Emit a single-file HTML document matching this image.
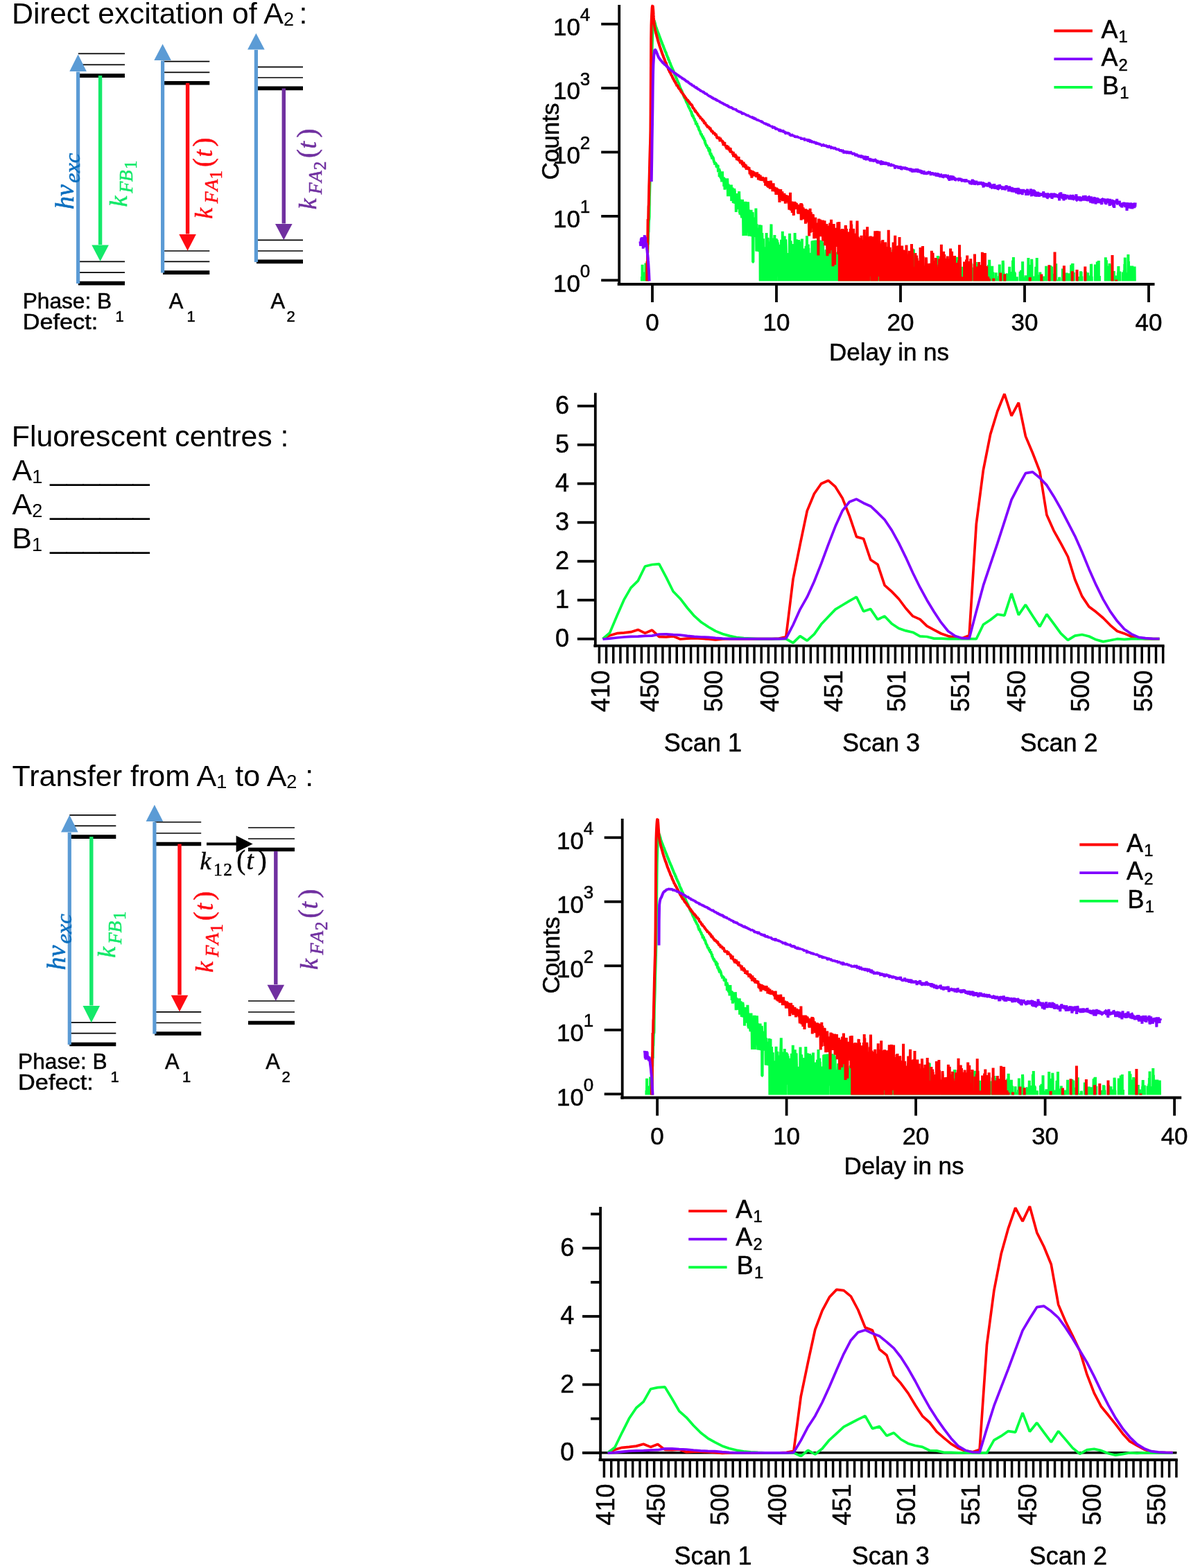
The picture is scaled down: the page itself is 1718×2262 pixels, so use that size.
<!DOCTYPE html>
<html lang="en"><head><meta charset="utf-8"><title>Fluorescence decay and spectra</title>
<style>
html,body{margin:0;padding:0;background:#fff;}
svg{display:block;}
text{white-space:pre;}
</style></head>
<body>
<svg width="1718" height="2262" viewBox="0 0 1718 2262">
<rect width="1718" height="2262" fill="#fff"/>
<text x="17" y="34.3" font-family='"Liberation Sans", sans-serif' font-size="43" fill="#000" xml:space="preserve"><tspan>Direct excitation of A</tspan><tspan font-size="27.09" dy="3">2 </tspan><tspan dy="-3" font-size="43">&#8203;</tspan><tspan>:</tspan></text>
<line x1="112.9" y1="77.4" x2="180" y2="77.4" stroke="#000" stroke-width="1.7"/><line x1="112.9" y1="93.4" x2="180" y2="93.4" stroke="#000" stroke-width="1.7"/><line x1="112.9" y1="109.1" x2="180" y2="109.1" stroke="#000" stroke-width="5.6"/>
<line x1="112.9" y1="377.4" x2="180" y2="377.4" stroke="#000" stroke-width="1.7"/><line x1="112.9" y1="393.1" x2="180" y2="393.1" stroke="#000" stroke-width="1.7"/><line x1="112.9" y1="408.6" x2="180" y2="408.6" stroke="#000" stroke-width="5.6"/>
<line x1="235" y1="88.6" x2="302.3" y2="88.6" stroke="#000" stroke-width="1.7"/><line x1="235" y1="104.3" x2="302.3" y2="104.3" stroke="#000" stroke-width="1.7"/><line x1="235" y1="119.7" x2="302.3" y2="119.7" stroke="#000" stroke-width="5.6"/>
<line x1="235" y1="362" x2="302.3" y2="362" stroke="#000" stroke-width="1.7"/><line x1="235" y1="377.4" x2="302.3" y2="377.4" stroke="#000" stroke-width="1.7"/><line x1="235" y1="393.1" x2="302.3" y2="393.1" stroke="#000" stroke-width="5.6"/>
<line x1="370" y1="96.6" x2="437" y2="96.6" stroke="#000" stroke-width="1.7"/><line x1="370" y1="112" x2="437" y2="112" stroke="#000" stroke-width="1.7"/><line x1="370" y1="127.4" x2="437" y2="127.4" stroke="#000" stroke-width="5.6"/>
<line x1="370" y1="346.3" x2="437" y2="346.3" stroke="#000" stroke-width="1.7"/><line x1="370" y1="362" x2="437" y2="362" stroke="#000" stroke-width="1.7"/><line x1="370" y1="377.4" x2="437" y2="377.4" stroke="#000" stroke-width="5.6"/>
<line x1="112.6" y1="409.1" x2="112.6" y2="103.4" stroke="#5b9bd5" stroke-width="5.2"/><polygon points="100.3,102.9 124.9,102.9 112.6,78.6" fill="#5b9bd5"/>
<line x1="144.6" y1="109.1" x2="144.6" y2="352.9" stroke="#14e969" stroke-width="5.4"/><polygon points="132.3,353.4 156.9,353.4 144.6,377.1" fill="#14e969"/>
<line x1="234.6" y1="393.6" x2="234.6" y2="87.6" stroke="#5b9bd5" stroke-width="5.2"/><polygon points="222.3,87.1 246.9,87.1 234.6,63.4" fill="#5b9bd5"/>
<line x1="270.6" y1="119.7" x2="270.6" y2="337.5" stroke="#ff0a12" stroke-width="5.4"/><polygon points="258.3,338 282.9,338 270.6,361.7" fill="#ff0a12"/>
<line x1="369.4" y1="377.9" x2="369.4" y2="71.9" stroke="#5b9bd5" stroke-width="5.2"/><polygon points="357.1,71.4 381.7,71.4 369.4,48" fill="#5b9bd5"/>
<line x1="409.3" y1="127.4" x2="409.3" y2="322.4" stroke="#7030a0" stroke-width="5.4"/><polygon points="397,322.9 421.6,322.9 409.3,346.3" fill="#7030a0"/>
<text transform="translate(105.8 302) rotate(-90)" font-family='"Liberation Serif", serif' font-size="38" fill="#0b6fbf" font-style="italic" stroke="#0b6fbf" stroke-width="0.55">h&#957;</text>
<text transform="translate(114.8 264) rotate(-90)" font-family='"Liberation Serif", serif' font-size="32.5" fill="#0b6fbf" font-style="italic" stroke="#0b6fbf" stroke-width="0.55">exc</text>
<text transform="translate(182.6 298.4) rotate(-90)" font-family='"Liberation Serif", serif' font-size="36" fill="#14e969" font-style="italic" stroke="#14e969" stroke-width="0.55">k</text><text transform="translate(191.2 278.6) rotate(-90)" font-family='"Liberation Serif", serif' font-size="27.5" fill="#14e969" font-style="italic" stroke="#14e969" stroke-width="0.55">F</text><text transform="translate(191.2 262.2) rotate(-90)" font-family='"Liberation Serif", serif' font-size="27.5" fill="#14e969" font-style="italic" stroke="#14e969" stroke-width="0.55">B</text><text transform="translate(196.9 243.9) rotate(-90)" font-family='"Liberation Serif", serif' font-size="25" fill="#14e969" font-style="normal" stroke="#14e969" stroke-width="0.55">1</text>
<text transform="translate(305.7 315.8) rotate(-90)" font-family='"Liberation Serif", serif' font-size="36" fill="#ff0a12" font-style="italic" stroke="#ff0a12" stroke-width="0.55">k</text><text transform="translate(314.3 293.3) rotate(-90)" font-family='"Liberation Serif", serif' font-size="27.5" fill="#ff0a12" font-style="italic" stroke="#ff0a12" stroke-width="0.55">F</text><text transform="translate(314.3 275.6) rotate(-90)" font-family='"Liberation Serif", serif' font-size="27.5" fill="#ff0a12" font-style="italic" stroke="#ff0a12" stroke-width="0.55">A</text><text transform="translate(320 258.4) rotate(-90)" font-family='"Liberation Serif", serif' font-size="25" fill="#ff0a12" font-style="normal" stroke="#ff0a12" stroke-width="0.55">1</text><text transform="translate(305.7 241.1) rotate(-90)" font-family='"Liberation Serif", serif' font-size="39" fill="#ff0a12" font-style="normal" stroke="#ff0a12" stroke-width="0.55">(</text><text transform="translate(305.7 226.5) rotate(-90)" font-family='"Liberation Serif", serif' font-size="37" fill="#ff0a12" font-style="italic" stroke="#ff0a12" stroke-width="0.55">t</text><text transform="translate(305.7 211.6) rotate(-90)" font-family='"Liberation Serif", serif' font-size="39" fill="#ff0a12" font-style="normal" stroke="#ff0a12" stroke-width="0.55">)</text>
<text transform="translate(455.7 302.2) rotate(-90)" font-family='"Liberation Serif", serif' font-size="36" fill="#7030a0" font-style="italic" stroke="#7030a0" stroke-width="0.55">k</text><text transform="translate(464.3 280.3) rotate(-90)" font-family='"Liberation Serif", serif' font-size="27.5" fill="#7030a0" font-style="italic" stroke="#7030a0" stroke-width="0.55">F</text><text transform="translate(464.3 262.9) rotate(-90)" font-family='"Liberation Serif", serif' font-size="27.5" fill="#7030a0" font-style="italic" stroke="#7030a0" stroke-width="0.55">A</text><text transform="translate(470 245.2) rotate(-90)" font-family='"Liberation Serif", serif' font-size="25" fill="#7030a0" font-style="normal" stroke="#7030a0" stroke-width="0.55">2</text><text transform="translate(455.7 227.9) rotate(-90)" font-family='"Liberation Serif", serif' font-size="39" fill="#7030a0" font-style="normal" stroke="#7030a0" stroke-width="0.55">(</text><text transform="translate(455.7 214.4) rotate(-90)" font-family='"Liberation Serif", serif' font-size="37" fill="#7030a0" font-style="italic" stroke="#7030a0" stroke-width="0.55">t</text><text transform="translate(455.7 198.6) rotate(-90)" font-family='"Liberation Serif", serif' font-size="39" fill="#7030a0" font-style="normal" stroke="#7030a0" stroke-width="0.55">)</text>
<text x="32.7" y="444.9" font-family='"Liberation Sans", sans-serif' font-size="32" fill="#000" text-anchor="start" textLength="128.5" lengthAdjust="spacingAndGlyphs" stroke="#000" stroke-width="0.5">Phase: B</text>
<text x="32.7" y="475.2" font-family='"Liberation Sans", sans-serif' font-size="32" fill="#000" text-anchor="start" textLength="108.6" lengthAdjust="spacingAndGlyphs" stroke="#000" stroke-width="0.5">Defect:</text>
<text x="166.5" y="463.7" font-family='"Liberation Sans", sans-serif' font-size="22" fill="#000" text-anchor="start" stroke="#000" stroke-width="0.5">1</text>
<text x="243.7" y="444.9" font-family='"Liberation Sans", sans-serif' font-size="32" fill="#000" text-anchor="start" textLength="20.6" lengthAdjust="spacingAndGlyphs" stroke="#000" stroke-width="0.5">A</text>
<text x="269.5" y="463.7" font-family='"Liberation Sans", sans-serif' font-size="22" fill="#000" text-anchor="start" stroke="#000" stroke-width="0.5">1</text>
<text x="390.6" y="444.9" font-family='"Liberation Sans", sans-serif' font-size="32" fill="#000" text-anchor="start" textLength="20.6" lengthAdjust="spacingAndGlyphs" stroke="#000" stroke-width="0.5">A</text>
<text x="413.5" y="463.7" font-family='"Liberation Sans", sans-serif' font-size="22" fill="#000" text-anchor="start" stroke="#000" stroke-width="0.5">2</text>
<text x="16.8" y="643.7" font-family='"Liberation Sans", sans-serif' font-size="42.8" fill="#000" xml:space="preserve"><tspan>Fluorescent centres :</tspan></text>
<text x="17.5" y="692.9" font-family='"Liberation Sans", sans-serif' font-size="43" fill="#000" xml:space="preserve"><tspan>A</tspan><tspan font-size="27.09" dy="4.2">1</tspan><tspan dy="-4.2" font-size="43">&#8203;</tspan></text>
<text x="72.3" y="692.9" font-family='"Liberation Sans", sans-serif' font-size="43" fill="#000" text-anchor="start" textLength="143.4" lengthAdjust="spacingAndGlyphs">______</text>
<text x="17.5" y="741.9" font-family='"Liberation Sans", sans-serif' font-size="43" fill="#000" xml:space="preserve"><tspan>A</tspan><tspan font-size="27.09" dy="4.2">2</tspan><tspan dy="-4.2" font-size="43">&#8203;</tspan></text>
<text x="72.3" y="741.9" font-family='"Liberation Sans", sans-serif' font-size="43" fill="#000" text-anchor="start" textLength="143.4" lengthAdjust="spacingAndGlyphs">______</text>
<text x="17.2" y="790.9" font-family='"Liberation Sans", sans-serif' font-size="43" fill="#000" xml:space="preserve"><tspan>B</tspan><tspan font-size="27.09" dy="4.2">1</tspan><tspan dy="-4.2" font-size="43">&#8203;</tspan></text>
<text x="72.3" y="790.9" font-family='"Liberation Sans", sans-serif' font-size="43" fill="#000" text-anchor="start" textLength="143.4" lengthAdjust="spacingAndGlyphs">______</text>
<text x="17.5" y="1134.2" font-family='"Liberation Sans", sans-serif' font-size="43" fill="#000" xml:space="preserve"><tspan>Transfer from A</tspan><tspan font-size="27.09" dy="3">1</tspan><tspan dy="-3" font-size="43">&#8203;</tspan><tspan> to A</tspan><tspan font-size="27.09" dy="3">2</tspan><tspan dy="-3" font-size="43">&#8203;</tspan><tspan> :</tspan></text>
<line x1="100.3" y1="1175.8" x2="167.3" y2="1175.8" stroke="#000" stroke-width="1.7"/><line x1="100.3" y1="1191.3" x2="167.3" y2="1191.3" stroke="#000" stroke-width="1.7"/><line x1="100.3" y1="1207.1" x2="167.3" y2="1207.1" stroke="#000" stroke-width="5.6"/>
<line x1="100.3" y1="1475.2" x2="167.3" y2="1475.2" stroke="#000" stroke-width="1.7"/><line x1="100.3" y1="1490.7" x2="167.3" y2="1490.7" stroke="#000" stroke-width="1.7"/><line x1="100.3" y1="1506.5" x2="167.3" y2="1506.5" stroke="#000" stroke-width="5.6"/>
<line x1="223.2" y1="1186" x2="290.2" y2="1186" stroke="#000" stroke-width="1.7"/><line x1="223.2" y1="1202" x2="290.2" y2="1202" stroke="#000" stroke-width="1.7"/><line x1="223.2" y1="1217.5" x2="290.2" y2="1217.5" stroke="#000" stroke-width="5.6"/>
<line x1="223.2" y1="1459.8" x2="290.2" y2="1459.8" stroke="#000" stroke-width="1.7"/><line x1="223.2" y1="1475.5" x2="290.2" y2="1475.5" stroke="#000" stroke-width="1.7"/><line x1="223.2" y1="1491" x2="290.2" y2="1491" stroke="#000" stroke-width="5.6"/>
<line x1="358" y1="1194" x2="425" y2="1194" stroke="#000" stroke-width="1.7"/><line x1="358" y1="1210" x2="425" y2="1210" stroke="#000" stroke-width="1.7"/><line x1="358" y1="1225.5" x2="425" y2="1225.5" stroke="#000" stroke-width="5.6"/>
<line x1="358" y1="1444" x2="425" y2="1444" stroke="#000" stroke-width="1.7"/><line x1="358" y1="1460" x2="425" y2="1460" stroke="#000" stroke-width="1.7"/><line x1="358" y1="1475.5" x2="425" y2="1475.5" stroke="#000" stroke-width="5.6"/>
<line x1="100.3" y1="1507" x2="100.3" y2="1201" stroke="#5b9bd5" stroke-width="5.2"/><polygon points="88,1200.5 112.6,1200.5 100.3,1175.8" fill="#5b9bd5"/>
<line x1="131.8" y1="1207.1" x2="131.8" y2="1450.6" stroke="#14e969" stroke-width="5.4"/><polygon points="119.5,1451.1 144.1,1451.1 131.8,1475.2" fill="#14e969"/>
<line x1="222.9" y1="1491.5" x2="222.9" y2="1185.5" stroke="#5b9bd5" stroke-width="5.2"/><polygon points="210.6,1185 235.2,1185 222.9,1161" fill="#5b9bd5"/>
<line x1="259" y1="1217.5" x2="259" y2="1435.2" stroke="#ff0a12" stroke-width="5.4"/><polygon points="246.7,1435.7 271.3,1435.7 259,1459.5" fill="#ff0a12"/>
<line x1="397.8" y1="1228.1" x2="397.8" y2="1420.3" stroke="#7030a0" stroke-width="5.4"/><polygon points="385.5,1420.8 410.1,1420.8 397.8,1444" fill="#7030a0"/>
<line x1="298" y1="1217.5" x2="342" y2="1217.5" stroke="#000" stroke-width="3.8"/>
<polygon points="340.6,1205.4 340.6,1229.4 364.6,1217.5" fill="#000"/>
<text transform="translate(93.6 1399.6) rotate(-90)" font-family='"Liberation Serif", serif' font-size="38" fill="#0b6fbf" font-style="italic" stroke="#0b6fbf" stroke-width="0.55">h&#957;</text>
<text transform="translate(102.6 1361.6) rotate(-90)" font-family='"Liberation Serif", serif' font-size="32.5" fill="#0b6fbf" font-style="italic" stroke="#0b6fbf" stroke-width="0.55">exc</text>
<text transform="translate(166.4 1381.8) rotate(-90)" font-family='"Liberation Serif", serif' font-size="36" fill="#14e969" font-style="italic" stroke="#14e969" stroke-width="0.55">k</text><text transform="translate(175 1362) rotate(-90)" font-family='"Liberation Serif", serif' font-size="27.5" fill="#14e969" font-style="italic" stroke="#14e969" stroke-width="0.55">F</text><text transform="translate(175 1345.6) rotate(-90)" font-family='"Liberation Serif", serif' font-size="27.5" fill="#14e969" font-style="italic" stroke="#14e969" stroke-width="0.55">B</text><text transform="translate(180.7 1327.3) rotate(-90)" font-family='"Liberation Serif", serif' font-size="25" fill="#14e969" font-style="normal" stroke="#14e969" stroke-width="0.55">1</text>
<text transform="translate(306.6 1402.9) rotate(-90)" font-family='"Liberation Serif", serif' font-size="36" fill="#ff0a12" font-style="italic" stroke="#ff0a12" stroke-width="0.55">k</text><text transform="translate(315.2 1380.4) rotate(-90)" font-family='"Liberation Serif", serif' font-size="27.5" fill="#ff0a12" font-style="italic" stroke="#ff0a12" stroke-width="0.55">F</text><text transform="translate(315.2 1362.7) rotate(-90)" font-family='"Liberation Serif", serif' font-size="27.5" fill="#ff0a12" font-style="italic" stroke="#ff0a12" stroke-width="0.55">A</text><text transform="translate(320.9 1345.5) rotate(-90)" font-family='"Liberation Serif", serif' font-size="25" fill="#ff0a12" font-style="normal" stroke="#ff0a12" stroke-width="0.55">1</text><text transform="translate(306.6 1328.2) rotate(-90)" font-family='"Liberation Serif", serif' font-size="39" fill="#ff0a12" font-style="normal" stroke="#ff0a12" stroke-width="0.55">(</text><text transform="translate(306.6 1313.6) rotate(-90)" font-family='"Liberation Serif", serif' font-size="37" fill="#ff0a12" font-style="italic" stroke="#ff0a12" stroke-width="0.55">t</text><text transform="translate(306.6 1298.7) rotate(-90)" font-family='"Liberation Serif", serif' font-size="39" fill="#ff0a12" font-style="normal" stroke="#ff0a12" stroke-width="0.55">)</text>
<text transform="translate(457.5 1399.1) rotate(-90)" font-family='"Liberation Serif", serif' font-size="36" fill="#7030a0" font-style="italic" stroke="#7030a0" stroke-width="0.55">k</text><text transform="translate(466.1 1377.2) rotate(-90)" font-family='"Liberation Serif", serif' font-size="27.5" fill="#7030a0" font-style="italic" stroke="#7030a0" stroke-width="0.55">F</text><text transform="translate(466.1 1359.8) rotate(-90)" font-family='"Liberation Serif", serif' font-size="27.5" fill="#7030a0" font-style="italic" stroke="#7030a0" stroke-width="0.55">A</text><text transform="translate(471.8 1342.1) rotate(-90)" font-family='"Liberation Serif", serif' font-size="25" fill="#7030a0" font-style="normal" stroke="#7030a0" stroke-width="0.55">2</text><text transform="translate(457.5 1324.8) rotate(-90)" font-family='"Liberation Serif", serif' font-size="39" fill="#7030a0" font-style="normal" stroke="#7030a0" stroke-width="0.55">(</text><text transform="translate(457.5 1311.3) rotate(-90)" font-family='"Liberation Serif", serif' font-size="37" fill="#7030a0" font-style="italic" stroke="#7030a0" stroke-width="0.55">t</text><text transform="translate(457.5 1295.5) rotate(-90)" font-family='"Liberation Serif", serif' font-size="39" fill="#7030a0" font-style="normal" stroke="#7030a0" stroke-width="0.55">)</text>
<text x="288.5" y="1254.2" font-family='"Liberation Serif", serif' font-size="36" fill="#000" text-anchor="start" stroke="#000" stroke-width="0.5" font-style="italic">k</text>
<text x="308" y="1262.7" font-family='"Liberation Serif", serif' font-size="25.5" fill="#000" text-anchor="start" letter-spacing="1.6" stroke="#000" stroke-width="0.5">12</text>
<text x="341.3" y="1254.2" font-family='"Liberation Serif", serif' font-size="39" fill="#000" text-anchor="start" stroke="#000" stroke-width="0.5">(</text>
<text x="355.5" y="1254.2" font-family='"Liberation Serif", serif' font-size="37" fill="#000" text-anchor="start" stroke="#000" stroke-width="0.5" font-style="italic">t</text>
<text x="371.8" y="1254.2" font-family='"Liberation Serif", serif' font-size="39" fill="#000" text-anchor="start" stroke="#000" stroke-width="0.5">)</text>
<text x="26.1" y="1541.9" font-family='"Liberation Sans", sans-serif' font-size="32" fill="#000" text-anchor="start" textLength="128.5" lengthAdjust="spacingAndGlyphs" stroke="#000" stroke-width="0.5">Phase: B</text>
<text x="26.1" y="1572.2" font-family='"Liberation Sans", sans-serif' font-size="32" fill="#000" text-anchor="start" textLength="108.6" lengthAdjust="spacingAndGlyphs" stroke="#000" stroke-width="0.5">Defect:</text>
<text x="159.5" y="1560.7" font-family='"Liberation Sans", sans-serif' font-size="22" fill="#000" text-anchor="start" stroke="#000" stroke-width="0.5">1</text>
<text x="238" y="1541.9" font-family='"Liberation Sans", sans-serif' font-size="32" fill="#000" text-anchor="start" textLength="20.6" lengthAdjust="spacingAndGlyphs" stroke="#000" stroke-width="0.5">A</text>
<text x="263" y="1560.7" font-family='"Liberation Sans", sans-serif' font-size="22" fill="#000" text-anchor="start" stroke="#000" stroke-width="0.5">1</text>
<text x="383.3" y="1541.9" font-family='"Liberation Sans", sans-serif' font-size="32" fill="#000" text-anchor="start" textLength="20.6" lengthAdjust="spacingAndGlyphs" stroke="#000" stroke-width="0.5">A</text>
<text x="406.5" y="1560.7" font-family='"Liberation Sans", sans-serif' font-size="22" fill="#000" text-anchor="start" stroke="#000" stroke-width="0.5">2</text>
<clipPath id="c1"><rect x="894.7" y="0" width="900" height="405.5"/></clipPath>
<g clip-path="url(#c1)">
<polyline fill="none" stroke="#00ff40" stroke-width="4" stroke-linejoin="bevel" points="923.5,446.9 925.7,443.8 926,398.9 926.3,439.9 926.6,381.7 926.9,436.8 929.2,413.3 929.5,392.5 929.8,414.5 931.2,444.3 931.5,379.4 931.8,401.1 932,444.8 932.3,409.4 932.6,445.9 932.9,408.9 933.2,446.6 933.8,439.5 934.1,358.6 934.3,364.5 934.6,344.1 934.9,352.7 935.2,335.3 935.5,334.5 935.8,322.3 936.1,317 936.3,316.3 936.6,312.3 936.9,284.4 937.2,274.1 937.5,264.4 937.8,255.2 938.1,237.4 938.4,229.7 938.6,219.6 938.9,207.8 939.2,196.3 939.5,184.5 939.8,161.4 940.1,127.7 940.4,93.6 940.6,71.5 940.9,60.8 941.2,51.3 941.5,44.2 941.8,38.3 942.1,34.8 942.4,32 942.6,30.2 942.9,29.3 943.2,29.3 943.5,29.8 943.8,30.4 944.1,30.9 944.4,32 944.7,33 944.9,33.9 945.2,35.3 945.5,36.3 945.8,37.5 946.1,38.8 946.4,39.3 946.7,40 946.9,40.9 947.2,41.7 947.5,42.3 947.8,43.3 948.1,43.8 948.4,44.9 948.7,45.8 948.9,46.3 949.2,46.9 949.5,47.8 949.8,48.6 950.1,49.1 950.4,49.7 950.7,50.7 951,51.7 951.2,52.4 951.5,53 951.8,53.9 952.1,54.6 952.4,55.5 952.7,55.8 953,57.1 953.2,57.5 953.5,58.3 953.8,58.6 954.1,60 954.4,60.8 954.7,61.1 955,61.8 955.2,62.9 955.5,63.2 955.8,64.4 956.1,64.7 956.4,65.5 956.7,65.9 957,67.2 957.3,67.9 957.5,68.4 957.8,69.5 958.1,70 958.4,70.8 958.7,71.5 959,71.8 959.3,73.3 959.5,73.5 959.8,74.5 960.1,74.9 960.4,75.2 960.7,76.2 961,76.9 961.3,77.9 961.5,78.3 961.8,79.7 962.1,79.9 962.4,80.7 962.7,81.8 963,82.1 963.3,83.3 963.6,82.9 963.8,84.2 964.1,85.4 964.4,85.9 964.7,86.6 965,87 965.3,87.4 965.6,88.6 965.8,88.8 966.1,90.7 966.4,90.6 966.7,90.9 967,91.8 967.3,93 967.6,93.6 967.8,94.5 968.1,94.6 968.4,95.5 968.7,96.5 969,96.5 969.3,97.7 969.6,98.6 969.9,98.4 970.1,99.1 970.4,99.9 970.7,100.7 971,101.6 971.3,101.8 971.6,103 971.9,103.9 972.1,104.8 972.4,105.5 972.7,105.8 973,106.9 973.3,107.5 973.6,107.7 973.9,108 974.2,109.4 974.4,109.2 974.7,110.9 975,111.3 975.3,112.1 975.6,112.9 975.9,113.1 976.2,113.7 976.4,114.3 976.7,115.9 977,116 977.3,117.2 977.6,116.6 977.9,118.6 978.2,119 978.4,120 978.7,119.1 979,120.6 979.3,120.9 979.6,121.8 979.9,123 980.2,124 980.5,124.4 980.7,125.3 981,126.1 981.3,127 981.6,126.9 981.9,128.2 982.2,128.7 982.5,130.7 982.7,129.5 983,131 983.3,130.3 983.6,131.7 983.9,132.4 984.2,133.4 984.5,134.7 984.7,134.3 985,134.9 985.3,135.8 985.6,136.5 985.9,137 986.2,138.3 986.5,139.3 986.8,139.8 987,139.1 987.3,140.8 987.6,141.9 987.9,141.5 988.2,143 988.5,142.3 988.8,143.4 989,144.1 989.3,144.2 989.6,145.9 989.9,146.5 990.2,147.1 990.5,147.6 990.8,148.8 991,148.6 991.3,149.4 991.6,149.1 991.9,151.2 992.2,151.2 992.5,151.2 992.8,153.3 993.1,153.7 993.3,153.5 993.6,154.2 993.9,155.3 994.2,155.8 994.5,156.1 994.8,156.9 995.1,157.7 995.3,157.4 995.6,158.8 995.9,159.2 996.2,158.9 996.5,161.3 996.8,160.7 997.1,160.8 997.3,161.5 997.6,164.6 997.9,162.8 998.2,166.2 998.5,165.7 998.8,167.4 999.1,167.8 999.4,166.4 999.6,166.5 999.9,168.4 1000.2,168.9 1000.5,169.5 1000.8,170.7 1001.1,170.8 1001.4,172.2 1001.6,171.5 1001.9,172 1002.2,173.9 1002.5,174.2 1002.8,175.2 1003.1,174.6 1003.4,176.8 1003.6,174.3 1003.9,179.9 1004.2,178.8 1004.5,177.3 1004.8,178.8 1005.1,177.4 1005.4,179.1 1005.7,180.9 1005.9,181.6 1006.2,180.7 1006.5,182.7 1006.8,183.8 1007.1,182.2 1007.4,183.8 1007.7,183.7 1007.9,186.5 1008.2,186.3 1008.5,187.5 1008.8,188 1009.1,188.4 1009.4,188.4 1009.7,190.3 1010,189.3 1010.2,191.3 1010.5,192 1010.8,192.9 1011.1,193.2 1011.4,194.8 1011.7,193.3 1012,192.6 1012.2,195.2 1012.5,195.7 1012.8,196.5 1013.1,197.1 1013.4,197.5 1013.7,195.6 1014,198.4 1014.2,199.3 1014.5,199.8 1014.8,200.6 1015.1,198.4 1015.4,200.9 1015.7,201 1016,202.5 1016.3,202.2 1016.5,204 1016.8,202.4 1017.1,207.2 1017.4,205.6 1017.7,207 1018,208.3 1018.3,208.6 1018.5,208.7 1018.8,209.2 1019.1,211.6 1019.4,209.8 1019.7,209.9 1020,211.4 1020.3,211.2 1020.5,214 1020.8,213.6 1021.1,213.5 1021.4,213.4 1021.7,212.2 1022,215.5 1022.3,216.3 1022.6,218.6 1022.8,213.5 1023.1,217.3 1023.4,217.5 1023.7,219.9 1024,215.4 1024.3,222.9 1024.6,220.7 1024.8,223 1025.1,223.9 1025.4,220.8 1025.7,222.1 1026,225.9 1026.3,225 1026.6,227.3 1026.8,223.3 1027.1,228.4 1027.4,228.9 1027.7,225.5 1028,226.5 1028.3,228.3 1028.6,226.6 1028.9,229 1029.1,228.6 1029.4,231.2 1029.7,231.9 1030,232.8 1030.3,234.8 1030.6,233.9 1030.9,233.3 1031.1,237.7 1031.4,233.8 1031.7,237.7 1032,234.2 1032.3,237.8 1032.6,235.6 1032.9,237.3 1033.1,235.6 1033.4,239.9 1033.7,241.2 1034,240.6 1034.3,237.5 1034.6,242.4 1034.9,239.8 1035.2,240.9 1035.4,238.2 1035.7,239.9 1036,248.3 1036.3,247.4 1036.6,244.2 1036.9,244.8 1037.2,247.6 1037.4,243.1 1037.7,255.2 1038,245.4 1038.3,247.3 1038.6,250.5 1038.9,248.1 1039.2,255.2 1039.4,256.3 1039.7,249.8 1040,252.1 1040.3,258.3 1040.6,252.8 1040.9,254.6 1041.2,262.5 1041.5,252.2 1041.7,251.2 1042,247.3 1042.3,257.8 1042.6,256.3 1042.9,256.2 1043.2,257 1043.5,259.1 1043.7,258.6 1044,255.6 1044.3,269 1044.6,257.3 1044.9,256.9 1045.2,263.3 1045.5,273.7 1045.8,262.5 1046,258.1 1046.3,259.2 1046.6,266.4 1046.9,267.9 1047.2,267 1047.5,266.6 1047.8,261.6 1048,261.8 1048.3,272.3 1048.6,257.5 1048.9,267.5 1049.2,257.4 1049.5,264.4 1049.8,271.5 1050,283.3 1050.3,269.5 1050.6,266.4 1050.9,266.8 1051.2,283.1 1051.5,270.6 1051.8,267.4 1052.1,267.1 1052.3,279.1 1052.6,277.9 1052.9,268.4 1053.2,268.9 1053.5,277.1 1053.8,270.7 1054.1,273 1054.3,278.2 1054.6,276 1054.9,266.6 1055.2,289.9 1055.5,274.3 1055.8,278.9 1056.1,282.9 1056.3,278.3 1056.6,270.6 1056.9,285.7 1057.2,281.7 1057.5,286.1 1057.8,292.7 1058.1,292.3 1058.4,290.3 1058.6,272.1 1058.9,282.5 1059.2,272.1 1059.5,274.7 1059.8,275.4 1060.1,287.5 1060.4,290.2 1060.6,279.8 1060.9,282 1061.2,280.2 1061.5,283.9 1061.8,305.9 1062.1,296.5 1062.4,288.8 1062.6,291.8 1062.9,286.3 1063.2,292.9 1063.5,300.9 1063.8,279.1 1064.1,284.7 1064.4,295.3 1064.7,301.8 1064.9,294.5 1065.2,301 1065.5,293.7 1065.8,285.7 1066.1,276 1066.4,285 1066.7,299.2 1066.9,307.2 1067.2,287.6 1067.5,309.7 1067.8,297.8 1068.1,302.9 1068.4,302.6 1068.7,302.3 1068.9,296.6 1069.2,307.8 1069.5,311 1069.8,310.8 1070.1,314.3 1070.4,310.2 1070.7,306.5 1071,287.8 1071.2,302.7 1071.5,305.7 1071.8,302.2 1072.1,316.7 1072.4,340.1 1072.7,312 1073,311.9 1073.2,308.1 1073.5,301.5 1073.8,321 1074.1,308.2 1074.4,312.1 1074.7,312.1 1075,290.9 1075.2,301.7 1075.5,316.4 1075.8,291 1076.1,340.1 1076.4,308.5 1076.7,321.3 1077,293.5 1077.3,308.6 1077.5,332.9 1077.8,326.8 1078.1,312.5 1078.4,326.9 1078.7,312.6 1079,291.3 1079.3,302.1 1079.5,327 1079.8,302.2 1080.1,333.3 1080.4,340.6 1080.7,321.8 1081,317.1 1081.3,312.9 1081.6,309.1 1081.8,340.8 1082.1,327.3 1082.4,327.4 1082.7,333.6 1083,322.1 1083.3,327.5 1083.6,302.7 1083.8,333.7 1084.1,333.8 1084.4,341.1 1084.7,317.6 1085,333.9 1085.3,341.2 1085.6,306.1 1085.8,309.7 1086.1,378.1 1086.4,378.1 1086.7,327.9 1087,313.6 1087.3,328 1087.6,317.9 1087.9,318 1088.1,313.8 1088.4,341.6 1088.7,322.8 1089,313.9 1089.3,322.9 1089.6,322.9 1089.9,328.3 1090.1,341.9 1090.4,300.6 1090.7,334.7 1091,328.5 1091.3,362.6 1091.6,323.3 1091.9,342.2 1092.1,342.2 1092.4,362.8 1092.7,328.8 1093,335.1 1093.3,328.9 1093.6,335.2 1093.9,351.5 1094.2,335.3 1094.4,351.6 1094.7,335.4 1095,363.3 1095.3,335.5 1095.6,351.9 1095.9,324.2 1096.2,352.1 1096.4,329.8 1096.7,408.1 1097,352.7 1097.3,328.8 1097.6,347.1 1097.9,324.8 1098.2,381.3 1098.4,382.3 1098.7,469.5 1099,411.5 1099.3,336.1 1099.6,346.4 1099.9,353 1100.2,469.5 1100.5,372 1100.7,411.5 1101,344.2 1101.3,407.3 1101.6,367.1 1101.9,387.5 1102.2,412.3 1102.5,412.9 1102.7,386.7 1103,418.6 1103.3,412.6 1103.6,360.9 1103.9,409.4 1104.2,387.2 1104.5,366.3 1104.7,356.3 1105,389 1105.3,371 1105.6,335.9 1105.9,407.7 1106.2,355.9 1106.5,379.9 1106.8,343.8 1107,415.8 1107.3,342.7 1107.6,370.8 1107.9,411.5 1108.2,359.7 1108.5,383.9 1108.8,388.5 1109,418.5 1109.3,348.5 1109.6,411.5 1109.9,469.5 1110.2,386.8 1110.5,373.1 1110.8,418.7 1111.1,361.2 1111.3,367.9 1111.6,345 1111.9,342.4 1112.2,336.2 1112.5,323.4 1112.8,364.4 1113.1,349.1 1113.3,343.5 1113.6,414.4 1113.9,372.8 1114.2,367.9 1114.5,387 1114.8,356.3 1115.1,412.3 1115.3,363.4 1115.6,351.8 1115.9,353.3 1116.2,350.3 1116.5,407.2 1116.8,355.7 1117.1,355.5 1117.4,339.1 1117.6,364.6 1117.9,408.1 1118.2,387.7 1118.5,368.9 1118.8,381.7 1119.1,409.4 1119.4,356.9 1119.6,344.1 1119.9,390.7 1120.2,345.3 1120.5,368.1 1120.8,390.8 1121.1,346.3 1121.4,356.9 1121.6,356.1 1121.9,349.5 1122.2,372 1122.5,359.1 1122.8,365.8 1123.1,370.7 1123.4,469.5 1123.7,371.8 1123.9,356.4 1124.2,373.8 1124.5,353.9 1124.8,353.2 1125.1,362.3 1125.4,370.4 1125.7,359.8 1125.9,416.5 1126.2,370.7 1126.5,365.1 1126.8,355 1127.1,345.8 1127.4,389.8 1127.7,389.1 1127.9,409.1 1128.2,357.7 1128.5,370.9 1128.8,333.8 1129.1,384.1 1129.4,389.8 1129.7,365.3 1130,352.5 1130.2,417.9 1130.5,389.9 1130.8,408.6 1131.1,357.7 1131.4,385.1 1131.7,340.4 1132,382.5 1132.2,374.8 1132.5,356 1132.8,364 1133.1,370.6 1133.4,345.4 1133.7,354 1134,366.5 1134.2,388.9 1134.5,367.8 1134.8,411.6 1135.1,386.2 1135.4,382.6 1135.7,383.4 1136,367.4 1136.3,469.5 1136.5,411.5 1136.8,364.9 1137.1,412.1 1137.7,411.5 1138,381 1138.3,469.5 1138.5,408.9 1138.8,372.3 1139.1,336.7 1139.4,364.8 1139.7,388.9 1140,385 1140.3,365.6 1140.5,347.6 1140.8,350.2 1141.1,390.6 1141.4,469.5 1141.7,390.6 1142,388 1142.3,391.6 1142.6,383.1 1142.8,354.4 1143.1,370 1143.4,369.4 1143.7,352.1 1144,356.4 1144.3,383.3 1144.6,408.7 1144.8,411.5 1145.1,414.9 1145.4,354.9 1145.7,419.4 1146,373.2 1146.3,384.1 1146.6,336.1 1146.9,351.7 1147.1,372.1 1147.4,358 1147.7,362.7 1148,358.7 1148.3,368.5 1148.6,412.1 1148.9,345.3 1149.1,359 1149.4,368.3 1149.7,414.5 1150,368 1150.3,418.6 1150.6,347.7 1150.9,469.5 1151.1,350.5 1151.4,353.6 1151.7,382.5 1152,469.5 1152.3,346.1 1152.6,389.7 1152.9,370 1153.2,356.6 1153.4,352.2 1153.7,351 1154,348.4 1154.3,370.3 1154.6,372.4 1154.9,374 1155.2,365.1 1155.4,412 1155.7,411.5 1156,361.1 1156.3,384 1156.6,384.2 1156.9,344.5 1157.2,411.5 1157.4,386.4 1157.7,376 1158,361.7 1158.3,385.4 1158.6,365.3 1158.9,415.7 1159.2,367.5 1159.5,358.6 1159.7,469.5 1160,360.5 1160.3,418 1160.6,370.3 1160.9,391.6 1161.2,370.6 1161.5,361.4 1161.7,362.6 1162,372 1162.3,365.9 1162.6,354.8 1162.9,415.8 1163.2,364.7 1163.5,421.3 1163.7,391.8 1164,340.2 1164.3,414.6 1164.6,373.8 1164.9,377.1 1165.2,384 1165.5,384 1165.8,352.6 1166,385.4 1166.3,357.8 1166.6,386.2 1166.9,373 1167.2,385.5 1167.5,371 1167.8,413 1168,386.7 1168.3,388.7 1168.6,375.3 1168.9,414.1 1169.2,364.7 1169.5,383.9 1169.8,416.8 1170,393.8 1170.3,413.9 1170.6,390.6 1170.9,382.9 1171.2,382.2 1171.5,347.7 1171.8,388.2 1172.1,373.7 1172.3,413.7 1172.6,347 1172.9,377.7 1173.2,411.5 1173.8,469.5 1174.1,391.1 1174.3,418.7 1174.6,415.9 1174.9,346.7 1175.2,420.1 1175.5,354.6 1175.8,366.5 1176.1,389 1176.3,419.6 1176.6,346.6 1176.9,469.5 1177.2,373.2 1177.5,366.2 1177.8,387.6 1178.1,368.9 1178.4,385.8 1178.6,391.9 1178.9,389.8 1179.2,350.2 1179.5,387.1 1179.8,364 1180.1,339.9 1180.4,371.3 1180.6,392.2 1180.9,367.5 1181.2,416.6 1181.5,386 1181.8,356.1 1182.1,469.5 1182.4,365.2 1182.6,417.8 1182.9,469.5 1183.2,346.4 1183.5,378.3 1183.8,420.9 1184.1,365.6 1184.4,362.4 1184.7,358.2 1184.9,387.1 1185.2,366.1 1185.5,347.6 1185.8,369.1 1186.1,362.6 1186.4,349.8 1186.7,370.2 1186.9,394.8 1187.2,353.6 1187.5,469.5 1187.8,416 1188.1,376.4 1188.4,370.5 1188.7,370.7 1189,412.7 1189.2,469.5 1189.5,391.3 1189.8,469.5 1190.1,384.4 1190.4,413 1190.7,469.5 1191,374.2 1191.2,370.1 1191.5,361.2 1191.8,360.7 1192.1,469.5 1192.4,417.8 1192.7,390.4 1193,469.5 1193.2,414.6 1193.5,375 1193.8,421.5 1194.1,363.5 1194.4,469.5 1194.7,392.1 1195,420.7 1195.8,417.7 1196.1,361.7 1196.4,422.6 1196.7,356.9 1197,417.1 1197.3,358.9 1197.5,358.1 1197.8,421.3 1198.1,469.5 1198.4,377.2 1198.7,390.3 1199,395.4 1199.3,393.5 1199.5,394.4 1199.8,393.5 1200.1,379.8 1200.4,362 1200.7,338.8 1201,415 1201.3,412.6 1201.6,396.5 1201.8,341.4 1202.1,379.3 1202.4,390.3 1202.7,373.9 1203,358.1 1203.3,469.5 1203.6,391.9 1203.8,414.4 1204.1,393.9 1204.4,469.5 1204.7,417.3 1205,387.4 1205.3,389 1205.6,366.7 1205.8,421.6 1206.1,396.2 1206.4,393.4 1206.7,387.4 1207,388.5 1207.3,393.3 1207.6,374.1 1207.9,380 1208.1,363.7 1208.4,366.8 1208.7,415.4 1209,362.7 1209.3,393 1209.6,390.8 1209.9,469.5 1210.7,421.4 1211,360.5 1211.3,414.3 1211.6,370.7 1211.9,395 1212.1,424.2 1212.4,379.4 1212.7,469.5 1213,369.2 1213.3,417.7 1213.6,372.1 1213.9,372.4 1214.2,469.5 1214.4,344.2 1214.7,370 1215,375.9 1215.3,390.2 1215.6,364.4 1215.9,389.6 1216.2,375.9 1216.4,372.9 1216.7,372.2 1217,419.8 1217.3,469.5 1217.6,342.8 1217.9,421.1 1218.2,395.1 1218.5,376.4 1218.7,382.1 1219,376.4 1219.3,424.8 1219.6,376 1219.9,395.4 1220.2,421.3 1220.5,417.9 1220.7,387.9 1221,387.4 1221.3,380.9 1221.6,380.6 1221.9,425.8 1222.2,379.3 1222.5,415.3 1222.7,419.8 1223,398.9 1223.3,469.5 1223.6,360.2 1223.9,423.7 1224.2,375 1224.5,362.4 1224.8,362.1 1225,367.3 1225.3,396.6 1225.6,394 1225.9,368.1 1226.2,415.3 1226.5,426.6 1226.8,383.1 1227,422.3 1227.3,363.9 1227.6,420.7 1228.2,421.9 1228.5,373.1 1228.8,367.7 1229,469.5 1229.3,366.2 1229.6,362.9 1229.9,354.9 1230.2,398.5 1230.5,417.6 1230.8,388.2 1231.1,359.5 1231.3,469.5 1231.6,379.6 1231.9,392.9 1232.2,363.3 1232.5,415.9 1232.8,370 1233.1,343.7 1233.3,382.4 1233.6,419 1234.2,469.5 1234.5,378 1234.8,423 1235.1,392.1 1235.3,364.2 1235.6,361.8 1235.9,381.7 1236.2,418.3 1236.5,378 1236.8,424.1 1237.1,363.1 1237.4,380.8 1237.6,393.3 1237.9,420.2 1238.5,420.6 1238.8,396.9 1239.1,369.1 1239.4,469.5 1239.6,423.3 1239.9,377.3 1240.2,383.5 1240.5,394.3 1240.8,382.4 1241.1,425.2 1241.4,397.4 1241.6,418 1241.9,362.4 1242.2,359.4 1242.5,371.6 1242.8,377.1 1243.1,426.6 1244.2,421.5 1244.5,364.4 1244.8,382.8 1245.1,426.7 1245.4,358.6 1245.7,377.1 1245.9,375.1 1246.2,390.4 1246.5,426.6 1246.8,393.3 1247.1,469.5 1247.7,469.5 1247.9,379.7 1248.2,469.5 1248.5,374.1 1248.8,421.9 1249.1,353.2 1249.4,391.5 1249.7,383.9 1250,366.2 1250.2,360 1250.5,364.2 1250.8,420.7 1251.1,392.1 1251.4,379.4 1251.7,398.9 1252,429.4 1252.5,469.5 1252.8,396.8 1253.1,370.2 1253.4,429.4 1253.7,395.7 1254,425.3 1254.3,382.1 1254.5,421.8 1254.8,392.1 1255.1,393.3 1255.4,427.5 1255.7,364.8 1256,399.9 1256.3,469.5 1256.5,399.1 1256.8,395.4 1257.1,378 1257.4,402.6 1257.7,399.6 1258,423 1258.3,419.7 1258.5,379.9 1258.8,399 1259.1,364.9 1259.4,427.4 1259.7,380.5 1260,371 1260.3,372.5 1260.6,426.5 1260.8,469.5 1261.1,357 1261.4,356 1261.7,392.7 1262,469.5 1262.3,426.8 1262.6,394.1 1262.8,430.2 1263.1,375.6 1263.4,382.5 1263.7,380.9 1264,426.8 1264.3,395.2 1264.6,426.4 1265.1,428.3 1265.4,381.8 1265.7,426.8 1266,401.8 1266.3,469.5 1266.6,424.5 1266.9,394.3 1267.1,469.5 1267.4,380.9 1267.7,383.1 1268,424.3 1268.3,399.5 1268.6,376.4 1268.9,422.4 1269.1,395.3 1269.4,399.9 1269.7,469.5 1270,429.7 1270.3,376.8 1270.6,469.5 1270.9,359.8 1271.1,363.8 1271.4,469.5 1271.7,423.8 1272,402.5 1272.3,428.5 1272.6,385.6 1272.9,469.5 1273.2,381.3 1273.4,388.9 1273.7,394.3 1274,397.1 1274.3,430.3 1274.6,426.8 1274.9,400.6 1275.2,360.4 1275.4,469.5 1275.7,426.7 1276,405.6 1276.3,393.8 1276.6,401.4 1276.9,400.9 1277.2,379.9 1277.4,404.5 1277.7,469.5 1278,394.4 1278.3,433 1278.6,402.9 1278.9,469.5 1279.2,370.8 1279.5,423.9 1279.7,367.7 1280,368.9 1280.3,394.5 1280.6,389.3 1280.9,432 1281.2,425.8 1281.5,380.5 1281.7,397.7 1282,426.5 1282.3,423.2 1282.6,406.1 1282.9,429.8 1283.2,401.7 1283.5,379.9 1283.7,428.1 1284.3,424.9 1284.6,395.5 1284.9,399.9 1285.2,426.3 1285.5,424.2 1285.8,396.2 1286,380.8 1286.3,389 1286.6,396.2 1286.9,400.5 1287.2,388.7 1287.5,406.8 1287.8,364.1 1288,469.5 1288.3,360.1 1288.6,391.4 1288.9,469.5 1289.2,400.5 1289.5,429.7 1289.8,407.8 1290.1,426.5 1290.3,402.6 1290.6,390.8 1290.9,469.5 1291.2,469.5 1291.5,406.1 1291.8,429 1292.1,400.5 1292.3,372.5 1292.6,408.2 1292.9,389.8 1293.2,433.4 1293.5,358.6 1293.8,432.2 1294.1,385 1294.3,433.8 1294.6,397.3 1294.9,469.5 1295.2,392 1295.5,469.5 1295.8,431.9 1296.1,402.8 1296.4,397.8 1296.6,469.5 1296.9,469.5 1297.2,384.7 1297.5,427.1 1298.1,435.4 1298.4,381.1 1298.6,469.5 1298.9,469.5 1299.2,387.1 1299.5,426.3 1299.8,399.7 1300.1,378.4 1300.4,469.5 1302.1,433.2 1302.4,399 1302.7,374.9 1302.9,400.6 1303.2,436.9 1303.5,436.7 1303.8,406.9 1304.1,469.5 1305.5,429.3 1305.8,382.4 1306.1,401.4 1306.4,469.5 1307.2,469.5 1307.5,403.5 1307.8,469.5 1308.1,400.7 1308.4,390.9 1308.7,432.7 1309.5,437.2 1309.8,403.6 1310.1,430 1311,469.5 1311.2,408.7 1311.5,430.1 1311.8,469.5 1312.1,399.9 1312.4,402 1312.7,469.5 1313.2,436.4 1313.5,365.4 1313.8,469.5 1314.1,469.5 1314.4,389.7 1314.7,430.7 1315,469.5 1315.3,382.8 1315.5,429.1 1316.1,431.5 1316.4,401 1316.7,375 1317,381.7 1317.3,403.6 1317.5,469.5 1317.8,359.5 1318.1,393.3 1318.4,436.6 1318.7,401.5 1319,430.8 1319.3,408.8 1319.5,404.6 1319.8,400.3 1320.1,436.5 1320.4,408 1320.7,400.5 1321,388.1 1321.3,469.5 1321.8,432.8 1322.1,373.5 1322.4,469.5 1322.7,469.5 1323,401.9 1323.3,377.3 1323.6,389.5 1323.8,469.5 1324.4,469.5 1324.7,389.7 1325,428.9 1326.1,469.5 1326.4,396.3 1326.7,403.2 1327,411.5 1327.3,406 1327.6,404.8 1327.9,396.7 1328.1,429.1 1328.4,407.9 1328.7,403.7 1329,405.7 1329.3,402.9 1329.6,438.4 1329.9,369.4 1330.1,431.2 1331,411.5 1331.3,404.6 1331.6,441 1332.2,469.5 1332.4,406.5 1332.7,411.5 1333.6,429.7 1333.9,408.8 1334.2,469.5 1335.3,432.7 1335.6,388.8 1335.9,407.9 1336.2,412.6 1336.4,390.2 1336.7,441.7 1337.9,441.6 1338.2,404.9 1338.5,438.7 1339.3,469.5 1339.6,386.2 1339.9,469.5 1340.7,411.7 1341,384.6 1341.3,404.4 1341.6,469.5 1341.9,393.1 1342.2,388.6 1342.5,394.9 1342.7,391.1 1343,469.5 1343.3,469.5 1343.6,404.3 1343.9,412.2 1344.2,411.5 1344.5,384.5 1344.8,380.6 1345,378.9 1345.3,433.5 1346.2,440.3 1346.5,393.3 1346.8,469.5 1347,469.5 1347.3,379 1347.6,396.2 1347.9,469.5 1351.3,469.5 1351.6,391.5 1351.9,469.5 1352.5,436.1 1352.8,369 1353.1,437.1 1353.3,433.8 1353.6,389.8 1353.9,441.2 1354.2,407.3 1354.5,394.2 1354.8,436 1357.1,435.2 1357.4,375.4 1357.6,469.5 1359.4,437.5 1359.6,387.2 1359.9,415.7 1360.2,411.9 1360.5,399.4 1360.8,438.9 1361.1,413.2 1361.4,393.5 1361.7,411.5 1361.9,406.7 1362.2,436 1363.4,440.1 1363.7,405.8 1363.9,445.5 1364.2,394.1 1364.5,390 1364.8,435.2 1365.7,435.1 1365.9,409.4 1366.2,415 1367.1,414.5 1367.4,381.4 1367.7,436.6 1368,391.5 1368.2,385.8 1368.5,443.4 1370,437.2 1370.2,399.8 1370.5,437.5 1371.1,469.5 1371.4,396.9 1371.7,408.7 1372,469.5 1372.5,436.2 1372.8,382.5 1373.1,399.8 1373.4,411.5 1373.7,437.7 1374,390.1 1374.3,372.9 1374.5,380 1374.8,469.5 1376.8,412 1377.1,400.7 1377.4,441.2 1377.7,411.5 1378,381.8 1378.3,411.5 1378.5,381.3 1378.8,411.5 1379.1,397.1 1379.4,469.5 1379.7,398.2 1380,384 1380.3,445 1380.6,370.7 1380.8,469.5 1381.1,401.7 1381.4,393.3 1381.7,441.8 1382,395 1382.3,469.5 1382.6,403 1382.8,440.4 1384.8,440.6 1385.1,393.5 1385.4,440 1386,411.5 1386.3,387.1 1386.6,447.2 1386.9,411.8 1387.1,408.4 1387.4,469.5 1387.7,411.5 1388,384.7 1388.3,396.8 1388.6,440 1389.7,444.7 1390,392 1390.3,411.5 1392.9,411.5 1393.2,380.9 1393.4,412 1393.7,401.6 1394,399.7 1394.3,399.9 1394.6,411.6 1395.2,417.2 1395.4,395.2 1395.7,445.7 1396.9,469.5 1397.2,401.1 1397.5,412.5 1398.6,445 1398.9,408.2 1399.2,385.9 1399.5,416.8 1400.3,418.5 1400.6,379.2 1400.9,411.8 1401.2,393.8 1401.5,418.7 1401.7,392.5 1402,439 1402.3,393 1402.6,469.5 1403.2,469.5 1403.5,403.4 1403.8,443.9 1404,440.7 1404.3,408.1 1404.6,385.7 1404.9,393.1 1405.2,469.5 1405.5,416.4 1405.8,390.8 1406,469.5 1406.3,411.5 1406.6,402.5 1406.9,436.9 1407.2,391.8 1407.5,438.4 1407.8,378.1 1408,418.3 1408.3,415.6 1408.6,380.9 1408.9,444.7 1411.8,442.4 1412.1,399.2 1412.3,445.8 1414.3,469.5 1414.6,385.9 1414.9,441 1415.2,469.5 1415.5,402.7 1415.8,396.6 1416.1,415.3 1417.2,417.1 1417.5,395.1 1417.8,469.5 1418.1,400.8 1418.4,414.6 1419.8,412.2 1420.1,380.3 1420.4,469.5 1420.6,400.8 1420.9,392.1 1421.2,412.1 1422.1,416.1 1422.4,409.3 1422.7,469.5 1424.9,469.5 1425.2,385.1 1425.5,436.1 1425.8,417.9 1426.1,381.9 1426.4,397.5 1426.7,469.5 1426.9,393.8 1427.2,374.8 1427.5,392.7 1427.8,398 1428.1,396.1 1428.4,469.5 1431,469.5 1431.2,383.7 1431.5,437.8 1431.8,447.3 1432.1,395.2 1432.4,392.5 1432.7,469.5 1434.1,417.7 1434.4,403.3 1434.7,442 1436.1,444.9 1436.4,408.8 1436.7,393.3 1437,417.1 1438.7,440.4 1439,401.4 1439.3,469.5 1440.7,439.3 1441,398.2 1441.3,408 1441.6,411.7 1441.8,381.4 1442.1,469.5 1445,416.5 1445.3,399.9 1445.6,412.8 1445.9,395.6 1446.1,419.1 1446.4,397.7 1446.7,376 1447,380.4 1447.3,438.7 1447.6,393.6 1447.9,442.8 1449,411.5 1449.3,401.5 1449.6,469.5 1452.4,441.9 1452.7,395.6 1453,394.8 1453.3,469.5 1455.6,436.6 1455.9,398 1456.2,384.7 1456.4,438.8 1459,411.5 1459.3,392.1 1459.6,469.5 1459.9,394.6 1460.2,469.5 1460.7,469.5 1461,375.7 1461.3,445.7 1461.6,408.9 1461.9,371 1462.2,395.2 1462.5,415.2 1462.7,391.8 1463,437.5 1463.3,392.6 1463.6,413.3 1463.9,393.5 1464.2,446.5 1465,469.5 1465.3,401.9 1465.6,469.5 1466.5,446.6 1466.8,399.2 1467,413.2 1468.2,469.5 1468.5,407.7 1468.8,417.3 1469.6,436.6 1469.9,409.1 1470.2,440.5 1471.3,437.7 1471.6,391.8 1471.9,411.5 1472.8,436.8 1473.1,389.8 1473.3,436.8 1474.2,438.9 1474.5,393.6 1474.8,469.5 1475.1,377.2 1475.4,412.4 1475.6,469.5 1475.9,400 1476.2,401.2 1476.5,411.5 1476.8,469.5 1477.1,408.1 1477.4,416.7 1479.4,469.5 1479.6,397.3 1479.9,439.5 1482.8,413.4 1483.1,408.8 1483.4,372.1 1483.7,409.5 1483.9,440.2 1484.8,469.5 1485.1,399.9 1485.4,382 1485.7,418.9 1485.9,399.7 1486.2,416.3 1488,441.6 1488.2,373.7 1488.5,382.9 1488.8,436.2 1489.1,436.1 1489.4,398.7 1489.7,439.6 1490,469.5 1490.2,402.8 1490.5,441.9 1492,435.7 1492.2,398.5 1492.5,418.5 1493.7,440 1494,399.6 1494.3,384.8 1494.5,418.1 1494.8,409.3 1495.1,436.8 1495.4,469.5 1495.7,372 1496,469.5 1496.3,396.9 1496.5,411.5 1497.1,441.8 1497.4,409.1 1497.7,469.5 1498,412.3 1498.3,396.5 1498.5,418.7 1500,411.5 1500.3,392.6 1500.6,411.5 1504.6,437.3 1504.9,399.1 1505.1,442 1505.4,402.7 1505.7,445.7 1506,398.6 1506.3,469.5 1508.9,417.3 1509.1,383.8 1509.4,413.8 1509.7,408 1510,442.5 1513.4,469.5 1513.7,407.9 1514,469.5 1514.9,441 1515.2,383 1515.4,408.9 1515.7,437.5 1516.3,446 1516.6,395.3 1516.9,438 1517.2,384.6 1517.5,441.8 1518.3,435.7 1518.6,408.3 1518.9,438.5 1520.3,439.7 1520.6,394.7 1520.9,469.5 1522.9,411.5 1523.2,380.3 1523.5,435.6 1524,443.1 1524.3,403.5 1524.6,443.9 1527.8,436.9 1528,399.7 1528.3,401.8 1528.6,437.7 1532.6,437.7 1532.9,387.6 1533.2,396.7 1533.5,441 1533.8,401.3 1534.1,440.5 1536.9,469.5 1537.2,402.4 1537.5,417.2 1538.4,442.1 1538.6,393.6 1538.9,397.4 1539.2,397.4 1539.5,437.9 1539.8,443.4 1540.1,401.5 1540.4,411.8 1540.7,395.2 1540.9,446.8 1541.2,394.3 1541.5,411.5 1541.8,469.5 1542.1,407.8 1542.4,413.8 1544.9,411.5 1545.2,382.2 1545.5,438.4 1546.1,411.5 1546.4,392.1 1546.7,381.7 1547,380.9 1547.2,411.5 1547.5,379.9 1547.8,469.5 1548.4,442.4 1548.7,392.9 1549,442.1 1552.7,442.4 1553,408.5 1553.3,408.6 1553.5,469.5 1555,419.3 1555.3,399 1555.5,401.8 1555.8,469.5 1557.3,469.5 1557.5,409.3 1557.8,411.5 1558.1,409.1 1558.4,469.5 1558.7,414.5 1559,391.2 1559.3,440.8 1559.6,392.2 1559.8,469.5 1560.1,436.4 1560.4,398.4 1560.7,436.1 1565.6,469.5 1565.9,391.5 1566.1,411.5 1567,414.7 1567.3,397.1 1567.6,445.4 1568.7,419.7 1569,393.3 1569.3,415.8 1571,440 1571.3,397.6 1571.6,415.3 1573.6,469.5 1573.9,380.9 1574.2,382.9 1574.4,411.5 1574.7,398.9 1575,411.5 1576.2,469.5 1576.5,407.7 1576.7,414.2 1579.6,469.5 1579.9,381.5 1580.2,438.1 1580.5,390.5 1580.7,469.5 1581.3,469.5 1581.6,389.4 1581.9,441.3 1582.2,469.5 1582.5,395 1582.8,377.6 1583,412.2 1583.3,398.3 1583.6,440.7 1584.5,436.7 1584.8,375.9 1585,446.1 1585.3,398 1585.6,469.5 1585.9,397.9 1586.2,445.3 1588.5,436.5 1588.8,408.5 1589.1,444.6 1589.9,443 1590.2,408.1 1590.5,469.5 1591.3,447.2 1591.6,409.4 1591.9,418.5 1594.5,469.5 1594.8,371.3 1595.1,469.5 1595.4,397.3 1595.6,399.9 1595.9,375.3 1596.2,437.5 1597.6,411.5 1597.9,383.6 1598.2,439.7 1599.4,442.7 1599.6,392.9 1599.9,469.5 1600.2,417 1600.5,380 1600.8,444.1 1601.1,389.5 1601.4,409.3 1601.7,418.5 1601.9,469.5 1602.2,407.7 1602.5,408.2 1602.8,442.2 1603.1,414.4 1603.4,381.9 1603.7,442.3 1603.9,395.3 1604.2,391.8 1604.5,469.5 1605.7,469.5 1605.9,395.6 1606.2,435.6 1606.5,469.5 1606.8,391.1 1607.1,437.5 1608.5,469.5 1608.8,397.5 1609.1,413.1 1612.5,436.5 1612.8,393.2 1613.1,396.1 1613.4,384.1 1613.7,408.7 1614,438.5 1615.1,438.5 1615.4,391.5 1615.7,419.6 1616.5,469.5 1616.8,407.9 1617.1,469.5 1619.7,444.8 1620,392.5 1620.3,469.5 1621.4,469.5 1621.7,389.7 1622,443.9 1622.3,381 1622.6,469.5 1622.8,371.4 1623.1,412 1626,416.9 1626.3,393.3 1626.6,469.5 1626.9,412.3 1627.1,408.7 1627.4,366.9 1627.7,436 1628,376.9 1628.3,437.3 1628.9,469.5 1629.1,409.1 1629.4,411.6 1629.7,413.9 1630,409.4 1630.3,436.2 1630.6,383.5 1630.9,438.7 1631.4,469.5 1631.7,388.4 1632,444.9 1632.9,444.9 1633.2,383.5 1633.4,412 1634.6,441.8 1634.9,394.1 1635.2,469.5 1636.3,413.9 1636.6,384.4 1636.9,413.9 1637.7,411.5"/>
<polyline fill="none" stroke="#ff0000" stroke-width="4" stroke-linejoin="bevel" points="923.5,469.5 932.9,469.5 933.2,398.9 933.5,377.1 933.8,417.3 934.1,356.1 934.3,346 934.6,316.1 934.9,317.6 935.2,315.8 935.5,298.2 935.8,295.2 936.1,279.5 936.3,268.4 936.6,259.6 936.9,247.8 937.2,233.4 937.5,222.9 937.8,212.4 938.1,203.8 938.4,188.4 938.6,163.1 938.9,109.4 939.2,56.6 939.5,36.6 939.8,28.5 940.1,21.5 940.4,16.1 940.6,12 940.9,9.4 941.2,8.3 941.5,8.1 941.8,9.8 942.1,12.9 942.4,16.9 942.6,21.4 942.9,25.9 943.2,29.7 943.5,33.3 943.8,35.8 944.1,37.3 944.4,39.1 944.7,40.7 944.9,42 945.2,43.9 945.5,44.8 945.8,46.1 946.1,47.4 946.4,48.5 946.7,49.5 946.9,50.2 947.2,51.6 947.5,52.6 947.8,53.5 948.1,54.7 948.4,55.8 948.7,57.1 948.9,58.1 949.2,58.9 949.5,60 949.8,60.9 950.1,62.1 950.4,62.5 950.7,63.6 951,64.8 951.2,65.6 951.5,66.3 951.8,67.2 952.1,68.2 952.4,69.2 952.7,69.7 953,70.5 953.2,71.3 953.5,71.9 953.8,73.3 954.1,73.7 954.4,74.9 954.7,75.5 955,76.4 955.2,77.6 955.5,77.8 955.8,78.5 956.1,79.9 956.4,80.1 956.7,80.6 957,82.2 957.3,82.6 957.5,83.2 957.8,84 958.1,84.2 958.4,85.5 958.7,86.1 959,87.2 959.3,88.1 959.5,88.9 959.8,89.2 960.1,90 960.4,90.3 960.7,90.6 961,91.8 961.3,92.6 961.5,93.8 961.8,94.4 962.1,95 962.4,96 962.7,95.9 963,96.8 963.3,97.2 963.6,98.1 963.8,98.5 964.1,99.8 964.4,100.8 964.7,101 965,101.4 965.3,101.1 965.6,102.6 965.8,103.4 966.1,104.1 966.4,104.2 966.7,104.7 967,104.7 967.3,106 967.6,106.5 967.8,106.7 968.1,107.8 968.4,108.5 968.7,108.4 969,109.4 969.3,109.3 969.6,110.5 969.9,110.8 970.1,111.9 970.4,112.3 970.7,112.9 971,113.6 971.3,113.8 971.6,113.9 971.9,115.1 972.1,115.6 972.4,115.7 972.7,116.9 973,117.2 973.3,117.5 973.6,118.2 973.9,118.5 974.2,118.9 974.4,120 974.7,120 975,120.8 975.3,121.2 975.6,121 975.9,122.8 976.2,123.2 976.4,123.3 976.7,122.2 977,123.6 977.3,123.7 977.6,123.8 977.9,124.6 978.2,126 978.4,126.1 978.7,126.8 979,127 979.3,127.4 979.6,127.9 979.9,128.3 980.2,127.6 980.5,128.9 980.7,129.5 981,128.9 981.3,130.2 981.6,130.3 981.9,131.1 982.2,132.4 982.5,131.4 982.7,132.5 983,133 983.3,133.1 983.6,133.4 983.9,134.5 984.2,134.3 984.5,135 984.7,134.7 985,135.6 985.3,135.5 985.6,136.4 985.9,137.3 986.2,137.1 986.5,137.2 986.8,138.2 987,138.7 987.3,138.4 987.6,138.5 987.9,140 988.2,140.3 988.5,141 988.8,141.5 989,140.8 989.3,141.2 989.6,141.9 989.9,142 990.2,143.5 990.5,143 990.8,143.6 991,143 991.3,145.8 991.6,144.2 991.9,144.1 992.2,144.6 992.5,144.9 992.8,146.4 993.1,146.8 993.3,146.1 993.6,146.2 993.9,147.4 994.2,146.6 994.5,147.8 994.8,148.2 995.1,148.9 995.3,149.5 995.6,149.7 995.9,149.1 996.2,150.6 996.5,149.1 996.8,150.3 997.1,151.4 997.3,152 997.6,151.7 997.9,150.7 998.2,152.2 998.5,152.3 998.8,153.7 999.1,154.4 999.4,155.1 999.6,155.1 999.9,155.7 1000.2,157 1000.5,155.5 1000.8,156.5 1001.1,157 1001.4,157 1001.6,158.5 1001.9,158 1002.2,160 1002.5,160.1 1002.8,159.1 1003.1,158.8 1003.4,160.3 1003.6,161.2 1003.9,162.4 1004.2,161.9 1004.5,162.4 1004.8,162.1 1005.1,161.7 1005.4,163 1005.7,163.3 1005.9,163.2 1006.2,165 1006.5,164.8 1006.8,164.4 1007.1,165.4 1007.4,167 1007.7,166.1 1007.9,166.7 1008.2,167.2 1008.5,167 1008.8,167.8 1009.1,168.6 1009.4,167.9 1009.7,168.8 1010,170 1010.2,168.4 1010.5,170 1010.8,171.9 1011.1,171 1011.4,171.9 1011.7,170.6 1012,171.3 1012.2,171.2 1012.5,170.7 1012.8,172.6 1013.1,173 1013.4,174.1 1013.7,173.5 1014,172.8 1014.2,173.5 1014.5,175.4 1014.8,173.4 1015.1,176.4 1015.4,174.5 1015.7,176.8 1016,177.6 1016.3,177.4 1016.5,179 1016.8,178.1 1017.1,176.2 1017.4,177.7 1017.7,178.8 1018,179.3 1018.3,179.9 1018.5,179.6 1018.8,179.4 1019.1,181.1 1019.4,181.7 1019.7,181.4 1020,180.6 1020.3,182 1020.5,182.8 1020.8,183.9 1021.1,183.7 1021.4,181.7 1021.7,183.3 1022,183.4 1022.3,183 1022.6,184 1022.8,185.1 1023.1,183.2 1023.4,184.6 1023.7,185.5 1024,186.4 1024.3,186.4 1024.6,184 1024.8,187 1025.1,186.2 1025.4,188.1 1025.7,187.6 1026,188.2 1026.3,189.8 1026.6,189.8 1026.8,187.9 1027.1,190.2 1027.4,189 1027.7,189.3 1028,188.7 1028.3,190.7 1028.6,190.3 1028.9,192.6 1029.1,193 1029.4,192.3 1029.7,191.7 1030,193.3 1030.3,191.6 1030.6,191.9 1030.9,192.9 1031.1,193.9 1031.4,192.3 1031.7,194.6 1032,195.4 1032.3,195 1032.6,193.5 1032.9,194 1033.1,194.8 1033.4,196.6 1033.7,195.8 1034,198.8 1034.3,198.8 1034.6,197 1034.9,198.5 1035.2,200.5 1035.4,199.2 1035.7,198.3 1036,199.3 1036.3,197.5 1036.6,198.4 1036.9,199.5 1037.2,197.2 1037.4,199.1 1037.7,201.5 1038,198.7 1038.3,201.1 1038.6,204.2 1038.9,200.2 1039.2,198.7 1039.4,200.7 1039.7,202.2 1040,203.8 1040.3,201.2 1040.6,203.2 1040.9,202.7 1041.2,202 1041.5,203.8 1041.7,202.3 1042,203.7 1042.3,204.5 1042.6,206.6 1042.9,204 1043.2,205.3 1043.5,210.1 1043.7,207.8 1044,205.1 1044.3,207.1 1044.6,209.1 1044.9,207.5 1045.2,205 1045.5,207.4 1045.8,209.6 1046,211.1 1046.3,209.3 1046.6,210.9 1046.9,209.5 1047.2,211.4 1047.5,213.4 1047.8,211.1 1048,209.2 1048.3,214.1 1048.6,215.4 1048.9,214.5 1049.2,211.5 1049.5,211.5 1049.8,213.7 1050,210.9 1050.3,211.6 1050.6,213.5 1050.9,214 1051.2,213.5 1051.5,217.1 1051.8,212.8 1052.1,215.7 1052.3,216.3 1052.6,214.3 1052.9,218.1 1053.2,218.4 1053.5,213.4 1053.8,215 1054.1,220.3 1054.3,218.9 1054.6,220.4 1054.9,218.7 1055.2,218.4 1055.5,217.8 1055.8,219.6 1056.1,219.4 1056.3,220.9 1056.6,219.9 1056.9,223.3 1057.2,221 1057.5,221.2 1057.8,218.9 1058.1,226.4 1058.4,224.6 1058.6,222.6 1058.9,224 1059.2,224.2 1059.5,224.7 1059.8,223 1060.1,225.4 1060.4,221.5 1060.6,226.3 1060.9,226.8 1061.2,224.1 1061.5,224.5 1061.8,224.8 1062.1,225.1 1062.4,228.3 1062.6,226.7 1062.9,231.1 1063.2,226.1 1063.5,228.8 1063.8,229.7 1064.1,226.8 1064.4,227.2 1064.7,231.5 1064.9,227.6 1065.2,228.6 1065.5,226 1065.8,232.1 1066.1,230.3 1066.4,233 1066.7,232.5 1066.9,230.7 1067.2,232 1067.5,232.2 1067.8,234.8 1068.1,235.3 1068.4,234.1 1068.7,231.2 1068.9,231.8 1069.2,233.5 1069.5,234.4 1069.8,235.8 1070.1,232.7 1070.4,232.9 1070.7,238.1 1071,236.2 1071.2,236.2 1071.5,238.7 1071.8,235.1 1072.1,236.5 1072.4,241.5 1072.7,233.6 1073,238.1 1073.2,238.2 1073.5,239.5 1073.8,238.6 1074.1,240.8 1074.4,236.3 1074.7,239 1075,239.4 1075.2,242.4 1075.5,241.8 1075.8,238.3 1076.1,237.7 1076.4,240.4 1076.7,244.8 1077,242.1 1077.3,243.8 1077.5,241.1 1077.8,241 1078.1,244.9 1078.4,243.9 1078.7,240.2 1079,243.8 1079.3,244.5 1079.5,241.2 1079.8,244.7 1080.1,243.5 1080.4,241.1 1080.7,244.3 1081,245.2 1081.3,245.8 1081.6,251.5 1081.8,245.4 1082.1,246.5 1082.4,247.3 1082.7,245.5 1083,248.4 1083.3,253.3 1083.6,247.1 1083.8,248.8 1084.1,246.1 1084.4,256.7 1084.7,250.1 1085,247.4 1085.3,247.1 1085.6,246.4 1085.8,253.5 1086.1,250.8 1086.4,250.3 1086.7,249.5 1087,254.1 1087.3,247.7 1087.6,248.9 1087.9,252.9 1088.1,250.7 1088.4,248.5 1088.7,254.5 1089,251.3 1089.3,248.8 1089.6,253.2 1089.9,250.6 1090.1,252.1 1090.4,250.1 1090.7,254.1 1091,254.5 1091.3,253.3 1091.6,255.8 1091.9,250.6 1092.1,248.3 1092.4,255.3 1092.7,251.7 1093,251.8 1093.3,254.9 1093.6,252.6 1093.9,259.5 1094.2,256.9 1094.4,250.9 1094.7,253.9 1095,253.6 1095.3,255.3 1095.6,254.5 1095.9,257.4 1096.2,256.8 1096.4,260.3 1096.7,252.6 1097,258.7 1097.3,260 1097.6,258.1 1097.9,257.1 1098.2,255.9 1098.4,261 1098.7,257.9 1099,261 1099.3,254.8 1099.6,259.1 1099.9,255.6 1100.2,256.4 1100.5,259.4 1100.7,260.3 1101,259.6 1101.3,260.9 1101.6,259.9 1101.9,256.3 1102.2,260.9 1102.5,259.9 1102.7,261.4 1103,263.2 1103.3,262.7 1103.6,260.1 1103.9,257.2 1104.2,268 1104.5,260.8 1104.7,255.6 1105,265 1105.3,263.3 1105.6,265.5 1105.9,265 1106.2,261.3 1106.5,264.4 1106.8,269.5 1107,263 1107.3,261.3 1107.6,263.2 1107.9,261.4 1108.2,267.2 1108.5,270.8 1108.8,264.4 1109,265.1 1109.3,263.7 1109.6,265.5 1109.9,268.8 1110.2,262.6 1110.5,269.7 1110.8,272.6 1111.1,267.8 1111.3,266.1 1111.6,268.6 1111.9,260.7 1112.2,265.5 1112.5,267.9 1112.8,266.8 1113.1,269.7 1113.3,264.5 1113.6,267.2 1113.9,271.9 1114.2,266.6 1114.5,276.3 1114.8,264.7 1115.1,272 1115.3,275.3 1115.6,264.4 1115.9,272.7 1116.2,270.3 1116.5,274.2 1116.8,270.4 1117.1,272.4 1117.4,273.7 1117.6,269.7 1117.9,276.4 1118.2,275.6 1118.5,272.6 1118.8,271.7 1119.1,275.5 1119.4,280.8 1119.6,275.3 1119.9,276.6 1120.2,270.7 1120.5,272.7 1120.8,273 1121.1,278.3 1121.4,272 1121.6,277.2 1121.9,273.5 1122.2,272.6 1122.5,278.5 1122.8,280.6 1123.1,273.6 1123.4,275.7 1123.7,278.3 1123.9,280.8 1124.2,284.5 1124.5,292 1124.8,274.2 1125.1,279.8 1125.4,282.2 1125.7,278.1 1125.9,275.7 1126.2,273.1 1126.5,282.3 1126.8,280.9 1127.1,278.6 1127.4,287.8 1127.7,287.5 1127.9,284.2 1128.2,276.5 1128.5,277.7 1128.8,287.5 1129.1,290.1 1129.4,279.7 1129.7,287.2 1130,281.6 1130.2,282 1130.5,287.5 1130.8,283.3 1131.1,281 1131.4,278.9 1131.7,282.8 1132,286.1 1132.2,281.2 1132.5,284.9 1132.8,293.6 1133.1,283.5 1133.4,287.8 1133.7,284.6 1134,281.1 1134.2,285.7 1134.5,282.2 1134.8,290.7 1135.1,287.8 1135.4,283.1 1135.7,283.5 1136,291.6 1136.3,289.7 1136.5,291.9 1136.8,284.7 1137.1,286 1137.4,293.6 1137.7,282.1 1138,289.4 1138.3,299.7 1138.5,302.5 1138.8,290.9 1139.1,289.8 1139.4,287.3 1139.7,291.3 1140,277.8 1140.3,300.8 1140.5,299.6 1140.8,300.3 1141.1,303.6 1141.4,291.7 1141.7,292.7 1142,290.8 1142.3,292.8 1142.6,301.3 1142.8,306.9 1143.1,302 1143.4,291 1143.7,301 1144,294.2 1144.3,294.5 1144.6,303.8 1144.8,310.9 1145.1,303.3 1145.4,301.5 1145.7,295.2 1146,290.8 1146.3,296.1 1146.6,296.4 1146.9,293.6 1147.1,291.7 1147.4,297.6 1147.7,297.5 1148,296.8 1148.3,295.2 1148.6,293.7 1148.9,292.7 1149.1,301.8 1149.4,297.5 1149.7,295.5 1150,295.1 1150.3,301.1 1150.6,300.5 1150.9,298.8 1151.1,307.6 1151.4,296.6 1151.7,308.8 1152,296.4 1152.3,300.3 1152.6,298.8 1152.9,302.1 1153.2,306.1 1153.4,303.8 1153.7,297.9 1154,300.8 1154.3,294.6 1154.6,305.4 1154.9,308 1155.2,303.2 1155.4,293 1155.7,317.6 1156,301.2 1156.3,294.4 1156.6,295.2 1156.9,295.3 1157.2,299.6 1157.4,300.7 1157.7,308.9 1158,306.5 1158.3,303.6 1158.6,299.4 1158.9,303.8 1159.2,301.6 1159.5,307.7 1159.7,316.4 1160,305.5 1160.3,309.3 1160.6,316.3 1160.9,312.3 1161.2,309.3 1161.5,306.3 1161.7,311.6 1162,322.8 1162.3,301.4 1162.6,321.7 1162.9,312.4 1163.2,318.4 1163.5,314.2 1163.7,320 1164,302.5 1164.3,310.7 1164.6,313.7 1164.9,318.3 1165.2,314 1165.5,313.5 1165.8,305.3 1166,313.4 1166.3,305.9 1166.6,304.9 1166.9,316 1167.2,340.6 1167.5,303 1167.8,313.1 1168,311.8 1168.3,330.8 1168.6,300.8 1168.9,335.7 1169.2,323.4 1169.5,323 1169.8,306 1170,319.2 1170.3,318.4 1170.6,329 1170.9,328 1171.2,311.4 1171.5,327.5 1171.8,312 1172.1,308.8 1172.3,325.3 1172.6,311.2 1172.9,309.3 1173.2,335.1 1173.5,319.6 1173.8,327.6 1174.1,329.2 1174.3,344.2 1174.6,330.1 1174.9,326.1 1175.2,319.5 1175.5,329.3 1175.8,319.5 1176.1,313.8 1176.3,314.8 1176.6,326.7 1176.9,325 1177.2,327.1 1177.5,323.1 1177.8,334.3 1178.1,329.9 1178.4,344 1178.6,331.1 1178.9,322.8 1179.2,321.7 1179.5,325.4 1179.8,325.9 1180.1,321.7 1180.4,368.6 1180.6,335.4 1180.9,328.3 1181.2,315.6 1181.5,330.1 1181.8,323.2 1182.1,322.2 1182.4,320.9 1182.6,332.5 1182.9,316.6 1183.2,328.8 1183.5,341.1 1183.8,330.2 1184.1,321.3 1184.4,328.5 1184.7,326.6 1184.9,321.8 1185.2,336 1185.5,339.5 1185.8,335.8 1186.1,333.1 1186.4,323.9 1186.7,317.6 1186.9,339.9 1187.2,347.6 1187.5,330.4 1187.8,343.6 1188.1,340.3 1188.4,342.6 1188.7,343.7 1189,322.3 1189.2,328.7 1189.5,318.2 1189.8,328.9 1190.1,354.3 1190.4,346.3 1190.7,336.1 1191,328.8 1191.2,327.5 1191.5,323.8 1191.8,349 1192.1,331.2 1192.4,323.1 1192.7,328.2 1193,340 1193.2,353.7 1193.5,369.3 1193.8,325.8 1194.1,343.6 1194.4,345.6 1194.7,333.9 1195,355.1 1195.3,350.7 1195.5,339 1195.8,329.6 1196.1,359.1 1196.4,365.5 1196.7,361.1 1197,333.9 1197.3,321.6 1197.5,340.2 1197.8,335.8 1198.1,325 1198.4,361.1 1198.7,334.8 1199,316.7 1199.3,329.8 1199.5,356 1199.8,337.2 1200.1,338.5 1200.4,326.8 1200.7,350.9 1201,339.1 1201.3,342.8 1201.6,384.2 1201.8,350 1202.1,339.5 1202.4,352.7 1202.7,323 1203,347.9 1203.3,377.2 1203.6,345 1203.8,346.3 1204.1,381.9 1204.4,358.5 1204.7,335.8 1205,347.9 1205.3,354.3 1205.6,336.8 1205.8,351.4 1206.1,328.7 1206.4,355.1 1206.7,351.2 1207,355.4 1207.3,355 1207.6,339.7 1207.9,339.7 1208.1,339.6 1208.4,320.6 1208.7,346.9 1209,339.5 1209.3,367 1209.6,336.2 1209.9,342.5 1210.1,334.7 1210.4,320.1 1210.7,348.9 1211,445.4 1211.3,335.9 1211.6,359.5 1211.9,340 1212.1,337.9 1212.4,377.5 1212.7,345.6 1213,346.3 1213.3,415.7 1213.6,354.8 1213.9,374.2 1214.2,331 1214.4,353.1 1214.7,469.5 1215,330.1 1215.3,377.2 1215.6,336.7 1215.9,469.5 1216.2,334.4 1216.4,469.5 1216.7,371.9 1217,354 1217.3,334 1217.6,330.9 1217.9,350.1 1218.2,469.5 1218.5,347.6 1218.7,407.9 1219,334 1219.3,469.5 1219.6,327 1219.9,325.1 1220.2,342.8 1220.5,407 1220.7,346.1 1221,330.1 1221.3,350.5 1221.6,369.1 1221.9,438 1222.2,361.5 1222.5,372.3 1222.7,351.7 1223,384.6 1223.3,392.3 1223.6,391.5 1223.9,367.6 1224.2,334.4 1224.5,469.5 1224.8,469.5 1225,344.3 1225.3,357.7 1225.6,370.4 1225.9,339.4 1226.2,469.5 1226.5,355 1226.8,330.1 1227,469.5 1227.3,420.7 1227.6,318.2 1227.9,406.1 1228.2,323.4 1228.5,363.1 1228.8,469.5 1229,408.5 1229.3,417.3 1229.6,360.5 1229.9,403.6 1230.2,377.3 1230.5,399.7 1230.8,355.8 1231.1,329.9 1231.3,335.7 1231.6,360.8 1231.9,363.1 1232.2,403.4 1232.5,381.5 1232.8,343.5 1233.1,469.5 1233.3,374.8 1233.6,361.5 1233.9,362.6 1234.2,351.2 1234.5,469.5 1234.8,344.4 1235.1,422.6 1235.3,336.7 1235.6,359.6 1235.9,339.8 1236.2,334.1 1236.5,318.6 1236.8,345.2 1237.1,469.5 1237.4,368.6 1237.6,351.3 1237.9,341.5 1238.2,394 1238.5,352.1 1238.8,469.5 1239.1,346.1 1239.4,411.5 1239.6,406.1 1239.9,359.4 1240.2,354.9 1240.5,343.3 1240.8,373.9 1241.1,388.3 1241.4,356.4 1241.6,366.1 1241.9,344.7 1242.2,369.5 1242.5,339.8 1242.8,374.9 1243.1,355.4 1243.4,361 1243.7,445.3 1243.9,373.9 1244.2,443.4 1244.5,397.9 1244.8,408.6 1245.1,469.5 1245.4,375.1 1245.7,360 1245.9,359.1 1246.2,346.2 1246.5,360.6 1246.8,331.3 1247.1,360.8 1247.4,469.5 1247.7,384.9 1247.9,355.1 1248.2,469.5 1248.5,399.6 1248.8,340 1249.1,360 1249.4,367 1249.7,355.5 1250,367.6 1250.2,360.9 1250.5,342.3 1250.8,361.6 1251.1,327.3 1251.4,403.9 1251.7,362.7 1252,469.5 1252.2,376.3 1252.5,380.1 1252.8,452.4 1253.1,356.7 1253.4,356.3 1253.7,383.1 1254,362.6 1254.3,362.8 1254.5,374.2 1254.8,341.4 1255.1,386.5 1255.4,354.1 1255.7,340.5 1256,363.3 1256.3,398.8 1256.5,352.9 1256.8,389.2 1257.1,362.9 1257.4,469.5 1258,440.2 1258.3,355.3 1258.5,356.6 1258.8,379.4 1259.1,364 1259.4,341.3 1259.7,351.6 1260,365 1260.3,347.4 1260.6,455.4 1260.8,443.4 1261.1,361.2 1261.4,469.5 1261.7,469.5 1262,349.3 1262.3,333.3 1262.6,385.7 1262.8,469.5 1263.1,360 1263.4,391.9 1263.7,336.5 1264,337.7 1264.3,379.3 1264.6,360 1264.8,417.1 1265.1,347.8 1265.4,333 1265.7,399 1266,382.8 1266.3,388 1266.6,364.9 1266.9,361.9 1267.1,363.6 1267.4,356.8 1267.7,356.8 1268,382.2 1268.3,333.6 1268.6,397.6 1268.9,355.9 1269.1,374.7 1269.4,356.3 1269.7,412.5 1270,387.5 1270.3,376.8 1270.6,402.4 1270.9,393.8 1271.1,415.8 1271.4,351.2 1271.7,469.5 1272,389 1272.3,364.7 1272.6,347.5 1272.9,408.2 1273.2,357.9 1273.4,346.1 1273.7,469.5 1274.3,469.5 1274.6,387.9 1274.9,379.8 1275.2,351 1275.4,382.2 1275.7,469.5 1276.6,469.5 1276.9,349.6 1277.2,350.9 1277.4,379.2 1277.7,361.8 1278,363.5 1278.3,364.5 1278.6,469.5 1278.9,397.5 1279.2,469.5 1279.5,432.5 1279.7,389.2 1280,469.5 1280.3,376.4 1280.6,469.5 1280.9,356.1 1281.2,429.8 1281.5,371 1281.7,331.7 1282,369.5 1282.3,373.3 1282.6,400.9 1282.9,469.5 1283.5,469.5 1283.7,356.9 1284,378.5 1284.3,422.6 1284.6,388.2 1284.9,469.5 1285.2,379.3 1285.5,412.5 1285.8,388.8 1286,469.5 1286.3,469.5 1286.6,363.6 1286.9,469.5 1287.2,392.3 1287.5,469.5 1288,469.5 1288.3,371 1288.6,349.6 1288.9,387.4 1289.2,376 1289.5,375.3 1289.8,469.5 1290.3,469.5 1290.6,396.3 1290.9,371.7 1291.2,339.7 1291.5,381.3 1291.8,469.5 1292.1,355.1 1292.3,388.4 1292.6,412.6 1293.2,411.5 1293.5,362.2 1293.8,469.5 1295.2,469.5 1295.5,372.1 1295.8,354.3 1296.1,469.5 1296.4,469.5 1296.6,402.4 1296.9,469.5 1297.2,399.5 1297.5,342.1 1297.8,469.5 1298.4,424.7 1298.6,395.2 1298.9,437.1 1299.2,366.9 1299.5,355 1299.8,373.4 1300.1,469.5 1300.6,435.1 1300.9,375.7 1301.2,354.6 1301.5,469.5 1301.8,360.9 1302.1,368 1302.4,365.6 1302.7,360.5 1302.9,400.9 1303.2,469.5 1303.5,360.7 1303.8,443.5 1304.4,411.5 1304.7,384.3 1304.9,408 1305.2,428.4 1305.5,469.5 1305.8,383.1 1306.1,469.5 1306.4,367.5 1306.7,411.5 1307.2,441.7 1307.5,353.4 1307.8,384.8 1308.1,375.9 1308.4,435.9 1308.7,387.8 1309,426.8 1309.2,469.5 1309.5,392.8 1309.8,469.5 1310.4,469.5 1310.7,366.8 1311,469.5 1311.2,417.5 1311.5,373.5 1311.8,361.9 1312.1,371.4 1312.4,464 1312.7,463.8 1313,367.4 1313.2,411.5 1314.1,418.8 1314.4,372.3 1314.7,393.1 1315,352.1 1315.3,469.5 1315.5,377.7 1315.8,358.5 1316.1,370.1 1316.4,469.5 1316.7,401.1 1317,469.5 1317.5,469.5 1317.8,384.8 1318.1,469.5 1318.4,399.9 1318.7,469.5 1320.1,469.5 1320.4,365.1 1320.7,469.5 1321,469.5 1321.3,371.2 1321.6,424.3 1321.8,386.6 1322.1,368.5 1322.4,402.5 1322.7,372.6 1323,385.9 1323.3,469.5 1323.6,469.5 1323.8,390.3 1324.1,469.5 1324.4,378 1324.7,469.5 1326.4,469.5 1326.7,376.1 1327,469.5 1327.3,469.5 1327.6,357 1327.9,414.1 1328.1,357.4 1328.4,405.6 1328.7,424.1 1329,384.2 1329.3,357.8 1329.6,371.7 1329.9,469.5 1330.1,431.3 1330.4,361.7 1330.7,431 1331,355.1 1331.3,469.5 1331.6,369.8 1331.9,469.5 1332.7,469.5 1333,383.5 1333.3,469.5 1333.9,424 1334.2,391 1334.4,469.5 1335.3,469.5 1335.6,390.4 1335.9,371.3 1336.2,377.4 1336.4,469.5 1337.3,469.5 1337.6,406 1337.9,394.8 1338.2,399.4 1338.5,420.9 1338.7,403.8 1339,469.5 1339.3,411.7 1339.6,382.1 1339.9,380.6 1340.2,381.3 1340.5,414.6 1340.7,387.8 1341,469.5 1341.9,455.2 1342.2,379.9 1342.5,464.1 1342.7,469.5 1343,398.3 1343.3,469.5 1343.6,440.1 1343.9,361.8 1344.2,376.6 1344.5,469.5 1345.3,411.5 1345.6,364.7 1345.9,389 1346.2,391.1 1346.5,397.4 1346.8,464.5 1347,379.8 1347.3,411.7 1347.6,469.5 1347.9,395.4 1348.2,469.5 1348.5,469.5 1348.8,376.2 1349,422.2 1349.3,392.4 1349.6,469.5 1349.9,371.9 1350.2,395.9 1350.5,381.9 1350.8,392.4 1351.1,469.5 1352.5,469.5 1352.8,409.2 1353.1,440.7 1353.3,385 1353.6,401.4 1353.9,469.5 1354.5,416.9 1354.8,373.2 1355.1,395.4 1355.3,469.5 1355.6,398.6 1355.9,469.5 1356.8,469.5 1357.1,369.7 1357.4,469.5 1357.6,449.6 1357.9,352.7 1358.2,469.5 1358.5,469.5 1358.8,382.4 1359.1,469.5 1359.6,469.5 1359.9,400.8 1360.2,469.5 1360.5,469.5 1360.8,378.9 1361.1,362.7 1361.4,469.5 1361.9,469.5 1362.2,366.9 1362.5,469.5 1363.1,469.5 1363.4,387.8 1363.7,372.8 1363.9,395.3 1364.2,451.2 1364.5,408.3 1364.8,469.5 1365.4,469.5 1365.7,408.2 1365.9,469.5 1366.2,469.5 1366.5,394.7 1366.8,369.6 1367.1,392.4 1367.4,414.7 1367.7,373.3 1368,400.3 1368.2,384.6 1368.5,469.5 1369.7,431.8 1370,382.6 1370.2,469.5 1370.8,469.5 1371.1,358.5 1371.4,378.5 1371.7,469.5 1372.8,418.3 1373.1,362.8 1373.4,469.5 1374,466.1 1374.3,387.9 1374.5,469.5 1376.8,469.5 1377.1,368.9 1377.4,469.5 1378,469.5 1378.3,402.8 1378.5,469.5 1378.8,400.4 1379.1,469.5 1380.8,469.5 1381.1,379.1 1381.4,469.5 1382.3,469.5 1382.6,401.3 1382.8,469.5 1383.1,375.5 1383.4,426.8 1383.7,469.5 1384,353.2 1384.3,419.3 1384.6,396.1 1384.8,370.7 1385.1,382.5 1385.4,432.3 1385.7,405.3 1386,400.3 1386.3,469.5 1388.6,447.7 1388.9,399.2 1389.1,469.5 1390.3,469.5 1390.6,405.4 1390.9,469.5 1391.1,377.4 1391.4,469.5 1391.7,469.5 1392,383.1 1392.3,464.6 1393.7,469.5 1394,374.4 1394.3,386.1 1394.6,384.1 1394.9,445.2 1395.2,368.6 1395.4,469.5 1396.9,469.5 1397.2,391.1 1397.5,422.5 1398,430.1 1398.3,376.9 1398.6,469.5 1399.5,469.5 1399.7,378.1 1400,391.5 1400.3,373.3 1400.6,391.8 1400.9,469.5 1405.2,453 1405.5,380.7 1405.8,469.5 1406,366.6 1406.3,452.7 1407.5,469.5 1407.8,404.3 1408,469.5 1409.5,469.5 1409.8,384.6 1410.1,469.5 1410.6,469.5 1410.9,390.6 1411.2,430.9 1411.8,469.5 1412.1,378 1412.3,469.5 1412.9,469.5 1413.2,382.3 1413.5,469.5 1414.1,469.5 1414.3,389.2 1414.6,429.6 1414.9,469.5 1415.2,400.7 1415.5,469.5 1416.6,469.5 1416.9,363.8 1417.2,469.5 1417.8,413.9 1418.1,408.8 1418.4,469.5 1418.9,469.5 1419.2,399.7 1419.5,469.5 1420.1,469.5 1420.4,390.7 1420.6,469.5 1420.9,365 1421.2,469.5 1421.8,469.5 1422.1,396 1422.4,469.5 1422.7,391.2 1422.9,469.5 1423.2,383.7 1423.5,469.5 1424.9,469.5 1425.2,399 1425.5,469.5 1426.7,469.5 1426.9,401.8 1427.2,469.5 1433,469.5 1433.3,401.6 1433.5,469.5 1443,469.5 1443.3,393.6 1443.6,469.5 1449,469.5 1449.3,395.2 1449.6,469.5 1485.4,466.2 1485.7,399.9 1485.9,469.5 1494.8,469.5 1495.1,407.9 1495.4,469.5 1500.8,469.5 1501.1,406.4 1501.4,469.5 1502,469.5 1502.3,395.5 1502.6,469.5 1503.7,469.5 1504,405.6 1504.3,469.5 1513.2,469.5 1513.4,382.2 1513.7,469.5 1521.2,469.5 1521.5,363.4 1521.7,469.5 1534.6,469.5 1534.9,383.2 1535.2,469.5 1543.8,469.5 1544.1,408.8 1544.4,469.5 1546.4,469.5 1546.7,391.3 1547,469.5 1553.3,469.5 1553.5,388.9 1553.8,469.5 1565,469.5 1565.3,384.5 1565.6,469.5 1593.6,469.5 1593.9,408.6 1594.2,469.5 1604.2,469.5 1604.5,368.1 1604.8,469.5 1610,469.5 1610.2,403.6 1610.5,469.5 1637.7,469.5"/>
<polyline fill="none" stroke="#8000ff" stroke-width="4" stroke-linejoin="bevel" points="923.5,348.4 923.8,351.4 924.2,354.7 924.5,351.6 924.9,344 925.2,346.6 925.6,342.8 926,343.4 926.3,346.8 926.7,353 927,350.3 927.4,349.3 927.8,358.7 928.1,348.3 928.5,355.3 928.8,350.4 929.2,352.7 929.5,347.4 929.9,339.2 930.3,356.6 930.6,350.5 931,341.7 931.3,355.3 931.7,351.8 932,350.7 932.4,353.1 932.8,355.7 933.1,358.4 933.5,361.4 933.8,364.5 934.2,368 934.6,371.8 934.9,375.9 935.3,380.6 935.6,385.8 936,391.8 936.3,398.9 936.7,407.6"/>
<polyline fill="none" stroke="#8000ff" stroke-width="4" stroke-linejoin="bevel" points="939.7,262 939.9,250 940.3,226.1 940.6,202.4 941,178.8 941.4,152.6 941.7,125.3 942.1,103.9 942.4,93.4 942.8,86.6 943.1,81.7 943.5,78.1 943.9,75.1 944.2,72.7 944.6,71.7 944.9,71.8 945.3,72 945.7,72.4 946,73 946.4,73.7 946.7,74.4 947.1,75.3 947.4,76.2 947.8,77.1 948.2,78.1 948.5,79 948.9,79.9 949.2,80.8 949.6,81.6 950,82.4 950.3,83.3 950.7,83.6 951,84.1 951.4,84.6 951.7,85.3 952.1,85.6 952.5,86.2 952.8,86.7 953.2,86.9 953.5,87.6 953.9,87.5 954.2,88 954.6,89 955,88.9 955.3,89.6 955.7,89.8 956,90.2 956.4,91 956.8,91 957.1,91.3 957.5,91.4 957.8,92.3 958.2,92.2 958.5,93 958.9,93.1 959.3,93.6 959.6,93.4 960,94 960.3,93.9 960.7,94.6 961,94.9 961.4,95.2 961.8,95.9 962.1,96.1 962.5,96.1 962.8,96.8 963.2,97 963.6,97.4 963.9,97.6 964.3,98.1 964.6,98.4 965,98.6 965.3,99 965.7,99.5 966.1,99.4 966.4,100.2 966.8,100.5 967.1,100.8 967.5,100.5 967.8,101.2 968.2,101.6 968.6,101.9 968.9,101.8 969.3,102.5 969.6,102.8 970,102.6 970.4,103.4 970.7,103.4 971.1,103.6 971.4,104 971.8,104.2 972.1,104.1 972.5,104.8 972.9,105.3 973.2,105.7 973.6,105.6 973.9,105.9 974.3,106 974.7,106.4 975,106.7 975.4,107 975.7,107.2 976.1,107.3 976.4,107.7 976.8,107.8 977.2,107.6 977.5,108.2 977.9,109 978.2,108.4 978.6,109 978.9,109.6 979.3,109.3 979.7,109.8 980,110.2 980.4,110.5 980.7,110.8 981.1,110.7 981.5,110.7 981.8,111.3 982.2,111.4 982.5,111.2 982.9,112.3 983.2,112.1 983.6,112.5 984,113 984.3,113.2 984.7,113.2 985,113.3 985.4,113.8 985.8,113.9 986.1,113.9 986.5,114.3 986.8,114.4 987.2,114.7 987.5,115 987.9,114.9 988.3,115.5 988.6,115.9 989,115.9 989.3,116.7 989.7,116.8 990,116.7 990.4,117 990.8,117 991.1,117.7 991.5,118.4 991.8,117.6 992.2,118.1 992.6,119 992.9,118.5 993.3,119.2 993.6,120 994,119.8 994.3,120.1 994.7,119.7 995.1,120.7 995.4,120.8 995.8,121.1 996.1,121.3 996.5,121.8 996.8,121.6 997.2,121.6 997.6,122 997.9,122.7 998.3,123.1 998.6,122.9 999,123.4 999.4,123.6 999.7,124.2 1000.1,123.3 1000.4,123.8 1000.8,124.7 1001.1,124.3 1001.5,124.4 1001.9,125.9 1002.2,125.5 1002.6,125.7 1002.9,125.6 1003.3,126 1003.6,126.3 1004,126.5 1004.4,126.1 1004.7,126.2 1005.1,127.3 1005.4,127.7 1005.8,126.7 1006.2,128.2 1006.5,128.3 1006.9,128.3 1007.2,128.4 1007.6,128.4 1007.9,128.9 1008.3,129.5 1008.7,129.3 1009,129.6 1009.4,129.3 1009.7,130.1 1010.1,130.8 1010.5,130.9 1010.8,130.3 1011.2,131.2 1011.5,132 1011.9,131.7 1012.2,131.7 1012.6,131.5 1013,132.5 1013.3,132.1 1013.7,132.3 1014,133.1 1014.4,133.1 1014.7,132.6 1015.1,132.9 1015.5,133.4 1015.8,133.8 1016.2,133.7 1016.5,134.4 1016.9,134.6 1017.3,135.1 1017.6,135 1018,135.3 1018.3,134.5 1018.7,135.8 1019,135.4 1019.4,135.6 1019.8,136.4 1020.1,136.1 1020.5,137.6 1020.8,137 1021.2,136.9 1021.6,138.3 1021.9,138.1 1022.3,137.4 1022.6,138.2 1023,138.7 1023.3,138.6 1023.7,138.9 1024.1,138.6 1024.4,138.9 1024.8,139.4 1025.1,139.8 1025.5,139.8 1025.8,139.5 1026.2,140 1026.6,140.1 1026.9,140.7 1027.3,141.3 1027.6,141.3 1028,141 1028.4,141.4 1028.7,142 1029.1,142.5 1029.4,142 1029.8,142.4 1030.1,142.6 1030.5,142.8 1030.9,142.8 1031.2,143 1031.6,142.9 1031.9,143.1 1032.3,143.1 1032.6,143.5 1033,144.2 1033.4,144.3 1033.7,144.3 1034.1,144.8 1034.4,144.6 1034.8,144.6 1035.2,145.6 1035.5,146.2 1035.9,145.1 1036.2,145.8 1036.6,145.7 1036.9,146.8 1037.3,145.6 1037.7,146.2 1038,146.8 1038.4,147.1 1038.7,147.1 1039.1,147.4 1039.4,147.6 1039.8,148.2 1040.2,147.3 1040.5,148 1040.9,148.2 1041.2,148.3 1041.6,149.6 1042,148.5 1042.3,149.1 1042.7,149.2 1043,149.3 1043.4,149.9 1043.7,149.3 1044.1,150.2 1044.5,150.4 1044.8,150.6 1045.2,150.3 1045.5,150.2 1045.9,151 1046.3,151.6 1046.6,150.6 1047,151.8 1047.3,150.9 1047.7,151.7 1048,152.2 1048.4,152.3 1048.8,152 1049.1,152 1049.5,152.7 1049.8,152.3 1050.2,152 1050.5,153.2 1050.9,153.9 1051.3,154 1051.6,154.3 1052,154.2 1052.3,154.4 1052.7,154.9 1053.1,154.2 1053.4,155.9 1053.8,155.4 1054.1,154 1054.5,154.7 1054.8,155.1 1055.2,155.3 1055.6,154.8 1055.9,155.6 1056.3,156 1056.6,156.8 1057,156.4 1057.4,156.9 1057.7,157.1 1058.1,157.3 1058.4,157.1 1058.8,157.4 1059.1,157 1059.5,158.3 1059.9,157.9 1060.2,157.1 1060.6,158.1 1060.9,157.7 1061.3,157.9 1061.6,158 1062,158.5 1062.4,159.7 1062.7,159.3 1063.1,159.5 1063.4,160.3 1063.8,159.9 1064.2,160.5 1064.5,160.9 1064.9,160.1 1065.2,160.4 1065.6,160.9 1065.9,161.2 1066.3,161.2 1066.7,161.3 1067,161.4 1067.4,161.4 1067.7,161.8 1068.1,161.5 1068.4,161.6 1068.8,161.9 1069.2,162.6 1069.5,162.7 1069.9,162.3 1070.2,162.8 1070.6,162.9 1071,164.4 1071.3,164.7 1071.7,163.2 1072,163.4 1072.4,163 1072.7,163.5 1073.1,164 1073.5,164.2 1073.8,165.2 1074.2,164.1 1074.5,165.1 1074.9,164.6 1075.2,165 1075.6,165.1 1076,164.9 1076.3,165.8 1076.7,165.9 1077,166.4 1077.4,166.3 1077.8,165.3 1078.1,166.6 1078.5,165.9 1078.8,166.3 1079.2,166.5 1079.5,166.6 1079.9,167.8 1080.3,167.2 1080.6,166.7 1081,168.1 1081.3,167.9 1081.7,168.4 1082.1,168 1082.4,169 1082.8,167.6 1083.1,168.9 1083.5,169.7 1083.8,168 1084.2,168.6 1084.6,169.1 1084.9,169.2 1085.3,169.9 1085.6,170 1086,169.6 1086.3,169.7 1086.7,169.8 1087.1,170.4 1087.4,170.9 1087.8,170.9 1088.1,170.4 1088.5,170.3 1088.9,171.5 1089.2,171.8 1089.6,170.9 1089.9,171.4 1090.3,171.6 1090.6,172.9 1091,172.5 1091.4,172.8 1091.7,172.5 1092.1,173.8 1092.4,172.2 1092.8,173 1093.2,173 1093.5,174.2 1093.9,173.6 1094.2,173 1094.6,174.9 1094.9,173.9 1095.3,173.9 1095.7,174.9 1096,174.1 1096.4,175 1096.7,174.2 1097.1,174.8 1097.4,175.2 1097.8,174.3 1098.2,175.1 1098.5,175 1098.9,176.7 1099.2,176.5 1099.6,175.8 1100,175.9 1100.3,176.7 1100.7,176.3 1101,177.7 1101.4,177 1101.7,178.1 1102.1,177.3 1102.5,178 1102.8,178.2 1103.2,178 1103.5,177 1103.9,179 1104.2,178.9 1104.6,178 1105,179.1 1105.3,177.9 1105.7,179 1106,179.3 1106.4,179.3 1106.8,178.6 1107.1,179.4 1107.5,179.7 1107.8,180 1108.2,181.4 1108.5,181.1 1108.9,179.7 1109.3,180.3 1109.6,180.7 1110,180.8 1110.3,181.7 1110.7,181.3 1111.1,182.3 1111.4,181.6 1111.8,182.5 1112.1,182.3 1112.5,182 1112.8,182.7 1113.2,182.2 1113.6,182.5 1113.9,182.7 1114.3,182.2 1114.6,184.3 1115,184.5 1115.3,183.2 1115.7,183.1 1116.1,182.6 1116.4,183.6 1116.8,183.7 1117.1,185 1117.5,184 1117.9,184.2 1118.2,185.6 1118.6,185.6 1118.9,185.2 1119.3,185.1 1119.6,187.6 1120,185.6 1120.4,185.6 1120.7,186 1121.1,185.9 1121.4,185.9 1121.8,187.1 1122.1,186.2 1122.5,186.9 1122.9,187.5 1123.2,186.8 1123.6,186.1 1123.9,188.3 1124.3,188.6 1124.7,188.8 1125,186.3 1125.4,188.1 1125.7,188.1 1126.1,188.7 1126.4,189 1126.8,190 1127.2,188.5 1127.5,188.6 1127.9,190.4 1128.2,189.8 1128.6,189.8 1129,189.4 1129.3,189.3 1129.7,188.8 1130,188.8 1130.4,189.2 1130.7,189.1 1131.1,191.1 1131.5,190.8 1131.8,189.7 1132.2,190.5 1132.5,190.8 1132.9,192.5 1133.2,192.5 1133.6,190.7 1134,191.2 1134.3,191.8 1134.7,192 1135,193.2 1135.4,191.7 1135.8,191.4 1136.1,191.1 1136.5,192.4 1136.8,192.7 1137.2,193.5 1137.5,191.9 1137.9,191.7 1138.3,193.6 1138.6,193 1139,193.3 1139.3,194 1139.7,195.7 1140,194.1 1140.4,193.5 1140.8,195.2 1141.1,194.9 1141.5,197 1141.8,193.5 1142.2,194.3 1142.6,194.8 1142.9,195.2 1143.3,195.6 1143.6,195.3 1144,195.6 1144.3,195.7 1144.7,195.6 1145.1,195.7 1145.4,194.7 1145.8,197.2 1146.1,196 1146.5,196.8 1146.9,197.3 1147.2,198.5 1147.6,196.2 1147.9,197.6 1148.3,197.6 1148.6,196.7 1149,198.1 1149.4,197.3 1149.7,197.5 1150.1,197 1150.4,196.9 1150.8,198.6 1151.1,197.3 1151.5,198.2 1151.9,198.2 1152.2,198.6 1152.6,197.9 1152.9,199.6 1153.3,198.6 1153.7,197.9 1154,199.3 1154.4,197.5 1154.7,199.9 1155.1,199.2 1155.4,199.9 1155.8,200.2 1156.2,200.7 1156.5,200.3 1156.9,200.1 1157.2,200.8 1157.6,199.5 1157.9,199.1 1158.3,201.8 1158.7,199.9 1159,200.6 1159.4,200.6 1159.7,198.9 1160.1,200.1 1160.5,200.9 1160.8,201.2 1161.2,203.3 1161.5,200.9 1161.9,202.3 1162.2,201.6 1162.6,201.8 1163,201.2 1163.3,200.4 1163.7,201.4 1164,201.3 1164.4,202.7 1164.8,202.2 1165.1,202 1165.5,204.1 1165.8,201.2 1166.2,203.6 1166.5,204.3 1166.9,201.8 1167.3,201.6 1167.6,204.1 1168,204.1 1168.3,201.1 1168.7,203.7 1169,205.7 1169.4,204.5 1169.8,202.4 1170.1,203.7 1170.5,203.7 1170.8,203.4 1171.2,204 1171.6,205 1171.9,206.2 1172.3,204.5 1172.6,206 1173,205.1 1173.3,203.7 1173.7,204.8 1174.1,205.4 1174.4,205.5 1174.8,205 1175.1,204.9 1175.5,207 1175.8,205.8 1176.2,204.5 1176.6,205.5 1176.9,206.9 1177.3,207 1177.6,208.4 1178,207.3 1178.4,205.2 1178.7,206.8 1179.1,207.7 1179.4,207.5 1179.8,207.2 1180.1,207.3 1180.5,207.6 1180.9,208.1 1181.2,206.9 1181.6,206.2 1181.9,208.2 1182.3,208.3 1182.6,206.9 1183,209.4 1183.4,208.7 1183.7,208.6 1184.1,208.2 1184.4,208.7 1184.8,209.4 1185.2,208.4 1185.5,209.9 1185.9,210.5 1186.2,210.9 1186.6,208.4 1186.9,210.8 1187.3,208.9 1187.7,208.8 1188,208.8 1188.4,209.8 1188.7,210.2 1189.1,209.7 1189.5,210.5 1189.8,211.3 1190.2,209 1190.5,211.1 1190.9,208.7 1191.2,210 1191.6,211 1192,210.3 1192.3,209.6 1192.7,212.2 1193,211.9 1193.4,212.1 1193.7,211 1194.1,210.9 1194.5,211.4 1194.8,212.2 1195.2,212.2 1195.5,210.6 1195.9,210.8 1196.3,211.8 1196.6,213.4 1197,211.6 1197.3,212 1197.7,212.2 1198,210.9 1198.4,211.8 1198.8,213.7 1199.1,213.8 1199.5,211.6 1199.8,212.8 1200.2,212.3 1200.6,213.4 1200.9,214.3 1201.3,213.2 1201.6,212 1202,213.3 1202.3,214.9 1202.7,214.1 1203.1,214.4 1203.4,213.9 1203.8,213.1 1204.1,212.3 1204.5,214.1 1204.8,214.9 1205.2,214.5 1205.6,214.7 1205.9,215.2 1206.3,214.9 1206.6,215 1207,216.3 1207.4,214.7 1207.7,215.7 1208.1,216.4 1208.4,215 1208.8,216.1 1209.1,214 1209.5,215.4 1209.9,215.9 1210.2,216.8 1210.6,216.6 1210.9,215.4 1211.3,217.1 1211.6,215.7 1212,218.8 1212.4,216.5 1212.7,216 1213.1,216.6 1213.4,217 1213.8,216.1 1214.2,218.2 1214.5,218.4 1214.9,217.4 1215.2,216.4 1215.6,217.2 1215.9,218 1216.3,217.6 1216.7,217.6 1217,219.4 1217.4,221.3 1217.7,219.4 1218.1,220 1218.5,219.2 1218.8,219.9 1219.2,219.7 1219.5,218.4 1219.9,218.9 1220.2,219.1 1220.6,217.5 1221,219.8 1221.3,219.8 1221.7,218.2 1222,220.8 1222.4,221.5 1222.7,218.4 1223.1,219.6 1223.5,219.4 1223.8,219.5 1224.2,219.3 1224.5,220.8 1224.9,220.5 1225.3,221.8 1225.6,220.5 1226,220.5 1226.3,221.4 1226.7,220.3 1227,218 1227.4,222.4 1227.8,220.4 1228.1,220.4 1228.5,220.4 1228.8,222.5 1229.2,220.4 1229.5,221.1 1229.9,222.1 1230.3,222.4 1230.6,221.9 1231,221.2 1231.3,221.4 1231.7,220 1232.1,222.9 1232.4,222 1232.8,223.2 1233.1,222 1233.5,222.8 1233.8,223.7 1234.2,224.7 1234.6,224.2 1234.9,223.1 1235.3,221.9 1235.6,222.8 1236,225.1 1236.4,224.4 1236.7,223.9 1237.1,224.2 1237.4,224.1 1237.8,223.5 1238.1,224.2 1238.5,225.4 1238.9,226.9 1239.2,225.2 1239.6,226.9 1239.9,225.2 1240.3,224.8 1240.6,226.8 1241,225.6 1241.4,225.9 1241.7,223.5 1242.1,225.3 1242.4,228.1 1242.8,225.5 1243.2,225.7 1243.5,226.5 1243.9,226.8 1244.2,225.8 1244.6,225.8 1244.9,226.2 1245.3,228 1245.7,227.3 1246,228.9 1246.4,229 1246.7,228 1247.1,228.7 1247.4,228 1247.8,224.8 1248.2,227.2 1248.5,228.9 1248.9,230.6 1249.2,229.1 1249.6,230 1250,231.1 1250.3,227.6 1250.7,229.2 1251,228.2 1251.4,225.3 1251.7,228.6 1252.1,228.9 1252.5,228.7 1252.8,229.6 1253.2,230.4 1253.5,229.7 1253.9,228.2 1254.3,230 1254.6,231.5 1255,231.5 1255.3,231.3 1255.7,230.1 1256,229.7 1256.4,229.8 1256.8,229 1257.1,230.8 1257.5,229.6 1257.8,230.4 1258.2,230 1258.5,233.3 1258.9,229.5 1259.3,233.1 1259.6,232.7 1260,230.4 1260.3,231.9 1260.7,229.4 1261.1,231.5 1261.4,233 1261.8,231.7 1262.1,232.5 1262.5,230.2 1262.8,230.2 1263.2,231.4 1263.6,232.9 1263.9,232.4 1264.3,231.3 1264.6,233.7 1265,233.8 1265.3,231.8 1265.7,232.1 1266.1,233.4 1266.4,233.5 1266.8,235.8 1267.1,231.9 1267.5,233.6 1267.9,235.4 1268.2,235.1 1268.6,234.9 1268.9,231.8 1269.3,233.1 1269.6,235.8 1270,231.9 1270.4,232.6 1270.7,235.8 1271.1,238 1271.4,233.4 1271.8,235.5 1272.2,235 1272.5,235.6 1272.9,233.4 1273.2,233.2 1273.6,234.1 1273.9,235.5 1274.3,235 1274.7,234.7 1275,237.7 1275.4,234.1 1275.7,236.2 1276.1,235.5 1276.4,235.8 1276.8,234.9 1277.2,234.8 1277.5,233.4 1277.9,236.8 1278.2,237.6 1278.6,236.3 1279,237.5 1279.3,235.6 1279.7,237.9 1280,236.7 1280.4,235.8 1280.7,235.8 1281.1,236.9 1281.5,235.4 1281.8,235.7 1282.2,239.8 1282.5,237.1 1282.9,237.4 1283.2,238.1 1283.6,238.7 1284,237.9 1284.3,237.5 1284.7,237.7 1285,236.4 1285.4,237 1285.8,239.2 1286.1,239.5 1286.5,237.4 1286.8,239.6 1287.2,238.5 1287.5,238.2 1287.9,237.6 1288.3,238.3 1288.6,237.2 1289,239.8 1289.3,238.4 1289.7,240.3 1290.1,239.2 1290.4,239.4 1290.8,241 1291.1,243.5 1291.5,238.6 1291.8,239.4 1292.2,239.8 1292.6,241.1 1292.9,240.7 1293.3,239.7 1293.6,240.4 1294,238.9 1294.3,240.4 1294.7,241.8 1295.1,239.9 1295.4,241.7 1295.8,240.6 1296.1,243.6 1296.5,241.6 1296.9,240.4 1297.2,242.2 1297.6,241.4 1297.9,240.6 1298.3,241.4 1298.6,239.2 1299,242.1 1299.4,242 1299.7,242.1 1300.1,244.8 1300.4,244.3 1300.8,241.4 1301.1,242.7 1301.5,240.4 1301.9,242.5 1302.2,242.7 1302.6,241.1 1302.9,242.2 1303.3,240.5 1303.7,244.3 1304,242.3 1304.4,242 1304.7,242.3 1305.1,241.5 1305.4,241.8 1305.8,243.2 1306.2,244.2 1306.5,242.1 1306.9,243.4 1307.2,242.2 1307.6,241.8 1308,243.4 1308.3,245.1 1308.7,244.2 1309,242.8 1309.4,244.3 1309.7,242.4 1310.1,244.1 1310.5,244 1310.8,245.2 1311.2,244.5 1311.5,242.9 1311.9,245 1312.2,245.1 1312.6,245.8 1313,243.6 1313.3,247.1 1313.7,245.9 1314,243.7 1314.4,243 1314.8,245.4 1315.1,243.8 1315.5,248.3 1315.8,244.3 1316.2,245 1316.5,247.3 1316.9,248.3 1317.3,246.4 1317.6,245.3 1318,245.2 1318.3,245.7 1318.7,244.8 1319,245 1319.4,248.2 1319.8,246.7 1320.1,247 1320.5,244.8 1320.8,247.1 1321.2,244.9 1321.6,246.3 1321.9,243.2 1322.3,246.7 1322.6,246.7 1323,246.9 1323.3,246.6 1323.7,243.4 1324.1,247.7 1324.4,248.3 1324.8,247.4 1325.1,246.2 1325.5,248.7 1325.9,246.1 1326.2,246.2 1326.6,247.7 1326.9,247.9 1327.3,248.8 1327.6,248 1328,248.9 1328.4,245.9 1328.7,245.4 1329.1,248.3 1329.4,248 1329.8,251 1330.1,248.9 1330.5,247.6 1330.9,247.8 1331.2,248.1 1331.6,247.1 1331.9,248.3 1332.3,249.1 1332.7,246.2 1333,251.7 1333.4,250.5 1333.7,249.9 1334.1,250 1334.4,250.1 1334.8,249.3 1335.2,250.1 1335.5,249.2 1335.9,248.3 1336.2,249.2 1336.6,249.1 1336.9,250.8 1337.3,251.2 1337.7,250 1338,248.2 1338.4,249.1 1338.7,248.1 1339.1,248.3 1339.5,248.2 1339.8,251.2 1340.2,248.1 1340.5,248.9 1340.9,247 1341.2,249.3 1341.6,249.8 1342,250.5 1342.3,250.1 1342.7,253.1 1343,250.9 1343.4,250.7 1343.8,249.1 1344.1,251.8 1344.5,250.6 1344.8,248.1 1345.2,251.8 1345.5,249.7 1345.9,251.9 1346.3,251.3 1346.6,250.5 1347,249.9 1347.3,252.1 1347.7,253.1 1348,249.2 1348.4,251.3 1348.8,250.4 1349.1,250.3 1349.5,250.6 1349.8,252.3 1350.2,252.1 1350.6,254.5 1350.9,251.8 1351.3,252.9 1351.6,252.3 1352,249.4 1352.3,251.3 1352.7,252.3 1353.1,254.7 1353.4,251.4 1353.8,250.3 1354.1,254 1354.5,252.1 1354.8,253.7 1355.2,253.2 1355.6,253.6 1355.9,255.7 1356.3,254 1356.6,255.9 1357,251.2 1357.4,251.7 1357.7,253.4 1358.1,253.1 1358.4,253.5 1358.8,253.4 1359.1,253.4 1359.5,254.2 1359.9,254.2 1360.2,256.2 1360.6,255.7 1360.9,255.1 1361.3,253.8 1361.7,254.9 1362,251.4 1362.4,254.7 1362.7,255.1 1363.1,253.9 1363.4,253 1363.8,251.8 1364.2,253.2 1364.5,255.8 1364.9,255.2 1365.2,253.3 1365.6,254.6 1365.9,253.9 1366.3,255.3 1366.7,252.8 1367,253.1 1367.4,253.6 1367.7,255.2 1368.1,258.3 1368.5,257.9 1368.8,255.2 1369.2,254.7 1369.5,260.9 1369.9,256.7 1370.2,254.2 1370.6,254.5 1371,257 1371.3,255.2 1371.7,256.2 1372,256.7 1372.4,254.6 1372.7,254.7 1373.1,257.5 1373.5,258.2 1373.8,258.9 1374.2,259.2 1374.5,254.7 1374.9,254 1375.3,256.7 1375.6,255.4 1376,258.3 1376.3,257.3 1376.7,255.8 1377,256.9 1377.4,257.5 1377.8,260.4 1378.1,260.1 1378.5,258.4 1378.8,258.7 1379.2,257.9 1379.6,259 1379.9,258.3 1380.3,257.9 1380.6,257.3 1381,258.1 1381.3,259.2 1381.7,258.8 1382.1,256.9 1382.4,258.8 1382.8,260.2 1383.1,260.4 1383.5,258.2 1383.8,257.8 1384.2,256.8 1384.6,259.5 1384.9,256.7 1385.3,259.7 1385.6,259.5 1386,260.2 1386.4,258.4 1386.7,257.6 1387.1,259.5 1387.4,260.4 1387.8,262.3 1388.1,259.4 1388.5,260.3 1388.9,260.1 1389.2,261 1389.6,261.5 1389.9,260.8 1390.3,259.3 1390.6,258.6 1391,260.3 1391.4,259.8 1391.7,260.7 1392.1,260.7 1392.4,263 1392.8,259.1 1393.2,259.7 1393.5,258.3 1393.9,261.9 1394.2,260.7 1394.6,262.6 1394.9,260.6 1395.3,261.3 1395.7,260.1 1396,261.5 1396.4,260.3 1396.7,262.3 1397.1,260.5 1397.5,262.1 1397.8,262.4 1398.2,261.6 1398.5,261.2 1398.9,264.4 1399.2,264.7 1399.6,261.7 1400,262.2 1400.3,265.9 1400.7,265.3 1401,263.7 1401.4,261.8 1401.7,262.1 1402.1,260.8 1402.5,260.6 1402.8,258.7 1403.2,265.4 1403.5,262.9 1403.9,261 1404.3,265.2 1404.6,265.6 1405,262.7 1405.3,261.3 1405.7,261.1 1406,266.6 1406.4,265.6 1406.8,263.6 1407.1,264.5 1407.5,263 1407.8,263.4 1408.2,260.7 1408.5,263.9 1408.9,263.6 1409.3,263.8 1409.6,262.1 1410,266.1 1410.3,263.5 1410.7,265.6 1411.1,266.9 1411.4,262.3 1411.8,263.5 1412.1,262.1 1412.5,264.1 1412.8,263.5 1413.2,264.5 1413.6,263.8 1413.9,265.6 1414.3,261.9 1414.6,266.6 1415,262 1415.4,265.5 1415.7,263.6 1416.1,265 1416.4,264.5 1416.8,262.7 1417.1,265.2 1417.5,267.3 1417.9,265.1 1418.2,264.5 1418.6,270.5 1418.9,264 1419.3,263.9 1419.6,269.3 1420,266.3 1420.4,264.5 1420.7,268.3 1421.1,267 1421.4,266.9 1421.8,265.3 1422.2,264.3 1422.5,266.5 1422.9,266.4 1423.2,264.9 1423.6,265.6 1423.9,266.9 1424.3,264.3 1424.7,269.6 1425,266.6 1425.4,267.7 1425.7,268 1426.1,266.7 1426.4,267.1 1426.8,262.8 1427.2,266.1 1427.5,266.7 1427.9,264.4 1428.2,265.6 1428.6,271.2 1429,267.4 1429.3,266.3 1429.7,268.9 1430,267.2 1430.4,268.7 1430.7,267.2 1431.1,271.2 1431.5,271.9 1431.8,269.2 1432.2,267.7 1432.5,265.8 1432.9,268.8 1433.3,269.8 1433.6,266.7 1434,268.4 1434.3,265.2 1434.7,268.8 1435,272.6 1435.4,270.3 1435.8,270.7 1436.1,271.7 1436.5,270.5 1436.8,270.4 1437.2,269.6 1437.5,270.2 1437.9,268.4 1438.3,268.5 1438.6,269 1439,269 1439.3,273.3 1439.7,272.9 1440.1,271.3 1440.4,269.1 1440.8,272.7 1441.1,270.6 1441.5,269.3 1441.8,266.1 1442.2,269.4 1442.6,271.1 1442.9,268 1443.3,269.7 1443.6,270.8 1444,268.1 1444.3,272.2 1444.7,270 1445.1,270.3 1445.4,268.8 1445.8,272.9 1446.1,273.3 1446.5,271.5 1446.9,271.3 1447.2,270.7 1447.6,271.6 1447.9,270.1 1448.3,269.7 1448.6,270.6 1449,273.3 1449.4,269 1449.7,274.5 1450.1,271.8 1450.4,269.7 1450.8,272.7 1451.2,269 1451.5,267.9 1451.9,268.6 1452.2,270.8 1452.6,269.8 1452.9,272.9 1453.3,271.1 1453.7,271.1 1454,271.8 1454.4,271.8 1454.7,272.6 1455.1,276.4 1455.4,271.5 1455.8,271.7 1456.2,268.4 1456.5,271 1456.9,272.4 1457.2,270.8 1457.6,271.4 1458,272.7 1458.3,273.6 1458.7,276 1459,272.7 1459.4,269.8 1459.7,277.1 1460.1,275.1 1460.5,271.6 1460.8,272.8 1461.2,272.4 1461.5,277.4 1461.9,274.7 1462.2,272.5 1462.6,272.3 1463,273 1463.3,275.6 1463.7,272.6 1464,276.4 1464.4,275.9 1464.8,276.4 1465.1,271.1 1465.5,274.9 1465.8,274 1466.2,279.1 1466.5,272 1466.9,273.4 1467.3,278 1467.6,278 1468,271.2 1468.3,276.6 1468.7,271 1469.1,275.7 1469.4,280.4 1469.8,272.6 1470.1,273.9 1470.5,273.6 1470.8,276.2 1471.2,275.6 1471.6,273.2 1471.9,277 1472.3,279.7 1472.6,273.5 1473,276.8 1473.3,272.9 1473.7,276.6 1474.1,276.6 1474.4,276.3 1474.8,281.2 1475.1,273.4 1475.5,277.3 1475.9,276.4 1476.2,273 1476.6,275.9 1476.9,274.3 1477.3,275.5 1477.6,274.7 1478,275.8 1478.4,274 1478.7,277 1479.1,275.6 1479.4,278.2 1479.8,274.2 1480.1,281.8 1480.5,276.4 1480.9,276.1 1481.2,276.2 1481.6,277 1481.9,274.2 1482.3,272.8 1482.7,278.5 1483,281.6 1483.4,279.8 1483.7,279.2 1484.1,277.7 1484.4,277.6 1484.8,275.3 1485.2,278.6 1485.5,277.8 1485.9,277.5 1486.2,279.8 1486.6,278.6 1487,272.3 1487.3,278.2 1487.7,280.2 1488,283.2 1488.4,275.9 1488.7,278.9 1489.1,279.7 1489.5,273.3 1489.8,275.3 1490.2,282.4 1490.5,279.3 1490.9,276.4 1491.2,276.8 1491.6,281.2 1492,275 1492.3,274.9 1492.7,281.4 1493,283 1493.4,282.2 1493.8,277.5 1494.1,276.7 1494.5,278.7 1494.8,280.5 1495.2,279.4 1495.5,278 1495.9,282.1 1496.3,283.4 1496.6,279.6 1497,276.8 1497.3,279.1 1497.7,279.1 1498,281.2 1498.4,277.7 1498.8,283.8 1499.1,279.9 1499.5,281.2 1499.8,280.2 1500.2,282.1 1500.6,278.3 1500.9,280.2 1501.3,281.5 1501.6,279 1502,280.3 1502.3,281.4 1502.7,281.7 1503.1,278.6 1503.4,282.6 1503.8,281 1504.1,281.1 1504.5,279.8 1504.9,281 1505.2,276 1505.6,284.9 1505.9,279.4 1506.3,280.9 1506.6,278.4 1507,284.8 1507.4,278.3 1507.7,284.3 1508.1,279.5 1508.4,279.9 1508.8,281.1 1509.1,282.9 1509.5,283.2 1509.9,281.1 1510.2,283.1 1510.6,286.1 1510.9,285.8 1511.3,279.7 1511.7,279.7 1512,280.4 1512.4,281.5 1512.7,280.8 1513.1,280.6 1513.4,281.1 1513.8,283.6 1514.2,283.5 1514.5,284.6 1514.9,281.5 1515.2,284.3 1515.6,282.4 1515.9,279.1 1516.3,283 1516.7,279.9 1517,278.7 1517.4,286.7 1517.7,285.7 1518.1,281.2 1518.5,284 1518.8,281.1 1519.2,280.8 1519.5,283.7 1519.9,280.6 1520.2,278.7 1520.6,280.4 1521,284.7 1521.3,283 1521.7,284 1522,279.2 1522.4,283.2 1522.8,284.4 1523.1,282.7 1523.5,281.7 1523.8,283.8 1524.2,282.7 1524.5,283 1524.9,281.3 1525.3,280.9 1525.6,282.5 1526,284.3 1526.3,282.2 1526.7,285.4 1527,280.8 1527.4,282.5 1527.8,282.8 1528.1,289.5 1528.5,278.2 1528.8,280.2 1529.2,280.6 1529.6,283.2 1529.9,282 1530.3,277.4 1530.6,285.3 1531,281.9 1531.3,282.3 1531.7,283.4 1532.1,282.9 1532.4,286.2 1532.8,282.3 1533.1,287.1 1533.5,279.8 1533.8,282.1 1534.2,286 1534.6,289.3 1534.9,283.8 1535.3,282.9 1535.6,286.5 1536,280.3 1536.4,283.5 1536.7,285.3 1537.1,287.7 1537.4,284.5 1537.8,284.7 1538.1,282.8 1538.5,281.9 1538.9,284.3 1539.2,283.3 1539.6,281.2 1539.9,283 1540.3,285.1 1540.7,283.1 1541,285.8 1541.4,283.5 1541.7,284.5 1542.1,287.4 1542.4,283.3 1542.8,284.5 1543.2,283.1 1543.5,288.1 1543.9,282.3 1544.2,282.2 1544.6,285.8 1544.9,285.2 1545.3,284.9 1545.7,285.1 1546,283.1 1546.4,286.8 1546.7,288 1547.1,285.7 1547.5,280.9 1547.8,286.2 1548.2,287.7 1548.5,287.6 1548.9,284.9 1549.2,282.6 1549.6,287.2 1550,285 1550.3,285 1550.7,284.4 1551,285.2 1551.4,283.1 1551.7,284 1552.1,287.2 1552.5,280.2 1552.8,289.2 1553.2,289.1 1553.5,283.4 1553.9,285.4 1554.3,286.5 1554.6,285.4 1555,284.3 1555.3,287 1555.7,287.6 1556,288.7 1556.4,288.2 1556.8,288.1 1557.1,283.4 1557.5,285.5 1557.8,284.9 1558.2,287.6 1558.6,283.8 1558.9,290.3 1559.3,285.2 1559.6,284.7 1560,287.8 1560.3,289 1560.7,285.2 1561.1,288.3 1561.4,288.8 1561.8,286.6 1562.1,289.5 1562.5,287 1562.8,282 1563.2,287.8 1563.6,284.6 1563.9,289.5 1564.3,286.6 1564.6,287.5 1565,287.3 1565.4,285.1 1565.7,282 1566.1,287.3 1566.4,284 1566.8,286.2 1567.1,285.4 1567.5,288.3 1567.9,289 1568.2,287.7 1568.6,289.2 1568.9,287.3 1569.3,290.1 1569.6,287.4 1570,287 1570.4,283.2 1570.7,283.5 1571.1,286.3 1571.4,288.9 1571.8,286.2 1572.2,285.7 1572.5,288.2 1572.9,289.9 1573.2,292.5 1573.6,287.9 1573.9,283.4 1574.3,288.4 1574.7,287 1575,287.1 1575.4,286.8 1575.7,286.2 1576.1,293.5 1576.5,288.5 1576.8,287.3 1577.2,288.5 1577.5,285.4 1577.9,289.3 1578.2,286.1 1578.6,284.2 1579,289.1 1579.3,288.4 1579.7,289.3 1580,286.7 1580.4,294.4 1580.7,292.5 1581.1,289.4 1581.5,286.6 1581.8,287.3 1582.2,290.9 1582.5,285 1582.9,288.6 1583.3,290.5 1583.6,287.7 1584,285.9 1584.3,289.2 1584.7,293.1 1585,290.6 1585.4,289 1585.8,286.9 1586.1,291.9 1586.5,288.7 1586.8,292.5 1587.2,289.2 1587.5,293 1587.9,290.7 1588.3,293.6 1588.6,292.2 1589,293.9 1589.3,295 1589.7,286.7 1590.1,286.9 1590.4,288.6 1590.8,290.8 1591.1,286.3 1591.5,290.7 1591.8,288.9 1592.2,287.3 1592.6,289.5 1592.9,286.5 1593.3,290.6 1593.6,290.6 1594,289.9 1594.4,293.4 1594.7,293.2 1595.1,288.5 1595.4,295.2 1595.8,287.7 1596.1,289.9 1596.5,287.7 1596.9,288.7 1597.2,289.2 1597.6,286.5 1597.9,291 1598.3,291.1 1598.6,288.1 1599,292.7 1599.4,288.2 1599.7,289.3 1600.1,292.4 1600.4,294.6 1600.8,296.8 1601.2,286.7 1601.5,295.4 1601.9,294.6 1602.2,289.2 1602.6,290.2 1602.9,291 1603.3,291.3 1603.7,292.7 1604,294.2 1604.4,293.7 1604.7,290.3 1605.1,289.1 1605.4,288.9 1605.8,292 1606.2,298.4 1606.5,290.7 1606.9,292.5 1607.2,299.9 1607.6,288.7 1608,291.7 1608.3,292.5 1608.7,291.8 1609,292.1 1609.4,291.8 1609.7,292.2 1610.1,292.5 1610.5,291.1 1610.8,291.7 1611.2,286.8 1611.5,292.4 1611.9,294.2 1612.3,294.5 1612.6,291.9 1613,292.6 1613.3,292.3 1613.7,293.6 1614,293.6 1614.4,291.2 1614.8,289.7 1615.1,292.3 1615.5,293.6 1615.8,296.6 1616.2,296.6 1616.5,293.4 1616.9,294.2 1617.3,293.9 1617.6,296.8 1618,294.1 1618.3,299.4 1618.7,297.2 1619.1,296.1 1619.4,292.4 1619.8,295.7 1620.1,296.7 1620.5,293.5 1620.8,294.5 1621.2,291.9 1621.6,293.5 1621.9,293.9 1622.3,295 1622.6,292.8 1623,296.7 1623.3,299.1 1623.7,292.4 1624.1,296.1 1624.4,294.8 1624.8,293.3 1625.1,292.3 1625.5,303.9 1625.9,298.1 1626.2,292 1626.6,300.2 1626.9,294.1 1627.3,296.4 1627.6,298 1628,295.9 1628.4,300.5 1628.7,294.5 1629.1,292.6 1629.4,299.9 1629.8,297.7 1630.2,292.7 1630.5,294.9 1630.9,296.9 1631.2,292.3 1631.6,301.1 1631.9,297 1632.3,296 1632.7,297.2 1633,294.2 1633.4,301.4 1633.7,296.4 1634.1,298.8 1634.4,293.4 1634.8,293.9 1635.2,298.9 1635.5,300 1635.9,297 1636.2,299.4 1636.6,298.6 1637,295.9 1637.3,298.4 1637.7,292.4"/>
</g>
<line x1="893.2" y1="7" x2="893.2" y2="411.9" stroke="#000" stroke-width="3.8"/>
<line x1="890.7" y1="410" x2="1665.5" y2="410" stroke="#000" stroke-width="3.8"/>
<line x1="867.2" y1="404.3" x2="893.2" y2="404.3" stroke="#000" stroke-width="3.8"/>
<text x="798" y="420.6" font-family='"Liberation Sans", sans-serif' font-size="35" fill="#000" text-anchor="start" stroke="#000" stroke-width="0.5">10</text>
<text x="836.8" y="399.7" font-family='"Liberation Sans", sans-serif' font-size="26" fill="#000" text-anchor="start" stroke="#000" stroke-width="0.5">0</text>
<line x1="867.2" y1="311.9" x2="893.2" y2="311.9" stroke="#000" stroke-width="3.8"/>
<text x="798" y="328.2" font-family='"Liberation Sans", sans-serif' font-size="35" fill="#000" text-anchor="start" stroke="#000" stroke-width="0.5">10</text>
<text x="836.8" y="307.3" font-family='"Liberation Sans", sans-serif' font-size="26" fill="#000" text-anchor="start" stroke="#000" stroke-width="0.5">1</text>
<line x1="867.2" y1="219.5" x2="893.2" y2="219.5" stroke="#000" stroke-width="3.8"/>
<text x="798" y="235.8" font-family='"Liberation Sans", sans-serif' font-size="35" fill="#000" text-anchor="start" stroke="#000" stroke-width="0.5">10</text>
<text x="836.8" y="214.9" font-family='"Liberation Sans", sans-serif' font-size="26" fill="#000" text-anchor="start" stroke="#000" stroke-width="0.5">2</text>
<line x1="867.2" y1="127.1" x2="893.2" y2="127.1" stroke="#000" stroke-width="3.8"/>
<text x="798" y="143.4" font-family='"Liberation Sans", sans-serif' font-size="35" fill="#000" text-anchor="start" stroke="#000" stroke-width="0.5">10</text>
<text x="836.8" y="122.5" font-family='"Liberation Sans", sans-serif' font-size="26" fill="#000" text-anchor="start" stroke="#000" stroke-width="0.5">3</text>
<line x1="867.2" y1="34.7" x2="893.2" y2="34.7" stroke="#000" stroke-width="3.8"/>
<text x="798" y="51" font-family='"Liberation Sans", sans-serif' font-size="35" fill="#000" text-anchor="start" stroke="#000" stroke-width="0.5">10</text>
<text x="836.8" y="30.1" font-family='"Liberation Sans", sans-serif' font-size="26" fill="#000" text-anchor="start" stroke="#000" stroke-width="0.5">4</text>
<line x1="941" y1="410" x2="941" y2="436" stroke="#000" stroke-width="3.8"/>
<text x="941" y="477.2" font-family='"Liberation Sans", sans-serif' font-size="35" fill="#000" text-anchor="middle" stroke="#000" stroke-width="0.5">0</text>
<line x1="1120" y1="410" x2="1120" y2="436" stroke="#000" stroke-width="3.8"/>
<text x="1120" y="477.2" font-family='"Liberation Sans", sans-serif' font-size="35" fill="#000" text-anchor="middle" stroke="#000" stroke-width="0.5">10</text>
<line x1="1299" y1="410" x2="1299" y2="436" stroke="#000" stroke-width="3.8"/>
<text x="1299" y="477.2" font-family='"Liberation Sans", sans-serif' font-size="35" fill="#000" text-anchor="middle" stroke="#000" stroke-width="0.5">20</text>
<line x1="1478" y1="410" x2="1478" y2="436" stroke="#000" stroke-width="3.8"/>
<text x="1478" y="477.2" font-family='"Liberation Sans", sans-serif' font-size="35" fill="#000" text-anchor="middle" stroke="#000" stroke-width="0.5">30</text>
<line x1="1657" y1="410" x2="1657" y2="436" stroke="#000" stroke-width="3.8"/>
<text x="1657" y="477.2" font-family='"Liberation Sans", sans-serif' font-size="35" fill="#000" text-anchor="middle" stroke="#000" stroke-width="0.5">40</text>
<text x="1282.5" y="519.8" font-family='"Liberation Sans", sans-serif' font-size="35" fill="#000" text-anchor="middle" stroke="#000" stroke-width="0.5">Delay in ns</text>
<text transform="translate(806.4 204) rotate(-90)" font-family='"Liberation Sans", sans-serif' font-size="35" text-anchor="middle" stroke="#000" stroke-width="0.5">Counts</text>
<line x1="1520.4" y1="44.5" x2="1575.9" y2="44.5" stroke="#ff0000" stroke-width="3.8"/>
<text x="1588.4" y="54.8" font-family='"Liberation Sans", sans-serif' font-size="36" fill="#000" text-anchor="start" stroke="#000" stroke-width="0.5">A</text><text x="1613.6" y="60.9" font-family='"Liberation Sans", sans-serif' font-size="23.76" fill="#000" text-anchor="start" stroke="#000" stroke-width="0.5">1</text>
<line x1="1520.4" y1="85.15" x2="1575.9" y2="85.15" stroke="#8000ff" stroke-width="3.8"/>
<text x="1588.4" y="95.45" font-family='"Liberation Sans", sans-serif' font-size="36" fill="#000" text-anchor="start" stroke="#000" stroke-width="0.5">A</text><text x="1613.6" y="101.55" font-family='"Liberation Sans", sans-serif' font-size="23.76" fill="#000" text-anchor="start" stroke="#000" stroke-width="0.5">2</text>
<line x1="1520.4" y1="125.8" x2="1575.9" y2="125.8" stroke="#00ff40" stroke-width="3.8"/>
<text x="1590" y="136.1" font-family='"Liberation Sans", sans-serif' font-size="36" fill="#000" text-anchor="start" stroke="#000" stroke-width="0.5">B</text><text x="1615.2" y="142.2" font-family='"Liberation Sans", sans-serif' font-size="23.76" fill="#000" text-anchor="start" stroke="#000" stroke-width="0.5">1</text>
<polyline fill="none" stroke="#ff0000" stroke-width="3.7" stroke-linejoin="bevel" points="869.5,921.7 879.6,916.7 889.8,913.7 900,912.9 910.1,911.7 920.3,908.4 930.5,913.4 940.6,909 950.8,918.7 961,919 971.1,917.9 981.3,922 991.5,921.1 1001.6,920.7 1011.8,921.2 1022,922 1032.1,922.8 1042.3,922 1052.5,921.7 1062.6,921.7 1072.8,921.7 1083,921.7 1093.1,921.7 1103.3,921.7 1113.5,921.7 1123.6,921.1 1133.8,918.9 1144,835.5 1154.1,785.6 1164.3,736.9 1174.5,712.3 1184.6,697.7 1194.8,693.2 1205,702.2 1215.1,718.4 1225.3,744.2 1235.5,774.4 1245.6,777.2 1255.8,807.5 1266,814.2 1276.1,844.4 1286.3,853.4 1296.5,864 1306.6,877.5 1316.8,888.9 1327,893.4 1337.1,903.2 1347.3,908.6 1357.5,914 1367.6,917.6 1377.8,919.9 1387.9,920.7 1398.1,916.7 1408.3,755.9 1418.4,678.1 1428.6,626.6 1438.8,593.3 1448.9,568.3 1459.1,599.9 1469.3,580.9 1479.4,629.4 1489.6,653.5 1499.8,679.8 1509.9,742.8 1520.1,765.6 1530.3,783.9 1540.4,803 1550.6,836 1560.8,860.1 1570.9,875.2 1581.1,882.8 1591.3,891.5 1601.4,901.8 1611.6,910.5 1621.8,913.9 1631.9,918.3 1642.1,920.6 1652.3,921.7 1662.4,921.7 1672.6,921.7"/>
<polyline fill="none" stroke="#00ff40" stroke-width="3.7" stroke-linejoin="bevel" points="869.5,921.7 879.6,912.9 889.8,888.7 900,865.4 910.1,847.9 920.3,837.9 930.5,817 940.6,814.5 950.8,813.7 961,832.9 971.1,853.2 981.3,863.7 991.5,877 1001.6,888.7 1011.8,897.8 1022,904.5 1032.1,910.4 1042.3,914.5 1052.5,917.4 1062.6,919.5 1072.8,920.7 1083,921.2 1093.1,921.7 1103.3,921.7 1113.5,921.7 1123.6,921.7 1133.8,921.7 1144,927.3 1154.1,917.6 1164.3,924.2 1174.5,914.9 1184.6,900.6 1194.8,889.8 1205,879.1 1215.1,873 1225.3,866.8 1235.5,861.2 1245.6,881.9 1255.8,878.6 1266,893.7 1276.1,888.9 1286.3,899.7 1296.5,906.5 1306.6,909.9 1316.8,912.2 1327,917.9 1337.1,918.5 1347.3,921.1 1357.5,921.1 1367.6,921.7 1377.8,921.7 1387.9,921.7 1398.1,921.7 1408.3,921.7 1418.4,901 1428.6,894.3 1438.8,886.2 1448.9,887.9 1459.1,856.2 1469.3,887.1 1479.4,872.4 1489.6,888.5 1499.8,904.1 1509.9,886.2 1520.1,899.9 1530.3,913.9 1540.4,923.4 1550.6,917.1 1560.8,915.5 1570.9,918 1581.1,922.8 1591.3,925.6 1601.4,923.7 1611.6,921.7 1621.8,922.3 1631.9,921.7 1642.1,921.7 1652.3,921.7 1662.4,921.7 1672.6,921.7"/>
<polyline fill="none" stroke="#8000ff" stroke-width="3.7" stroke-linejoin="bevel" points="869.5,922 879.6,921.1 889.8,920 900,919 910.1,918.3 920.3,918.1 930.5,917.4 940.6,917.1 950.8,915 961,914.9 971.1,915.7 981.3,916.2 991.5,917.4 1001.6,918.3 1011.8,919 1022,919.3 1032.1,920.4 1042.3,921.2 1052.5,921.7 1062.6,921.7 1072.8,921.7 1083,921.7 1093.1,921.7 1103.3,921.7 1113.5,921.7 1123.6,921.7 1133.8,921.1 1144,901.5 1154.1,879.1 1164.3,861.2 1174.5,838.8 1184.6,813.1 1194.8,785.6 1205,759.3 1215.1,736.9 1225.3,724 1235.5,720.1 1245.6,725.7 1255.8,730.2 1266,739.7 1276.1,749.8 1286.3,764.9 1296.5,783.4 1306.6,804.1 1316.8,826.5 1327,847.2 1337.1,865.7 1347.3,882.5 1357.5,897.9 1367.6,910.5 1377.8,917.6 1387.9,920.7 1398.1,921 1408.3,881.9 1418.4,844.7 1428.6,814.2 1438.8,783.9 1448.9,752.6 1459.1,720.9 1469.3,701.1 1479.4,682.6 1489.6,680.9 1499.8,689.3 1509.9,699.9 1520.1,716.2 1530.3,734.1 1540.4,753.7 1550.6,773.3 1560.8,796.3 1570.9,820.9 1581.1,843.9 1591.3,864.6 1601.4,881.9 1611.6,896.1 1621.8,907.5 1631.9,914.6 1642.1,919.3 1652.3,920.6 1662.4,921.3 1672.6,921.5"/>
<line x1="858.8" y1="566.8" x2="858.8" y2="933.5" stroke="#000" stroke-width="3.8"/>
<line x1="856.3" y1="931.6" x2="1679.58" y2="931.6" stroke="#000" stroke-width="3.8"/>
<line x1="864.4" y1="931.6" x2="864.4" y2="957.1" stroke="#000" stroke-width="3.5"/>
<line x1="874.57" y1="931.6" x2="874.57" y2="957.1" stroke="#000" stroke-width="3.5"/>
<line x1="884.73" y1="931.6" x2="884.73" y2="957.1" stroke="#000" stroke-width="3.5"/>
<line x1="894.9" y1="931.6" x2="894.9" y2="957.1" stroke="#000" stroke-width="3.5"/>
<line x1="905.06" y1="931.6" x2="905.06" y2="957.1" stroke="#000" stroke-width="3.5"/>
<line x1="915.23" y1="931.6" x2="915.23" y2="957.1" stroke="#000" stroke-width="3.5"/>
<line x1="925.4" y1="931.6" x2="925.4" y2="957.1" stroke="#000" stroke-width="3.5"/>
<line x1="935.56" y1="931.6" x2="935.56" y2="957.1" stroke="#000" stroke-width="3.5"/>
<line x1="945.73" y1="931.6" x2="945.73" y2="957.1" stroke="#000" stroke-width="3.5"/>
<line x1="955.89" y1="931.6" x2="955.89" y2="957.1" stroke="#000" stroke-width="3.5"/>
<line x1="966.06" y1="931.6" x2="966.06" y2="957.1" stroke="#000" stroke-width="3.5"/>
<line x1="976.23" y1="931.6" x2="976.23" y2="957.1" stroke="#000" stroke-width="3.5"/>
<line x1="986.39" y1="931.6" x2="986.39" y2="957.1" stroke="#000" stroke-width="3.5"/>
<line x1="996.56" y1="931.6" x2="996.56" y2="957.1" stroke="#000" stroke-width="3.5"/>
<line x1="1006.72" y1="931.6" x2="1006.72" y2="957.1" stroke="#000" stroke-width="3.5"/>
<line x1="1016.89" y1="931.6" x2="1016.89" y2="957.1" stroke="#000" stroke-width="3.5"/>
<line x1="1027.06" y1="931.6" x2="1027.06" y2="957.1" stroke="#000" stroke-width="3.5"/>
<line x1="1037.22" y1="931.6" x2="1037.22" y2="957.1" stroke="#000" stroke-width="3.5"/>
<line x1="1047.39" y1="931.6" x2="1047.39" y2="957.1" stroke="#000" stroke-width="3.5"/>
<line x1="1057.55" y1="931.6" x2="1057.55" y2="957.1" stroke="#000" stroke-width="3.5"/>
<line x1="1067.72" y1="931.6" x2="1067.72" y2="957.1" stroke="#000" stroke-width="3.5"/>
<line x1="1077.89" y1="931.6" x2="1077.89" y2="957.1" stroke="#000" stroke-width="3.5"/>
<line x1="1088.05" y1="931.6" x2="1088.05" y2="957.1" stroke="#000" stroke-width="3.5"/>
<line x1="1098.22" y1="931.6" x2="1098.22" y2="957.1" stroke="#000" stroke-width="3.5"/>
<line x1="1108.38" y1="931.6" x2="1108.38" y2="957.1" stroke="#000" stroke-width="3.5"/>
<line x1="1118.55" y1="931.6" x2="1118.55" y2="957.1" stroke="#000" stroke-width="3.5"/>
<line x1="1128.72" y1="931.6" x2="1128.72" y2="957.1" stroke="#000" stroke-width="3.5"/>
<line x1="1138.88" y1="931.6" x2="1138.88" y2="957.1" stroke="#000" stroke-width="3.5"/>
<line x1="1149.05" y1="931.6" x2="1149.05" y2="957.1" stroke="#000" stroke-width="3.5"/>
<line x1="1159.21" y1="931.6" x2="1159.21" y2="957.1" stroke="#000" stroke-width="3.5"/>
<line x1="1169.38" y1="931.6" x2="1169.38" y2="957.1" stroke="#000" stroke-width="3.5"/>
<line x1="1179.55" y1="931.6" x2="1179.55" y2="957.1" stroke="#000" stroke-width="3.5"/>
<line x1="1189.71" y1="931.6" x2="1189.71" y2="957.1" stroke="#000" stroke-width="3.5"/>
<line x1="1199.88" y1="931.6" x2="1199.88" y2="957.1" stroke="#000" stroke-width="3.5"/>
<line x1="1210.04" y1="931.6" x2="1210.04" y2="957.1" stroke="#000" stroke-width="3.5"/>
<line x1="1220.21" y1="931.6" x2="1220.21" y2="957.1" stroke="#000" stroke-width="3.5"/>
<line x1="1230.38" y1="931.6" x2="1230.38" y2="957.1" stroke="#000" stroke-width="3.5"/>
<line x1="1240.54" y1="931.6" x2="1240.54" y2="957.1" stroke="#000" stroke-width="3.5"/>
<line x1="1250.71" y1="931.6" x2="1250.71" y2="957.1" stroke="#000" stroke-width="3.5"/>
<line x1="1260.87" y1="931.6" x2="1260.87" y2="957.1" stroke="#000" stroke-width="3.5"/>
<line x1="1271.04" y1="931.6" x2="1271.04" y2="957.1" stroke="#000" stroke-width="3.5"/>
<line x1="1281.21" y1="931.6" x2="1281.21" y2="957.1" stroke="#000" stroke-width="3.5"/>
<line x1="1291.37" y1="931.6" x2="1291.37" y2="957.1" stroke="#000" stroke-width="3.5"/>
<line x1="1301.54" y1="931.6" x2="1301.54" y2="957.1" stroke="#000" stroke-width="3.5"/>
<line x1="1311.7" y1="931.6" x2="1311.7" y2="957.1" stroke="#000" stroke-width="3.5"/>
<line x1="1321.87" y1="931.6" x2="1321.87" y2="957.1" stroke="#000" stroke-width="3.5"/>
<line x1="1332.04" y1="931.6" x2="1332.04" y2="957.1" stroke="#000" stroke-width="3.5"/>
<line x1="1342.2" y1="931.6" x2="1342.2" y2="957.1" stroke="#000" stroke-width="3.5"/>
<line x1="1352.37" y1="931.6" x2="1352.37" y2="957.1" stroke="#000" stroke-width="3.5"/>
<line x1="1362.53" y1="931.6" x2="1362.53" y2="957.1" stroke="#000" stroke-width="3.5"/>
<line x1="1372.7" y1="931.6" x2="1372.7" y2="957.1" stroke="#000" stroke-width="3.5"/>
<line x1="1382.87" y1="931.6" x2="1382.87" y2="957.1" stroke="#000" stroke-width="3.5"/>
<line x1="1393.03" y1="931.6" x2="1393.03" y2="957.1" stroke="#000" stroke-width="3.5"/>
<line x1="1403.2" y1="931.6" x2="1403.2" y2="957.1" stroke="#000" stroke-width="3.5"/>
<line x1="1413.36" y1="931.6" x2="1413.36" y2="957.1" stroke="#000" stroke-width="3.5"/>
<line x1="1423.53" y1="931.6" x2="1423.53" y2="957.1" stroke="#000" stroke-width="3.5"/>
<line x1="1433.7" y1="931.6" x2="1433.7" y2="957.1" stroke="#000" stroke-width="3.5"/>
<line x1="1443.86" y1="931.6" x2="1443.86" y2="957.1" stroke="#000" stroke-width="3.5"/>
<line x1="1454.03" y1="931.6" x2="1454.03" y2="957.1" stroke="#000" stroke-width="3.5"/>
<line x1="1464.19" y1="931.6" x2="1464.19" y2="957.1" stroke="#000" stroke-width="3.5"/>
<line x1="1474.36" y1="931.6" x2="1474.36" y2="957.1" stroke="#000" stroke-width="3.5"/>
<line x1="1484.53" y1="931.6" x2="1484.53" y2="957.1" stroke="#000" stroke-width="3.5"/>
<line x1="1494.69" y1="931.6" x2="1494.69" y2="957.1" stroke="#000" stroke-width="3.5"/>
<line x1="1504.86" y1="931.6" x2="1504.86" y2="957.1" stroke="#000" stroke-width="3.5"/>
<line x1="1515.02" y1="931.6" x2="1515.02" y2="957.1" stroke="#000" stroke-width="3.5"/>
<line x1="1525.19" y1="931.6" x2="1525.19" y2="957.1" stroke="#000" stroke-width="3.5"/>
<line x1="1535.36" y1="931.6" x2="1535.36" y2="957.1" stroke="#000" stroke-width="3.5"/>
<line x1="1545.52" y1="931.6" x2="1545.52" y2="957.1" stroke="#000" stroke-width="3.5"/>
<line x1="1555.69" y1="931.6" x2="1555.69" y2="957.1" stroke="#000" stroke-width="3.5"/>
<line x1="1565.85" y1="931.6" x2="1565.85" y2="957.1" stroke="#000" stroke-width="3.5"/>
<line x1="1576.02" y1="931.6" x2="1576.02" y2="957.1" stroke="#000" stroke-width="3.5"/>
<line x1="1586.19" y1="931.6" x2="1586.19" y2="957.1" stroke="#000" stroke-width="3.5"/>
<line x1="1596.35" y1="931.6" x2="1596.35" y2="957.1" stroke="#000" stroke-width="3.5"/>
<line x1="1606.52" y1="931.6" x2="1606.52" y2="957.1" stroke="#000" stroke-width="3.5"/>
<line x1="1616.68" y1="931.6" x2="1616.68" y2="957.1" stroke="#000" stroke-width="3.5"/>
<line x1="1626.85" y1="931.6" x2="1626.85" y2="957.1" stroke="#000" stroke-width="3.5"/>
<line x1="1637.02" y1="931.6" x2="1637.02" y2="957.1" stroke="#000" stroke-width="3.5"/>
<line x1="1647.18" y1="931.6" x2="1647.18" y2="957.1" stroke="#000" stroke-width="3.5"/>
<line x1="1657.35" y1="931.6" x2="1657.35" y2="957.1" stroke="#000" stroke-width="3.5"/>
<line x1="1667.51" y1="931.6" x2="1667.51" y2="957.1" stroke="#000" stroke-width="3.5"/>
<line x1="1677.68" y1="931.6" x2="1677.68" y2="957.1" stroke="#000" stroke-width="3.5"/>
<line x1="832.8" y1="921.7" x2="858.8" y2="921.7" stroke="#000" stroke-width="3.8"/>
<text x="821" y="932.9" font-family='"Liberation Sans", sans-serif' font-size="36" fill="#000" text-anchor="end" stroke="#000" stroke-width="0.5">0</text>
<line x1="832.8" y1="865.7" x2="858.8" y2="865.7" stroke="#000" stroke-width="3.8"/>
<text x="821" y="876.9" font-family='"Liberation Sans", sans-serif' font-size="36" fill="#000" text-anchor="end" stroke="#000" stroke-width="0.5">1</text>
<line x1="832.8" y1="809.7" x2="858.8" y2="809.7" stroke="#000" stroke-width="3.8"/>
<text x="821" y="820.9" font-family='"Liberation Sans", sans-serif' font-size="36" fill="#000" text-anchor="end" stroke="#000" stroke-width="0.5">2</text>
<line x1="832.8" y1="753.7" x2="858.8" y2="753.7" stroke="#000" stroke-width="3.8"/>
<text x="821" y="764.9" font-family='"Liberation Sans", sans-serif' font-size="36" fill="#000" text-anchor="end" stroke="#000" stroke-width="0.5">3</text>
<line x1="832.8" y1="697.7" x2="858.8" y2="697.7" stroke="#000" stroke-width="3.8"/>
<text x="821" y="708.9" font-family='"Liberation Sans", sans-serif' font-size="36" fill="#000" text-anchor="end" stroke="#000" stroke-width="0.5">4</text>
<line x1="832.8" y1="641.7" x2="858.8" y2="641.7" stroke="#000" stroke-width="3.8"/>
<text x="821" y="652.9" font-family='"Liberation Sans", sans-serif' font-size="36" fill="#000" text-anchor="end" stroke="#000" stroke-width="0.5">5</text>
<line x1="832.8" y1="585.7" x2="858.8" y2="585.7" stroke="#000" stroke-width="3.8"/>
<text x="821" y="596.9" font-family='"Liberation Sans", sans-serif' font-size="36" fill="#000" text-anchor="end" stroke="#000" stroke-width="0.5">6</text>
<text transform="translate(879.28 967) rotate(-90)" font-family='"Liberation Sans", sans-serif' font-size="36" text-anchor="end" stroke="#000" stroke-width="0.5">410</text>
<text transform="translate(950.44 967) rotate(-90)" font-family='"Liberation Sans", sans-serif' font-size="36" text-anchor="end" stroke="#000" stroke-width="0.5">450</text>
<text transform="translate(1041.94 967) rotate(-90)" font-family='"Liberation Sans", sans-serif' font-size="36" text-anchor="end" stroke="#000" stroke-width="0.5">500</text>
<text transform="translate(1123.27 967) rotate(-90)" font-family='"Liberation Sans", sans-serif' font-size="36" text-anchor="end" stroke="#000" stroke-width="0.5">400</text>
<text transform="translate(1214.76 967) rotate(-90)" font-family='"Liberation Sans", sans-serif' font-size="36" text-anchor="end" stroke="#000" stroke-width="0.5">451</text>
<text transform="translate(1306.25 967) rotate(-90)" font-family='"Liberation Sans", sans-serif' font-size="36" text-anchor="end" stroke="#000" stroke-width="0.5">501</text>
<text transform="translate(1397.75 967) rotate(-90)" font-family='"Liberation Sans", sans-serif' font-size="36" text-anchor="end" stroke="#000" stroke-width="0.5">551</text>
<text transform="translate(1479.08 967) rotate(-90)" font-family='"Liberation Sans", sans-serif' font-size="36" text-anchor="end" stroke="#000" stroke-width="0.5">450</text>
<text transform="translate(1570.57 967) rotate(-90)" font-family='"Liberation Sans", sans-serif' font-size="36" text-anchor="end" stroke="#000" stroke-width="0.5">500</text>
<text transform="translate(1662.06 967) rotate(-90)" font-family='"Liberation Sans", sans-serif' font-size="36" text-anchor="end" stroke="#000" stroke-width="0.5">550</text>
<text x="1013.9" y="1083.7" font-family='"Liberation Sans", sans-serif' font-size="36" fill="#000" text-anchor="middle" stroke="#000" stroke-width="0.5">Scan 1</text>
<text x="1271" y="1083.7" font-family='"Liberation Sans", sans-serif' font-size="36" fill="#000" text-anchor="middle" stroke="#000" stroke-width="0.5">Scan 3</text>
<text x="1527.6" y="1083.7" font-family='"Liberation Sans", sans-serif' font-size="36" fill="#000" text-anchor="middle" stroke="#000" stroke-width="0.5">Scan 2</text>
<clipPath id="c3"><rect x="899.2" y="0" width="900" height="1579.5"/></clipPath>
<g clip-path="url(#c3)">
<polyline fill="none" stroke="#00ff40" stroke-width="4" stroke-linejoin="bevel" points="929.8,1621 932.2,1617.8 932.5,1572.9 932.8,1614 933.1,1555.7 933.4,1610.8 935.8,1587.3 936.1,1566.5 936.4,1588.5 937.9,1618.3 938.2,1553.4 938.5,1575.1 938.8,1618.8 939.1,1583.4 939.4,1619.9 939.7,1582.9 940,1620.6 940.6,1613.5 940.9,1532.5 941.2,1538.5 941.5,1518 941.8,1526.6 942.1,1509.3 942.4,1508.4 942.7,1496.2 943,1490.9 943.3,1490.2 943.5,1486.2 943.8,1458.3 944.1,1448 944.4,1438.2 944.7,1429 945,1411.3 945.3,1403.5 945.6,1393.4 945.9,1381.6 946.2,1370.1 946.5,1358.2 946.8,1335.2 947.1,1301.4 947.4,1267.3 947.7,1245.2 948,1234.5 948.3,1224.9 948.6,1217.8 948.9,1212 949.2,1208.4 949.5,1205.6 949.8,1203.8 950.1,1202.9 950.4,1202.9 950.7,1203.4 951,1204 951.3,1204.5 951.6,1205.6 951.9,1206.6 952.2,1207.5 952.5,1209 952.8,1209.9 953.1,1211.1 953.4,1212.4 953.7,1212.9 954,1213.6 954.3,1214.5 954.6,1215.3 954.9,1216 955.2,1216.9 955.5,1217.4 955.8,1218.5 956.1,1219.4 956.4,1219.9 956.7,1220.5 957,1221.4 957.3,1222.2 957.6,1222.7 957.9,1223.3 958.2,1224.3 958.5,1225.3 958.8,1226.1 959.1,1226.7 959.4,1227.5 959.7,1228.2 960,1229.1 960.3,1229.5 960.6,1230.7 960.9,1231.1 961.2,1231.9 961.5,1232.2 961.8,1233.7 962.1,1234.4 962.3,1234.7 962.6,1235.4 962.9,1236.5 963.2,1236.8 963.5,1238 963.8,1238.4 964.1,1239.1 964.4,1239.6 964.7,1240.9 965,1241.5 965.3,1242 965.6,1243.1 965.9,1243.7 966.2,1244.4 966.5,1245.1 966.8,1245.4 967.1,1247 967.4,1247.1 967.7,1248.2 968,1248.5 968.3,1248.8 968.6,1249.9 968.9,1250.5 969.2,1251.6 969.5,1252 969.8,1253.3 970.1,1253.5 970.4,1254.3 970.7,1255.4 971,1255.8 971.3,1257 971.6,1256.6 971.9,1257.9 972.2,1259.1 972.5,1259.5 972.8,1260.3 973.1,1260.6 973.4,1261.1 973.7,1262.3 974,1262.5 974.3,1264.4 974.6,1264.3 974.9,1264.5 975.2,1265.4 975.5,1266.7 975.8,1267.2 976.1,1268.2 976.4,1268.2 976.7,1269.1 977,1270.2 977.3,1270.1 977.6,1271.4 977.9,1272.3 978.2,1272.1 978.5,1272.8 978.8,1273.6 979.1,1274.4 979.4,1275.2 979.7,1275.4 980,1276.6 980.3,1277.6 980.6,1278.5 980.8,1279.2 981.1,1279.4 981.4,1280.6 981.7,1281.1 982,1281.4 982.3,1281.7 982.6,1283.1 982.9,1282.9 983.2,1284.6 983.5,1285 983.8,1285.8 984.1,1286.6 984.4,1286.8 984.7,1287.4 985,1288 985.3,1289.5 985.6,1289.7 985.9,1290.9 986.2,1290.3 986.5,1292.3 986.8,1292.7 987.1,1293.7 987.4,1292.8 987.7,1294.3 988,1294.6 988.3,1295.5 988.6,1296.7 988.9,1297.7 989.2,1298.1 989.5,1299 989.8,1299.8 990.1,1300.7 990.4,1300.6 990.7,1301.9 991,1302.4 991.3,1304.4 991.6,1303.2 991.9,1304.7 992.2,1304 992.5,1305.4 992.8,1306.1 993.1,1307.1 993.4,1308.4 993.7,1308 994,1308.6 994.3,1309.5 994.6,1310.2 994.9,1310.7 995.2,1312 995.5,1313.1 995.8,1313.5 996.1,1312.8 996.4,1314.5 996.7,1315.6 997,1315.2 997.3,1316.7 997.6,1316.1 997.9,1317.1 998.2,1317.8 998.5,1318 998.8,1319.6 999.1,1320.3 999.4,1320.8 999.6,1321.3 999.9,1322.5 1000.2,1322.4 1000.5,1323.1 1000.8,1322.8 1001.1,1325 1001.4,1325 1001.7,1324.9 1002,1327 1002.3,1327.4 1002.6,1327.3 1002.9,1327.9 1003.2,1329 1003.5,1329.5 1003.8,1329.8 1004.1,1330.6 1004.4,1331.4 1004.7,1331.1 1005,1332.5 1005.3,1332.9 1005.6,1332.6 1005.9,1335.1 1006.2,1334.4 1006.5,1334.5 1006.8,1335.2 1007.1,1338.4 1007.4,1336.5 1007.7,1339.9 1008,1339.5 1008.3,1341.1 1008.6,1341.6 1008.9,1340.1 1009.2,1340.3 1009.5,1342.1 1009.8,1342.7 1010.1,1343.2 1010.4,1344.5 1010.7,1344.5 1011,1345.9 1011.3,1345.2 1011.6,1345.8 1011.9,1347.6 1012.2,1348 1012.5,1349 1012.8,1348.3 1013.1,1350.5 1013.4,1348.1 1013.7,1353.7 1014,1352.5 1014.3,1351 1014.6,1352.6 1014.9,1351.2 1015.2,1352.9 1015.5,1354.7 1015.8,1355.3 1016.1,1354.5 1016.4,1356.5 1016.7,1357.5 1017,1356 1017.3,1357.5 1017.6,1357.4 1017.9,1360.3 1018.1,1360.1 1018.4,1361.3 1018.7,1361.8 1019,1362.2 1019.3,1362.1 1019.6,1364 1019.9,1363.1 1020.2,1365.1 1020.5,1365.8 1020.8,1366.6 1021.1,1366.9 1021.4,1368.5 1021.7,1367 1022,1366.4 1022.3,1369 1022.6,1369.4 1022.9,1370.3 1023.2,1370.9 1023.5,1371.3 1023.8,1369.3 1024.1,1372.2 1024.4,1373 1024.7,1373.6 1025,1374.4 1025.3,1372.2 1025.6,1374.7 1025.9,1374.8 1026.2,1376.3 1026.5,1376 1026.8,1377.8 1027.1,1376.2 1027.4,1381 1027.7,1379.4 1028,1380.8 1028.3,1382.1 1028.6,1382.4 1028.9,1382.5 1029.2,1383 1029.5,1385.4 1029.8,1383.6 1030.1,1383.7 1030.4,1385.2 1030.7,1385 1031,1387.8 1031.3,1387.4 1031.6,1387.3 1031.9,1387.2 1032.2,1386 1032.5,1389.3 1032.8,1390.1 1033.1,1392.4 1033.4,1387.3 1033.7,1391.1 1034,1391.3 1034.3,1393.7 1034.6,1389.2 1034.9,1396.7 1035.2,1394.5 1035.5,1396.8 1035.8,1397.7 1036.1,1394.6 1036.4,1395.9 1036.7,1399.7 1036.9,1398.8 1037.2,1401.1 1037.5,1397.1 1037.8,1402.2 1038.1,1402.7 1038.4,1399.3 1038.7,1400.3 1039,1402.1 1039.3,1400.4 1039.6,1402.8 1039.9,1402.5 1040.2,1405 1040.5,1405.7 1040.8,1406.7 1041.1,1408.6 1041.4,1407.7 1041.7,1407.1 1042,1411.6 1042.3,1407.6 1042.6,1411.6 1042.9,1408 1043.2,1411.6 1043.5,1409.4 1043.8,1411.1 1044.1,1409.4 1044.4,1413.8 1044.7,1415 1045,1414.4 1045.3,1411.4 1045.6,1416.2 1045.9,1413.6 1046.2,1414.7 1046.5,1412 1046.8,1413.7 1047.1,1422.1 1047.4,1421.2 1047.7,1418 1048,1418.6 1048.3,1421.4 1048.6,1416.9 1048.9,1429 1049.2,1419.3 1049.5,1421.1 1049.8,1424.4 1050.1,1421.9 1050.4,1429 1050.7,1430.1 1051,1423.6 1051.3,1425.9 1051.6,1432.2 1051.9,1426.6 1052.2,1428.5 1052.5,1436.3 1052.8,1426 1053.1,1425 1053.4,1421.1 1053.7,1431.6 1054,1430.1 1054.3,1430 1054.6,1430.8 1054.9,1432.9 1055.2,1432.5 1055.4,1429.4 1055.7,1442.9 1056,1431.2 1056.3,1430.8 1056.6,1437.1 1056.9,1447.6 1057.2,1436.4 1057.5,1432 1057.8,1433 1058.1,1440.3 1058.4,1441.8 1058.7,1440.8 1059,1440.5 1059.3,1435.5 1059.6,1435.7 1059.9,1446.2 1060.2,1431.3 1060.5,1441.4 1060.8,1431.2 1061.1,1438.2 1061.4,1445.4 1061.7,1457.1 1062,1443.3 1062.3,1440.3 1062.6,1440.7 1062.9,1457 1063.2,1444.4 1063.5,1441.2 1063.8,1440.9 1064.1,1452.9 1064.4,1451.7 1064.7,1442.3 1065,1442.8 1065.3,1450.9 1065.6,1444.6 1065.9,1446.8 1066.2,1452 1066.5,1449.9 1066.8,1440.4 1067.1,1463.8 1067.4,1448.1 1067.7,1452.7 1068,1456.8 1068.3,1452.2 1068.6,1444.4 1068.9,1459.6 1069.2,1455.6 1069.5,1460 1069.8,1466.6 1070.1,1466.1 1070.4,1464.2 1070.7,1445.9 1071,1456.4 1071.3,1446 1071.6,1448.6 1071.9,1449.2 1072.2,1461.4 1072.5,1464.1 1072.8,1453.7 1073.1,1455.8 1073.4,1454.1 1073.7,1457.7 1074,1479.8 1074.2,1470.4 1074.5,1462.6 1074.8,1465.7 1075.1,1460.2 1075.4,1466.7 1075.7,1474.8 1076,1453 1076.3,1458.5 1076.6,1469.1 1076.9,1475.7 1077.2,1468.4 1077.5,1474.9 1077.8,1467.6 1078.1,1459.6 1078.4,1449.9 1078.7,1458.9 1079,1473.1 1079.3,1481.1 1079.6,1461.5 1079.9,1483.6 1080.2,1471.7 1080.5,1476.8 1080.8,1476.5 1081.1,1476.1 1081.4,1470.5 1081.7,1481.7 1082,1484.9 1082.3,1484.7 1082.6,1488.2 1082.9,1484.1 1083.2,1480.4 1083.5,1461.6 1083.8,1476.6 1084.1,1479.6 1084.4,1476.1 1084.7,1490.6 1085,1514 1085.3,1485.9 1085.6,1485.8 1085.9,1482 1086.2,1475.3 1086.5,1494.9 1086.8,1482.1 1087.1,1486 1087.4,1486 1087.7,1464.7 1088,1475.5 1088.3,1490.4 1088.6,1464.8 1088.9,1514 1089.2,1482.4 1089.5,1495.2 1089.8,1467.4 1090.1,1482.5 1090.4,1506.9 1090.7,1500.7 1091,1486.4 1091.3,1500.8 1091.6,1486.5 1091.9,1465.2 1092.2,1476 1092.5,1500.9 1092.7,1476.1 1093,1507.2 1093.3,1514.5 1093.6,1495.7 1093.9,1491 1094.2,1486.8 1094.5,1483 1094.8,1514.7 1095.1,1501.2 1095.4,1501.3 1095.7,1507.5 1096,1496 1096.3,1501.4 1096.6,1476.6 1096.9,1507.7 1097.2,1507.7 1097.5,1515.1 1097.8,1491.5 1098.1,1507.8 1098.4,1515.2 1098.7,1480 1099,1483.6 1099.3,1552.1 1099.6,1552.1 1099.9,1501.8 1100.2,1487.5 1100.5,1501.9 1100.8,1491.8 1101.1,1491.9 1101.4,1487.7 1101.7,1515.6 1102,1496.7 1102.3,1487.8 1102.6,1496.8 1102.9,1496.9 1103.2,1502.3 1103.5,1515.8 1103.8,1474.5 1104.1,1508.6 1104.4,1502.4 1104.7,1536.5 1105,1497.2 1105.3,1516.1 1105.6,1516.1 1105.9,1536.7 1106.2,1502.7 1106.5,1509 1106.8,1502.8 1107.1,1509.1 1107.4,1525.4 1107.7,1509.2 1108,1525.5 1108.3,1509.3 1108.6,1537.2 1108.9,1509.5 1109.2,1525.8 1109.5,1498.1 1109.8,1526.1 1110.1,1503.8 1110.4,1582.1 1110.7,1526.7 1111,1502.7 1111.3,1521.1 1111.5,1498.7 1111.8,1555.3 1112.1,1556.3 1112.4,1643.5 1112.7,1585.5 1113,1510 1113.3,1520.3 1113.6,1526.9 1113.9,1643.5 1114.2,1546 1114.5,1585.5 1114.8,1518.2 1115.1,1581.3 1115.4,1541.1 1115.7,1561.5 1116,1586.3 1116.3,1586.9 1116.6,1560.7 1116.9,1592.6 1117.2,1586.6 1117.5,1534.8 1117.8,1583.4 1118.1,1561.2 1118.4,1540.3 1118.7,1530.2 1119,1563 1119.3,1545 1119.6,1509.8 1119.9,1581.7 1120.2,1529.8 1120.5,1553.9 1120.8,1517.7 1121.1,1589.8 1121.4,1516.7 1121.7,1544.8 1122,1585.5 1122.3,1533.7 1122.6,1557.9 1122.9,1562.5 1123.2,1592.5 1123.5,1522.4 1123.8,1585.5 1124.1,1643.5 1124.4,1560.7 1124.7,1547.1 1125,1592.7 1125.3,1535.1 1125.6,1541.9 1125.9,1519 1126.2,1516.4 1126.5,1510.1 1126.8,1497.3 1127.1,1538.3 1127.4,1523.1 1127.7,1517.4 1128,1588.5 1128.3,1546.8 1128.6,1541.9 1128.9,1561 1129.2,1530.3 1129.5,1586.3 1129.8,1537.4 1130,1525.7 1130.3,1527.3 1130.6,1524.2 1130.9,1581.2 1131.2,1529.6 1131.5,1529.5 1131.8,1513.1 1132.1,1538.6 1132.4,1582.1 1132.7,1561.7 1133,1542.9 1133.3,1555.6 1133.6,1583.4 1133.9,1530.9 1134.2,1518 1134.5,1564.7 1134.8,1519.2 1135.1,1542.1 1135.4,1564.8 1135.7,1520.3 1136,1530.8 1136.3,1530 1136.6,1523.4 1136.9,1546 1137.2,1533 1137.5,1539.7 1137.8,1544.6 1138.1,1643.5 1138.4,1545.8 1138.7,1530.3 1139,1547.8 1139.3,1527.9 1139.6,1527.1 1139.9,1536.3 1140.2,1544.3 1140.5,1533.8 1140.8,1590.5 1141.1,1544.6 1141.4,1539 1141.7,1528.9 1142,1519.7 1142.3,1563.7 1142.6,1563.1 1142.9,1583.1 1143.2,1531.6 1143.5,1544.9 1143.8,1507.7 1144.1,1558.1 1144.4,1563.8 1144.7,1539.3 1145,1526.5 1145.3,1591.9 1145.6,1563.9 1145.9,1582.6 1146.2,1531.7 1146.5,1559.1 1146.8,1514.3 1147.1,1556.5 1147.4,1548.7 1147.7,1529.9 1148,1538 1148.3,1544.6 1148.6,1519.4 1148.8,1528 1149.1,1540.4 1149.4,1562.9 1149.7,1541.8 1150,1585.7 1150.3,1560.2 1150.6,1556.6 1150.9,1557.3 1151.2,1541.4 1151.5,1643.5 1151.8,1585.5 1152.1,1538.8 1152.4,1586.1 1153,1585.5 1153.3,1555 1153.6,1643.5 1153.9,1582.9 1154.2,1546.3 1154.5,1510.6 1154.8,1538.8 1155.1,1562.9 1155.4,1559 1155.7,1539.6 1156,1521.5 1156.3,1524.1 1156.6,1564.6 1156.9,1643.5 1157.2,1564.6 1157.5,1562 1157.8,1565.6 1158.1,1557.1 1158.4,1528.4 1158.7,1544 1159,1543.4 1159.3,1526 1159.6,1530.3 1159.9,1557.3 1160.2,1582.7 1160.5,1585.5 1160.8,1588.9 1161.1,1528.8 1161.4,1593.4 1161.7,1547.1 1162,1558 1162.3,1510 1162.6,1525.6 1162.9,1546.1 1163.2,1531.9 1163.5,1536.7 1163.8,1532.7 1164.1,1542.5 1164.4,1586.1 1164.7,1519.2 1165,1533 1165.3,1542.2 1165.6,1588.5 1165.9,1542 1166.2,1592.6 1166.5,1521.6 1166.8,1643.5 1167.1,1524.5 1167.3,1527.5 1167.6,1556.5 1167.9,1643.5 1168.2,1520 1168.5,1563.7 1168.8,1544 1169.1,1530.5 1169.4,1526.2 1169.7,1524.9 1170,1522.4 1170.3,1544.3 1170.6,1546.4 1170.9,1547.9 1171.2,1539.1 1171.5,1586 1171.8,1585.5 1172.1,1535 1172.4,1558 1172.7,1558.2 1173,1518.4 1173.3,1585.5 1173.6,1560.4 1173.9,1550 1174.2,1535.7 1174.5,1559.4 1174.8,1539.3 1175.1,1589.7 1175.4,1541.5 1175.7,1532.6 1176,1643.5 1176.3,1534.5 1176.6,1592 1176.9,1544.3 1177.2,1565.6 1177.5,1544.5 1177.8,1535.4 1178.1,1536.5 1178.4,1546 1178.7,1539.9 1179,1528.7 1179.3,1589.8 1179.6,1538.6 1179.9,1595.3 1180.2,1565.8 1180.5,1514.1 1180.8,1588.6 1181.1,1547.8 1181.4,1551 1181.7,1558 1182,1558 1182.3,1526.5 1182.6,1559.4 1182.9,1531.8 1183.2,1560.2 1183.5,1547 1183.8,1559.5 1184.1,1545 1184.4,1587 1184.7,1560.7 1185,1562.6 1185.3,1549.3 1185.6,1588.1 1185.9,1538.6 1186.1,1557.9 1186.4,1590.8 1186.7,1567.8 1187,1587.9 1187.3,1564.6 1187.6,1556.9 1187.9,1556.2 1188.2,1521.7 1188.5,1562.2 1188.8,1547.6 1189.1,1587.8 1189.4,1521 1189.7,1551.7 1190,1585.5 1190.6,1643.5 1190.9,1565.1 1191.2,1592.7 1191.5,1589.9 1191.8,1520.7 1192.1,1594.2 1192.4,1528.5 1192.7,1540.5 1193,1563 1193.3,1593.6 1193.6,1520.5 1193.9,1643.5 1194.2,1547.2 1194.5,1540.1 1194.8,1561.6 1195.1,1542.8 1195.4,1559.8 1195.7,1565.9 1196,1563.7 1196.3,1524.1 1196.6,1561 1196.9,1537.9 1197.2,1513.8 1197.5,1545.3 1197.8,1566.1 1198.1,1541.5 1198.4,1590.7 1198.7,1560 1199,1530.1 1199.3,1643.5 1199.6,1539.2 1199.9,1591.8 1200.2,1643.5 1200.5,1520.3 1200.8,1552.3 1201.1,1595 1201.4,1539.6 1201.7,1536.4 1202,1532.1 1202.3,1561.1 1202.6,1540.1 1202.9,1521.6 1203.2,1543 1203.5,1536.5 1203.8,1523.7 1204.1,1544.2 1204.4,1568.8 1204.6,1527.5 1204.9,1643.5 1205.2,1590 1205.5,1550.4 1205.8,1544.4 1206.1,1544.7 1206.4,1586.7 1206.7,1643.5 1207,1565.3 1207.3,1643.5 1207.6,1558.4 1207.9,1587 1208.2,1643.5 1208.5,1548.2 1208.8,1544.1 1209.1,1535.2 1209.4,1534.7 1209.7,1643.5 1210,1591.8 1210.3,1564.4 1210.6,1643.5 1210.9,1588.6 1211.2,1549 1211.5,1595.6 1211.8,1537.4 1212.1,1643.5 1212.4,1566.1 1212.7,1594.7 1213.6,1591.7 1213.9,1535.6 1214.2,1596.6 1214.5,1530.9 1214.8,1591.1 1215.1,1532.9 1215.4,1532.1 1215.7,1595.3 1216,1643.5 1216.3,1551.2 1216.6,1564.3 1216.9,1569.4 1217.2,1567.5 1217.5,1568.4 1217.8,1567.5 1218.1,1553.7 1218.4,1536 1218.7,1512.7 1219,1589 1219.3,1586.6 1219.6,1570.5 1219.9,1515.4 1220.2,1553.3 1220.5,1564.3 1220.8,1547.8 1221.1,1532 1221.4,1643.5 1221.7,1565.9 1222,1588.5 1222.3,1567.9 1222.6,1643.5 1222.9,1591.3 1223.2,1561.4 1223.4,1563 1223.7,1540.7 1224,1595.6 1224.3,1570.2 1224.6,1567.4 1224.9,1561.4 1225.2,1562.5 1225.5,1567.3 1225.8,1548.1 1226.1,1554 1226.4,1537.7 1226.7,1540.8 1227,1589.4 1227.3,1536.6 1227.6,1567 1227.9,1564.8 1228.2,1643.5 1229.1,1595.4 1229.4,1534.4 1229.7,1588.3 1230,1544.7 1230.3,1569 1230.6,1598.2 1230.9,1553.3 1231.2,1643.5 1231.5,1543.2 1231.8,1591.7 1232.1,1546.1 1232.4,1546.4 1232.7,1643.5 1233,1518.1 1233.3,1543.9 1233.6,1549.9 1233.9,1564.2 1234.2,1538.4 1234.5,1563.5 1234.8,1549.9 1235.1,1546.9 1235.4,1546.1 1235.7,1593.8 1236,1643.5 1236.3,1516.7 1236.6,1595.2 1236.9,1569.1 1237.2,1550.3 1237.5,1556.1 1237.8,1550.4 1238.1,1598.8 1238.4,1549.9 1238.7,1569.4 1239,1595.3 1239.3,1591.9 1239.6,1561.9 1239.9,1561.4 1240.2,1554.9 1240.5,1554.5 1240.8,1599.8 1241.1,1553.2 1241.4,1589.3 1241.7,1593.8 1241.9,1572.9 1242.2,1643.5 1242.5,1534.2 1242.8,1597.7 1243.1,1549 1243.4,1536.4 1243.7,1536 1244,1541.3 1244.3,1570.6 1244.6,1568 1244.9,1542 1245.2,1589.3 1245.5,1600.6 1245.8,1557.1 1246.1,1596.3 1246.4,1537.9 1246.7,1594.8 1247.3,1595.9 1247.6,1547.1 1247.9,1541.6 1248.2,1643.5 1248.5,1540.1 1248.8,1536.8 1249.1,1528.9 1249.4,1572.5 1249.7,1591.6 1250,1562.1 1250.3,1533.4 1250.6,1643.5 1250.9,1553.6 1251.2,1566.9 1251.5,1537.3 1251.8,1589.9 1252.1,1543.9 1252.4,1517.6 1252.7,1556.4 1253,1593.1 1253.6,1643.5 1253.9,1552 1254.2,1597 1254.5,1566 1254.8,1538.2 1255.1,1535.8 1255.4,1555.7 1255.7,1592.3 1256,1552 1256.3,1598.2 1256.6,1537.1 1256.9,1554.8 1257.2,1567.3 1257.5,1594.2 1258.1,1594.6 1258.4,1570.8 1258.7,1543 1259,1643.5 1259.3,1597.3 1259.6,1551.2 1259.9,1557.5 1260.2,1568.3 1260.5,1556.3 1260.7,1599.2 1261,1571.4 1261.3,1592 1261.6,1536.3 1261.9,1533.3 1262.2,1545.6 1262.5,1551.1 1262.8,1600.7 1264,1595.5 1264.3,1538.3 1264.6,1556.8 1264.9,1600.7 1265.2,1532.5 1265.5,1551.1 1265.8,1549.1 1266.1,1564.3 1266.4,1600.7 1266.7,1567.3 1267,1643.5 1267.6,1643.5 1267.9,1553.6 1268.2,1643.5 1268.5,1548.1 1268.8,1595.9 1269.1,1527.2 1269.4,1565.4 1269.7,1557.9 1270,1540.2 1270.3,1534 1270.6,1538.1 1270.9,1594.8 1271.2,1566.1 1271.5,1553.4 1271.8,1572.9 1272.1,1603.4 1272.7,1643.5 1273,1570.8 1273.3,1544.1 1273.6,1603.4 1273.9,1569.7 1274.2,1599.3 1274.5,1556.1 1274.8,1595.8 1275.1,1566.1 1275.4,1567.3 1275.7,1601.5 1276,1538.7 1276.3,1573.9 1276.6,1643.5 1276.9,1573.1 1277.2,1569.4 1277.5,1551.9 1277.8,1576.6 1278.1,1573.6 1278.4,1597 1278.7,1593.7 1279,1553.8 1279.2,1573 1279.5,1538.8 1279.8,1601.4 1280.1,1554.4 1280.4,1545 1280.7,1546.5 1281,1600.5 1281.3,1643.5 1281.6,1530.9 1281.9,1529.9 1282.2,1566.7 1282.5,1643.5 1282.8,1600.8 1283.1,1568.1 1283.4,1604.2 1283.7,1549.6 1284,1556.5 1284.3,1554.9 1284.6,1600.9 1284.9,1569.2 1285.2,1600.4 1285.8,1602.4 1286.1,1555.8 1286.4,1600.8 1286.7,1575.8 1287,1643.5 1287.3,1598.5 1287.6,1568.3 1287.9,1643.5 1288.2,1554.8 1288.5,1557.1 1288.8,1598.3 1289.1,1573.5 1289.4,1550.3 1289.7,1596.4 1290,1569.2 1290.3,1573.9 1290.6,1643.5 1290.9,1603.7 1291.2,1550.8 1291.5,1643.5 1291.8,1533.7 1292.1,1537.8 1292.4,1643.5 1292.7,1597.8 1293,1576.5 1293.3,1602.6 1293.6,1559.6 1293.9,1643.5 1294.2,1555.3 1294.5,1562.9 1294.8,1568.3 1295.1,1571.1 1295.4,1604.4 1295.7,1600.8 1296,1574.6 1296.3,1534.3 1296.6,1643.5 1296.9,1600.7 1297.2,1579.6 1297.5,1567.8 1297.8,1575.4 1298,1574.9 1298.3,1553.9 1298.6,1578.5 1298.9,1643.5 1299.2,1568.4 1299.5,1607 1299.8,1576.9 1300.1,1643.5 1300.4,1544.7 1300.7,1597.9 1301,1541.6 1301.3,1542.9 1301.6,1568.5 1301.9,1563.3 1302.2,1606 1302.5,1599.8 1302.8,1554.5 1303.1,1571.7 1303.4,1600.5 1303.7,1597.3 1304,1580.1 1304.3,1603.8 1304.6,1575.7 1304.9,1553.8 1305.2,1602.2 1305.8,1598.9 1306.1,1569.5 1306.4,1573.9 1306.7,1600.3 1307,1598.2 1307.3,1570.2 1307.6,1554.8 1307.9,1563 1308.2,1570.2 1308.5,1574.5 1308.8,1562.7 1309.1,1580.8 1309.4,1538.1 1309.7,1643.5 1310,1534.1 1310.3,1565.4 1310.6,1643.5 1310.9,1574.5 1311.2,1603.7 1311.5,1581.8 1311.8,1600.5 1312.1,1576.6 1312.4,1564.8 1312.7,1643.5 1313,1643.5 1313.3,1580.1 1313.6,1603 1313.9,1574.5 1314.2,1546.5 1314.5,1582.2 1314.8,1563.8 1315.1,1607.4 1315.4,1532.6 1315.7,1606.2 1316,1559 1316.3,1607.8 1316.5,1571.3 1316.8,1643.5 1317.1,1566 1317.4,1643.5 1317.7,1605.9 1318,1576.8 1318.3,1571.8 1318.6,1643.5 1318.9,1643.5 1319.2,1558.6 1319.5,1601.1 1320.1,1609.4 1320.4,1555.1 1320.7,1643.5 1321,1643.5 1321.3,1561.1 1321.6,1600.3 1321.9,1573.7 1322.2,1552.4 1322.5,1643.5 1324.3,1607.3 1324.6,1573 1324.9,1548.9 1325.2,1574.6 1325.5,1611 1325.8,1610.8 1326.1,1580.9 1326.4,1643.5 1327.9,1603.3 1328.2,1556.4 1328.5,1575.4 1328.8,1643.5 1329.7,1643.5 1330,1577.5 1330.3,1643.5 1330.6,1574.7 1330.9,1564.9 1331.2,1606.8 1332.1,1611.3 1332.4,1577.6 1332.7,1604 1333.6,1643.5 1333.9,1582.7 1334.2,1604.1 1334.5,1643.5 1334.8,1573.9 1335.1,1576 1335.3,1643.5 1335.9,1610.4 1336.2,1539.4 1336.5,1643.5 1336.8,1643.5 1337.1,1563.7 1337.4,1604.7 1337.7,1643.5 1338,1556.7 1338.3,1603.2 1338.9,1605.5 1339.2,1575 1339.5,1548.9 1339.8,1555.7 1340.1,1577.6 1340.4,1643.5 1340.7,1533.4 1341,1567.3 1341.3,1610.7 1341.6,1575.5 1341.9,1604.8 1342.2,1582.8 1342.5,1578.6 1342.8,1574.3 1343.1,1610.5 1343.4,1582 1343.7,1574.5 1344,1562.1 1344.3,1643.5 1344.9,1606.8 1345.2,1547.5 1345.5,1643.5 1345.8,1643.5 1346.1,1575.9 1346.4,1551.3 1346.7,1563.5 1347,1643.5 1347.6,1643.5 1347.9,1563.7 1348.2,1602.9 1349.4,1643.5 1349.7,1570.3 1350,1577.2 1350.3,1585.5 1350.6,1580 1350.9,1578.8 1351.2,1570.7 1351.5,1603.1 1351.8,1582 1352.1,1577.7 1352.4,1579.7 1352.7,1576.9 1353,1612.5 1353.3,1543.4 1353.6,1605.2 1354.4,1585.5 1354.7,1578.6 1355,1615.1 1355.6,1643.5 1355.9,1580.5 1356.2,1585.5 1357.1,1603.7 1357.4,1582.8 1357.7,1643.5 1358.9,1606.7 1359.2,1562.8 1359.5,1581.9 1359.8,1586.6 1360.1,1564.2 1360.4,1615.7 1361.6,1615.6 1361.9,1578.9 1362.2,1612.8 1363.1,1643.5 1363.4,1560.2 1363.7,1643.5 1364.6,1585.7 1364.9,1558.6 1365.2,1578.4 1365.5,1643.5 1365.8,1567 1366.1,1562.6 1366.4,1568.9 1366.7,1565.1 1367,1643.5 1367.3,1643.5 1367.6,1578.3 1367.9,1586.2 1368.2,1585.5 1368.5,1558.5 1368.8,1554.6 1369.1,1552.9 1369.4,1607.5 1370.3,1614.4 1370.6,1567.3 1370.9,1643.5 1371.2,1643.5 1371.5,1553 1371.8,1570.2 1372.1,1643.5 1375.6,1643.5 1375.9,1565.5 1376.2,1643.5 1376.8,1610.1 1377.1,1543 1377.4,1611.2 1377.7,1607.9 1378,1563.8 1378.3,1615.2 1378.6,1581.3 1378.9,1568.2 1379.2,1610.1 1381.6,1609.2 1381.9,1549.4 1382.2,1643.5 1384,1611.5 1384.3,1561.2 1384.6,1589.7 1384.9,1586 1385.2,1573.4 1385.5,1612.9 1385.8,1587.2 1386.1,1567.5 1386.4,1585.5 1386.7,1580.7 1387,1610.1 1388.2,1614.2 1388.5,1579.8 1388.8,1619.6 1389.1,1568.1 1389.4,1564 1389.7,1609.2 1390.6,1609.1 1390.9,1583.4 1391.1,1589 1392,1588.5 1392.3,1555.4 1392.6,1610.6 1392.9,1565.5 1393.2,1559.8 1393.5,1617.5 1395,1611.3 1395.3,1573.8 1395.6,1611.5 1396.2,1643.5 1396.5,1570.9 1396.8,1582.7 1397.1,1643.5 1397.7,1610.2 1398,1556.4 1398.3,1573.8 1398.6,1585.5 1398.9,1611.7 1399.2,1564.1 1399.5,1546.9 1399.8,1554 1400.1,1643.5 1402.2,1586.1 1402.5,1574.6 1402.8,1615.3 1403.1,1585.5 1403.4,1555.8 1403.7,1585.5 1404,1555.2 1404.3,1585.5 1404.6,1571.1 1404.9,1643.5 1405.2,1572.2 1405.5,1558 1405.8,1619 1406.1,1544.7 1406.4,1643.5 1406.7,1575.7 1407,1567.2 1407.3,1615.8 1407.6,1569 1407.9,1643.5 1408.2,1577 1408.5,1614.4 1410.5,1614.7 1410.8,1567.5 1411.1,1614.1 1411.7,1585.5 1412,1561.1 1412.3,1621.3 1412.6,1585.8 1412.9,1582.4 1413.2,1643.5 1413.5,1585.5 1413.8,1558.7 1414.1,1570.8 1414.4,1614 1415.6,1618.7 1415.9,1566 1416.2,1585.5 1418.9,1585.5 1419.2,1554.9 1419.5,1586 1419.8,1575.6 1420.1,1573.7 1420.4,1573.8 1420.7,1585.7 1421.3,1591.2 1421.6,1569.1 1421.9,1619.7 1423.1,1643.5 1423.4,1575.1 1423.7,1586.5 1424.9,1619 1425.2,1582.2 1425.5,1559.9 1425.8,1590.8 1426.7,1592.5 1427,1553.2 1427.3,1585.8 1427.6,1567.8 1427.9,1592.7 1428.2,1566.5 1428.4,1613 1428.7,1566.9 1429,1643.5 1429.6,1643.5 1429.9,1577.4 1430.2,1617.9 1430.5,1614.8 1430.8,1582.1 1431.1,1559.6 1431.4,1567.1 1431.7,1643.5 1432,1590.4 1432.3,1564.8 1432.6,1643.5 1432.9,1585.5 1433.2,1576.5 1433.5,1611 1433.8,1565.8 1434.1,1612.5 1434.4,1552 1434.7,1592.3 1435,1589.6 1435.3,1554.9 1435.6,1618.7 1438.6,1616.5 1438.9,1573.1 1439.2,1619.8 1441.3,1643.5 1441.6,1559.9 1441.9,1615 1442.2,1643.5 1442.5,1576.7 1442.8,1570.6 1443.1,1589.4 1444.3,1591.2 1444.6,1569.1 1444.9,1643.5 1445.2,1574.8 1445.5,1588.6 1447,1586.2 1447.2,1554.3 1447.5,1643.5 1447.8,1574.8 1448.1,1566.1 1448.4,1586.1 1449.3,1590.1 1449.6,1583.3 1449.9,1643.5 1452.3,1643.5 1452.6,1559.1 1452.9,1610.1 1453.2,1591.9 1453.5,1555.9 1453.8,1571.5 1454.1,1643.5 1454.4,1567.8 1454.7,1548.7 1455,1566.7 1455.3,1572 1455.6,1570.1 1455.9,1643.5 1458.6,1643.5 1458.9,1557.7 1459.2,1611.8 1459.5,1621.4 1459.8,1569.2 1460.1,1566.4 1460.4,1643.5 1461.9,1591.8 1462.2,1577.3 1462.5,1616 1464,1618.9 1464.3,1582.8 1464.6,1567.3 1464.9,1591.1 1466.6,1614.5 1466.9,1575.4 1467.2,1643.5 1468.7,1613.3 1469,1572.2 1469.3,1582 1469.6,1585.7 1469.9,1555.4 1470.2,1643.5 1473.2,1590.5 1473.5,1573.9 1473.8,1586.8 1474.1,1569.6 1474.4,1593.1 1474.7,1571.7 1475,1550 1475.3,1554.4 1475.6,1612.8 1475.9,1567.6 1476.2,1616.8 1477.4,1585.5 1477.7,1575.5 1478,1643.5 1481,1615.9 1481.3,1569.6 1481.6,1568.8 1481.9,1643.5 1484.3,1610.7 1484.5,1572 1484.8,1558.7 1485.1,1612.8 1487.8,1585.5 1488.1,1566.1 1488.4,1643.5 1488.7,1568.6 1489,1643.5 1489.6,1643.5 1489.9,1549.7 1490.2,1619.8 1490.5,1582.9 1490.8,1545 1491.1,1569.1 1491.4,1589.3 1491.7,1565.8 1492,1611.5 1492.3,1566.6 1492.6,1587.3 1492.9,1567.5 1493.2,1620.5 1494.1,1643.5 1494.4,1575.9 1494.7,1643.5 1495.6,1620.7 1495.9,1573.2 1496.2,1587.2 1497.4,1643.5 1497.7,1581.7 1498,1591.3 1498.9,1610.7 1499.2,1583.1 1499.5,1614.6 1500.7,1611.8 1501,1565.8 1501.3,1585.5 1502.2,1610.8 1502.5,1563.7 1502.8,1610.9 1503.6,1612.9 1503.9,1567.6 1504.2,1643.5 1504.5,1551.2 1504.8,1586.4 1505.1,1643.5 1505.4,1574 1505.7,1575.2 1506,1585.5 1506.3,1643.5 1506.6,1582.1 1506.9,1590.7 1509,1643.5 1509.3,1571.3 1509.6,1613.6 1512.6,1587.4 1512.9,1582.8 1513.2,1546.1 1513.5,1583.5 1513.8,1614.3 1514.7,1643.5 1515,1573.9 1515.3,1556 1515.6,1592.9 1515.9,1573.7 1516.2,1590.3 1518,1615.7 1518.3,1547.7 1518.6,1556.9 1518.9,1610.3 1519.2,1610.1 1519.5,1572.7 1519.8,1613.6 1520.1,1643.5 1520.4,1576.8 1520.7,1615.9 1522.1,1609.7 1522.4,1572.5 1522.7,1592.5 1523.9,1614 1524.2,1573.6 1524.5,1558.7 1524.8,1592.1 1525.1,1583.3 1525.4,1610.9 1525.7,1643.5 1526,1546 1526.3,1643.5 1526.6,1570.9 1526.9,1585.5 1527.5,1615.8 1527.8,1583.1 1528.1,1643.5 1528.4,1586.3 1528.7,1570.5 1529,1592.7 1530.5,1585.5 1530.8,1566.6 1531.1,1585.5 1535.3,1611.3 1535.6,1573.1 1535.9,1616 1536.2,1576.7 1536.5,1619.8 1536.8,1572.6 1537.1,1643.5 1539.8,1591.3 1540.1,1557.8 1540.3,1587.8 1540.6,1582 1540.9,1616.6 1544.5,1643.5 1544.8,1581.9 1545.1,1643.5 1546,1615 1546.3,1557 1546.6,1582.9 1546.9,1611.5 1547.5,1620.1 1547.8,1569.3 1548.1,1612.1 1548.4,1558.6 1548.7,1615.9 1549.6,1609.7 1549.9,1582.3 1550.2,1612.6 1551.7,1613.8 1552,1568.7 1552.3,1643.5 1554.4,1585.5 1554.7,1554.3 1555,1609.7 1555.6,1617.2 1555.9,1577.5 1556.2,1618 1559.4,1610.9 1559.7,1573.7 1560,1575.8 1560.3,1611.8 1564.5,1611.8 1564.8,1561.6 1565.1,1570.7 1565.4,1615 1565.7,1575.3 1566,1614.6 1569,1643.5 1569.3,1576.4 1569.6,1591.3 1570.5,1616.2 1570.8,1567.6 1571.1,1571.3 1571.4,1571.4 1571.7,1611.9 1572,1617.5 1572.3,1575.5 1572.6,1585.8 1572.9,1569.2 1573.2,1620.8 1573.5,1568.3 1573.8,1585.5 1574.1,1643.5 1574.4,1581.9 1574.7,1587.8 1577.4,1585.5 1577.6,1556.2 1577.9,1612.4 1578.5,1585.5 1578.8,1566.1 1579.1,1555.7 1579.4,1554.9 1579.7,1585.5 1580,1553.8 1580.3,1643.5 1580.9,1616.5 1581.2,1566.9 1581.5,1616.1 1585.4,1616.5 1585.7,1582.6 1586,1582.6 1586.3,1643.5 1587.8,1593.4 1588.1,1572.9 1588.4,1575.8 1588.7,1643.5 1590.2,1643.5 1590.5,1583.3 1590.8,1585.5 1591.1,1583.1 1591.4,1643.5 1591.7,1588.5 1592,1565.2 1592.3,1614.8 1592.6,1566.2 1592.9,1643.5 1593.2,1610.5 1593.5,1572.4 1593.8,1610.1 1598.8,1643.5 1599.1,1565.4 1599.4,1585.5 1600.3,1588.7 1600.6,1571.1 1600.9,1619.4 1602.1,1593.7 1602.4,1567.3 1602.7,1589.9 1604.5,1614 1604.8,1571.5 1605.1,1589.3 1607.2,1643.5 1607.5,1554.8 1607.8,1556.9 1608.1,1585.5 1608.4,1572.9 1608.7,1585.5 1609.9,1643.5 1610.2,1581.7 1610.5,1588.2 1613.5,1643.5 1613.8,1555.5 1614.1,1612.1 1614.4,1564.5 1614.7,1643.5 1615.2,1643.5 1615.5,1563.4 1615.8,1615.4 1616.1,1643.5 1616.4,1569 1616.7,1551.5 1617,1586.2 1617.3,1572.3 1617.6,1614.7 1618.5,1610.7 1618.8,1549.9 1619.1,1620.2 1619.4,1572 1619.7,1643.5 1620,1571.9 1620.3,1619.4 1622.7,1610.5 1623,1582.5 1623.3,1618.6 1624.2,1617.1 1624.5,1582.1 1624.8,1643.5 1625.7,1621.2 1626,1583.5 1626.3,1592.5 1629,1643.5 1629.3,1545.3 1629.6,1643.5 1629.9,1571.3 1630.2,1573.9 1630.5,1549.3 1630.8,1611.6 1632.3,1585.5 1632.6,1557.6 1632.9,1613.8 1634,1616.7 1634.3,1566.9 1634.6,1643.5 1634.9,1591 1635.2,1554 1635.5,1618.1 1635.8,1563.5 1636.1,1583.4 1636.4,1592.5 1636.7,1643.5 1637,1581.7 1637.3,1582.2 1637.6,1616.2 1637.9,1588.5 1638.2,1555.8 1638.5,1616.3 1638.8,1569.3 1639.1,1565.8 1639.4,1643.5 1640.6,1643.5 1640.9,1569.6 1641.2,1609.6 1641.5,1643.5 1641.8,1565.1 1642.1,1611.6 1643.6,1643.5 1643.9,1571.5 1644.2,1587.1 1647.8,1610.6 1648.1,1567.2 1648.4,1570.1 1648.7,1558.1 1649,1582.7 1649.3,1612.6 1650.5,1612.5 1650.8,1565.5 1651.1,1593.6 1652,1643.5 1652.2,1581.9 1652.5,1643.5 1655.2,1618.8 1655.5,1566.5 1655.8,1643.5 1657,1643.5 1657.3,1563.6 1657.6,1618 1657.9,1555 1658.2,1643.5 1658.5,1545.4 1658.8,1586 1661.8,1590.9 1662.1,1567.3 1662.4,1643.5 1662.7,1586.3 1663,1582.7 1663.3,1540.9 1663.6,1610.1 1663.9,1550.8 1664.2,1611.3 1664.8,1643.5 1665.1,1583.1 1665.4,1585.6 1665.7,1587.9 1666,1583.4 1666.3,1610.3 1666.6,1557.5 1666.9,1612.8 1667.5,1643.5 1667.8,1562.4 1668.1,1619 1669,1618.9 1669.3,1557.4 1669.6,1586.1 1670.8,1615.8 1671,1568.1 1671.3,1643.5 1672.5,1587.9 1672.8,1558.4 1673.1,1587.9 1674,1585.5"/>
<polyline fill="none" stroke="#ff0000" stroke-width="4" stroke-linejoin="bevel" points="929.8,1643.5 939.7,1643.5 940,1572.9 940.3,1551 940.6,1591.3 940.9,1530.1 941.2,1519.9 941.5,1490 941.8,1491.5 942.1,1489.7 942.4,1472.1 942.7,1469.1 943,1453.3 943.3,1442.2 943.5,1433.5 943.8,1421.6 944.1,1407.2 944.4,1396.7 944.7,1386.2 945,1377.6 945.3,1362.2 945.6,1336.8 945.9,1283.1 946.2,1230.3 946.5,1210.2 946.8,1202.1 947.1,1195.1 947.4,1189.7 947.7,1185.6 948,1183 948.3,1181.8 948.6,1181.6 948.9,1183.3 949.2,1186.5 949.5,1190.4 949.8,1195 950.1,1199.5 950.4,1203.3 950.7,1206.9 951,1209.4 951.3,1210.9 951.6,1212.7 951.9,1214.3 952.2,1215.6 952.5,1217.5 952.8,1218.4 953.1,1219.7 953.4,1221 953.7,1222.1 954,1223.2 954.3,1223.8 954.6,1225.2 954.9,1226.3 955.2,1227.1 955.5,1228.3 955.8,1229.4 956.1,1230.7 956.4,1231.7 956.7,1232.6 957,1233.6 957.3,1234.5 957.6,1235.7 957.9,1236.1 958.2,1237.3 958.5,1238.4 958.8,1239.2 959.1,1239.9 959.4,1240.9 959.7,1241.9 960,1242.9 960.3,1243.3 960.6,1244.1 960.9,1244.9 961.2,1245.6 961.5,1247 961.8,1247.3 962.1,1248.6 962.3,1249.1 962.6,1250.1 962.9,1251.3 963.2,1251.5 963.5,1252.2 963.8,1253.6 964.1,1253.7 964.4,1254.3 964.7,1255.9 965,1256.3 965.3,1256.9 965.6,1257.7 965.9,1257.9 966.2,1259.1 966.5,1259.8 966.8,1260.8 967.1,1261.7 967.4,1262.6 967.7,1262.8 968,1263.6 968.3,1264 968.6,1264.3 968.9,1265.5 969.2,1266.3 969.5,1267.5 969.8,1268 970.1,1268.6 970.4,1269.7 970.7,1269.6 971,1270.5 971.3,1270.9 971.6,1271.7 971.9,1272.2 972.2,1273.4 972.5,1274.5 972.8,1274.6 973.1,1275.1 973.4,1274.8 973.7,1276.3 974,1277.1 974.3,1277.8 974.6,1277.9 974.9,1278.4 975.2,1278.3 975.5,1279.6 975.8,1280.2 976.1,1280.4 976.4,1281.5 976.7,1282.1 977,1282.1 977.3,1283.1 977.6,1283 977.9,1284.2 978.2,1284.5 978.5,1285.6 978.8,1286 979.1,1286.5 979.4,1287.3 979.7,1287.5 980,1287.6 980.3,1288.8 980.6,1289.3 980.8,1289.4 981.1,1290.6 981.4,1290.9 981.7,1291.2 982,1291.9 982.3,1292.2 982.6,1292.6 982.9,1293.7 983.2,1293.7 983.5,1294.5 983.8,1294.9 984.1,1294.7 984.4,1296.5 984.7,1296.9 985,1296.9 985.3,1295.9 985.6,1297.3 985.9,1297.4 986.2,1297.5 986.5,1298.3 986.8,1299.7 987.1,1299.8 987.4,1300.5 987.7,1300.7 988,1301.1 988.3,1301.6 988.6,1302 988.9,1301.3 989.2,1302.6 989.5,1303.2 989.8,1302.6 990.1,1303.9 990.4,1304 990.7,1304.9 991,1306.1 991.3,1305.1 991.6,1306.2 991.9,1306.7 992.2,1306.8 992.5,1307.1 992.8,1308.2 993.1,1308 993.4,1308.7 993.7,1308.5 994,1309.3 994.3,1309.2 994.6,1310.2 994.9,1311 995.2,1310.8 995.5,1310.9 995.8,1311.9 996.1,1312.5 996.4,1312.1 996.7,1312.2 997,1313.7 997.3,1314 997.6,1314.7 997.9,1315.2 998.2,1314.5 998.5,1314.9 998.8,1315.6 999.1,1315.7 999.4,1317.2 999.6,1316.7 999.9,1317.3 1000.2,1316.7 1000.5,1319.5 1000.8,1317.9 1001.1,1317.8 1001.4,1318.3 1001.7,1318.6 1002,1320.1 1002.3,1320.5 1002.6,1319.8 1002.9,1319.9 1003.2,1321.1 1003.5,1320.3 1003.8,1321.5 1004.1,1321.9 1004.4,1322.7 1004.7,1323.3 1005,1323.4 1005.3,1322.8 1005.6,1324.3 1005.9,1322.8 1006.2,1324 1006.5,1325.2 1006.8,1325.7 1007.1,1325.4 1007.4,1324.5 1007.7,1325.9 1008,1326 1008.3,1327.4 1008.6,1328.2 1008.9,1328.9 1009.2,1328.8 1009.5,1329.4 1009.8,1330.7 1010.1,1329.2 1010.4,1330.2 1010.7,1330.7 1011,1330.7 1011.3,1332.2 1011.6,1331.8 1011.9,1333.7 1012.2,1333.8 1012.5,1332.9 1012.8,1332.6 1013.1,1334 1013.4,1334.9 1013.7,1336.1 1014,1335.6 1014.3,1336.1 1014.6,1335.8 1014.9,1335.4 1015.2,1336.8 1015.5,1337 1015.8,1336.9 1016.1,1338.8 1016.4,1338.6 1016.7,1338.1 1017,1339.1 1017.3,1340.7 1017.6,1339.8 1017.9,1340.4 1018.1,1340.9 1018.4,1340.8 1018.7,1341.5 1019,1342.4 1019.3,1341.6 1019.6,1342.6 1019.9,1343.7 1020.2,1342.1 1020.5,1343.7 1020.8,1345.6 1021.1,1344.7 1021.4,1345.6 1021.7,1344.3 1022,1345.1 1022.3,1344.9 1022.6,1344.4 1022.9,1346.4 1023.2,1346.8 1023.5,1347.9 1023.8,1347.3 1024.1,1346.6 1024.4,1347.3 1024.7,1349.1 1025,1347.2 1025.3,1350.2 1025.6,1348.2 1025.9,1350.5 1026.2,1351.4 1026.5,1351.1 1026.8,1352.8 1027.1,1351.8 1027.4,1350 1027.7,1351.4 1028,1352.6 1028.3,1353 1028.6,1353.7 1028.9,1353.3 1029.2,1353.2 1029.5,1354.9 1029.8,1355.5 1030.1,1355.2 1030.4,1354.3 1030.7,1355.7 1031,1356.5 1031.3,1357.7 1031.6,1357.5 1031.9,1355.5 1032.2,1357 1032.5,1357.2 1032.8,1356.8 1033.1,1357.8 1033.4,1358.9 1033.7,1356.9 1034,1358.4 1034.3,1359.3 1034.6,1360.2 1034.9,1360.2 1035.2,1357.8 1035.5,1360.7 1035.8,1360 1036.1,1361.8 1036.4,1361.4 1036.7,1361.9 1036.9,1363.6 1037.2,1363.6 1037.5,1361.7 1037.8,1363.9 1038.1,1362.8 1038.4,1363.1 1038.7,1362.5 1039,1364.5 1039.3,1364.1 1039.6,1366.4 1039.9,1366.8 1040.2,1366.1 1040.5,1365.5 1040.8,1367.1 1041.1,1365.4 1041.4,1365.7 1041.7,1366.7 1042,1367.7 1042.3,1366 1042.6,1368.4 1042.9,1369.1 1043.2,1368.8 1043.5,1367.3 1043.8,1367.7 1044.1,1368.5 1044.4,1370.4 1044.7,1369.6 1045,1372.6 1045.3,1372.6 1045.6,1370.8 1045.9,1372.2 1046.2,1374.3 1046.5,1373 1046.8,1372.1 1047.1,1373.1 1047.4,1371.2 1047.7,1372.2 1048,1373.3 1048.3,1371 1048.6,1372.8 1048.9,1375.2 1049.2,1372.5 1049.5,1374.9 1049.8,1377.9 1050.1,1374 1050.4,1372.5 1050.7,1374.5 1051,1376 1051.3,1377.6 1051.6,1375 1051.9,1377 1052.2,1376.5 1052.5,1375.8 1052.8,1377.6 1053.1,1376.1 1053.4,1377.5 1053.7,1378.3 1054,1380.4 1054.3,1377.8 1054.6,1379.1 1054.9,1383.8 1055.2,1381.6 1055.4,1378.9 1055.7,1380.8 1056,1382.9 1056.3,1381.3 1056.6,1378.8 1056.9,1381.2 1057.2,1383.4 1057.5,1384.9 1057.8,1383.1 1058.1,1384.7 1058.4,1383.3 1058.7,1385.2 1059,1387.2 1059.3,1384.8 1059.6,1383 1059.9,1387.9 1060.2,1389.2 1060.5,1388.3 1060.8,1385.3 1061.1,1385.3 1061.4,1387.5 1061.7,1384.7 1062,1385.4 1062.3,1387.3 1062.6,1387.8 1062.9,1387.3 1063.2,1390.9 1063.5,1386.6 1063.8,1389.5 1064.1,1390.1 1064.4,1388.1 1064.7,1391.9 1065,1392.2 1065.3,1387.2 1065.6,1388.8 1065.9,1394.1 1066.2,1392.7 1066.5,1394.2 1066.8,1392.5 1067.1,1392.2 1067.4,1391.6 1067.7,1393.4 1068,1393.2 1068.3,1394.7 1068.6,1393.7 1068.9,1397.1 1069.2,1394.8 1069.5,1395 1069.8,1392.7 1070.1,1400.2 1070.4,1398.4 1070.7,1396.4 1071,1397.8 1071.3,1398 1071.6,1398.5 1071.9,1396.8 1072.2,1399.3 1072.5,1395.3 1072.8,1400.1 1073.1,1400.6 1073.4,1397.9 1073.7,1398.3 1074,1398.6 1074.2,1398.9 1074.5,1402.1 1074.8,1400.5 1075.1,1404.9 1075.4,1399.9 1075.7,1402.6 1076,1403.5 1076.3,1400.6 1076.6,1401 1076.9,1405.3 1077.2,1401.4 1077.5,1402.4 1077.8,1399.8 1078.1,1405.9 1078.4,1404.1 1078.7,1406.8 1079,1406.3 1079.3,1404.5 1079.6,1405.8 1079.9,1406 1080.2,1408.6 1080.5,1409.1 1080.8,1407.9 1081.1,1405.1 1081.4,1405.6 1081.7,1407.3 1082,1408.3 1082.3,1409.6 1082.6,1406.5 1082.9,1406.7 1083.2,1411.9 1083.5,1410 1083.8,1410 1084.1,1412.5 1084.4,1408.9 1084.7,1410.4 1085,1415.3 1085.3,1407.4 1085.6,1411.9 1085.9,1412 1086.2,1413.3 1086.5,1412.5 1086.8,1414.7 1087.1,1410.2 1087.4,1412.9 1087.7,1413.3 1088,1416.3 1088.3,1415.7 1088.6,1412.1 1088.9,1411.6 1089.2,1414.2 1089.5,1418.6 1089.8,1415.9 1090.1,1417.6 1090.4,1414.9 1090.7,1414.8 1091,1418.7 1091.3,1417.7 1091.6,1414.1 1091.9,1417.7 1092.2,1418.3 1092.5,1415.1 1092.7,1418.5 1093,1417.3 1093.3,1414.9 1093.6,1418.1 1093.9,1419 1094.2,1419.7 1094.5,1425.3 1094.8,1419.2 1095.1,1420.4 1095.4,1421.2 1095.7,1419.3 1096,1422.2 1096.3,1427.1 1096.6,1420.9 1096.9,1422.6 1097.2,1419.9 1097.5,1430.5 1097.8,1424 1098.1,1421.2 1098.4,1421 1098.7,1420.2 1099,1427.4 1099.3,1424.6 1099.6,1424.2 1099.9,1423.4 1100.2,1427.9 1100.5,1421.5 1100.8,1422.8 1101.1,1426.8 1101.4,1424.5 1101.7,1422.3 1102,1428.4 1102.3,1425.2 1102.6,1422.7 1102.9,1427.1 1103.2,1424.5 1103.5,1425.9 1103.8,1424 1104.1,1427.9 1104.4,1428.3 1104.7,1427.1 1105,1429.7 1105.3,1424.4 1105.6,1422.1 1105.9,1429.1 1106.2,1425.5 1106.5,1425.6 1106.8,1428.7 1107.1,1426.4 1107.4,1433.3 1107.7,1430.7 1108,1424.7 1108.3,1427.7 1108.6,1427.4 1108.9,1429.1 1109.2,1428.4 1109.5,1431.2 1109.8,1430.6 1110.1,1434.1 1110.4,1426.5 1110.7,1432.6 1111,1433.8 1111.3,1432 1111.5,1430.9 1111.8,1429.8 1112.1,1434.8 1112.4,1431.7 1112.7,1434.8 1113,1428.6 1113.3,1433 1113.6,1429.4 1113.9,1430.2 1114.2,1433.2 1114.5,1434.1 1114.8,1433.5 1115.1,1434.8 1115.4,1433.8 1115.7,1430.2 1116,1434.7 1116.3,1433.7 1116.6,1435.3 1116.9,1437 1117.2,1436.5 1117.5,1434 1117.8,1431 1118.1,1441.8 1118.4,1434.6 1118.7,1429.5 1119,1438.8 1119.3,1437.2 1119.6,1439.3 1119.9,1438.8 1120.2,1435.1 1120.5,1438.2 1120.8,1443.3 1121.1,1436.8 1121.4,1435.1 1121.7,1437.1 1122,1435.2 1122.3,1441.1 1122.6,1444.7 1122.9,1438.2 1123.2,1438.9 1123.5,1437.6 1123.8,1439.3 1124.1,1442.7 1124.4,1436.5 1124.7,1443.6 1125,1446.5 1125.3,1441.7 1125.6,1439.9 1125.9,1442.5 1126.2,1434.5 1126.5,1439.3 1126.8,1441.8 1127.1,1440.6 1127.4,1443.6 1127.7,1438.4 1128,1441 1128.3,1445.8 1128.6,1440.5 1128.9,1450.2 1129.2,1438.5 1129.5,1445.9 1129.8,1449.2 1130,1438.2 1130.3,1446.6 1130.6,1444.2 1130.9,1448.1 1131.2,1444.3 1131.5,1446.2 1131.8,1447.6 1132.1,1443.5 1132.4,1450.2 1132.7,1449.4 1133,1446.5 1133.3,1445.6 1133.6,1449.4 1133.9,1454.6 1134.2,1449.2 1134.5,1450.5 1134.8,1444.6 1135.1,1446.6 1135.4,1446.9 1135.7,1452.2 1136,1445.9 1136.3,1451 1136.6,1447.3 1136.9,1446.5 1137.2,1452.4 1137.5,1454.5 1137.8,1447.4 1138.1,1449.6 1138.4,1452.2 1138.7,1454.7 1139,1458.4 1139.3,1465.9 1139.6,1448 1139.9,1453.7 1140.2,1456.1 1140.5,1452 1140.8,1449.5 1141.1,1446.9 1141.4,1456.1 1141.7,1454.8 1142,1452.5 1142.3,1461.7 1142.6,1461.4 1142.9,1458 1143.2,1450.4 1143.5,1451.6 1143.8,1461.4 1144.1,1464 1144.4,1453.5 1144.7,1461 1145,1455.5 1145.3,1455.9 1145.6,1461.3 1145.9,1457.2 1146.2,1454.9 1146.5,1452.8 1146.8,1456.6 1147.1,1460 1147.4,1455.1 1147.7,1458.7 1148,1467.5 1148.3,1457.4 1148.6,1461.6 1148.8,1458.4 1149.1,1454.9 1149.4,1459.6 1149.7,1456.1 1150,1464.6 1150.3,1461.7 1150.6,1456.9 1150.9,1457.4 1151.2,1465.5 1151.5,1463.6 1151.8,1465.7 1152.1,1458.6 1152.4,1459.8 1152.7,1467.5 1153,1456 1153.3,1463.3 1153.6,1473.5 1153.9,1476.4 1154.2,1464.7 1154.5,1463.6 1154.8,1461.2 1155.1,1465.2 1155.4,1451.6 1155.7,1474.6 1156,1473.5 1156.3,1474.2 1156.6,1477.5 1156.9,1465.6 1157.2,1466.6 1157.5,1464.7 1157.8,1466.7 1158.1,1475.1 1158.4,1480.8 1158.7,1475.9 1159,1464.9 1159.3,1474.9 1159.6,1468.1 1159.9,1468.4 1160.2,1477.7 1160.5,1484.8 1160.8,1477.2 1161.1,1475.4 1161.4,1469.1 1161.7,1464.7 1162,1469.9 1162.3,1470.3 1162.6,1467.5 1162.9,1465.6 1163.2,1471.4 1163.5,1471.3 1163.8,1470.6 1164.1,1469.1 1164.4,1467.5 1164.7,1466.5 1165,1475.6 1165.3,1471.4 1165.6,1469.4 1165.9,1469 1166.2,1475 1166.5,1474.4 1166.8,1472.7 1167.1,1481.5 1167.3,1470.5 1167.6,1482.7 1167.9,1470.3 1168.2,1474.2 1168.5,1472.7 1168.8,1476 1169.1,1479.9 1169.4,1477.7 1169.7,1471.8 1170,1474.7 1170.3,1468.5 1170.6,1479.2 1170.9,1481.9 1171.2,1477.1 1171.5,1466.9 1171.8,1491.5 1172.1,1475.1 1172.4,1468.3 1172.7,1469.1 1173,1469.2 1173.3,1473.5 1173.6,1474.5 1173.9,1482.8 1174.2,1480.4 1174.5,1477.5 1174.8,1473.3 1175.1,1477.7 1175.4,1475.5 1175.7,1481.6 1176,1490.3 1176.3,1479.4 1176.6,1483.2 1176.9,1490.2 1177.2,1486.2 1177.5,1483.2 1177.8,1480.2 1178.1,1485.5 1178.4,1496.7 1178.7,1475.2 1179,1495.7 1179.3,1486.3 1179.6,1492.3 1179.9,1488.1 1180.2,1493.9 1180.5,1476.4 1180.8,1484.6 1181.1,1487.6 1181.4,1492.2 1181.7,1487.9 1182,1487.4 1182.3,1479.2 1182.6,1487.3 1182.9,1479.8 1183.2,1478.8 1183.5,1489.9 1183.8,1514.6 1184.1,1476.9 1184.4,1487 1184.7,1485.7 1185,1504.8 1185.3,1474.7 1185.6,1509.6 1185.9,1497.3 1186.1,1496.9 1186.4,1479.9 1186.7,1493.1 1187,1492.3 1187.3,1502.9 1187.6,1501.9 1187.9,1485.3 1188.2,1501.5 1188.5,1485.9 1188.8,1482.7 1189.1,1499.2 1189.4,1485.1 1189.7,1483.2 1190,1509 1190.3,1493.5 1190.6,1501.5 1190.9,1503.1 1191.2,1518.2 1191.5,1504.1 1191.8,1500 1192.1,1493.4 1192.4,1503.3 1192.7,1493.4 1193,1487.7 1193.3,1488.7 1193.6,1500.6 1193.9,1498.9 1194.2,1501 1194.5,1497 1194.8,1508.3 1195.1,1503.8 1195.4,1517.9 1195.7,1505 1196,1496.7 1196.3,1495.6 1196.6,1499.3 1196.9,1499.8 1197.2,1495.6 1197.5,1542.5 1197.8,1509.3 1198.1,1502.2 1198.4,1489.5 1198.7,1504 1199,1497.1 1199.3,1496.1 1199.6,1494.8 1199.9,1506.4 1200.2,1490.6 1200.5,1502.7 1200.8,1515 1201.1,1504.2 1201.4,1495.2 1201.7,1502.4 1202,1500.5 1202.3,1495.7 1202.6,1509.9 1202.9,1513.5 1203.2,1509.8 1203.5,1507 1203.8,1497.8 1204.1,1491.5 1204.4,1513.8 1204.6,1521.6 1204.9,1504.3 1205.2,1517.5 1205.5,1514.2 1205.8,1516.5 1206.1,1517.6 1206.4,1496.2 1206.7,1502.6 1207,1492.1 1207.3,1502.8 1207.6,1528.3 1207.9,1520.2 1208.2,1510 1208.5,1502.7 1208.8,1501.5 1209.1,1497.7 1209.4,1523 1209.7,1505.1 1210,1497 1210.3,1502.2 1210.6,1513.9 1210.9,1527.6 1211.2,1543.3 1211.5,1499.8 1211.8,1517.6 1212.1,1519.5 1212.4,1507.9 1212.7,1529 1213,1524.6 1213.3,1513 1213.6,1503.5 1213.9,1533 1214.2,1539.5 1214.5,1535.1 1214.8,1507.9 1215.1,1495.6 1215.4,1514.1 1215.7,1509.7 1216,1498.9 1216.3,1535.1 1216.6,1508.7 1216.9,1490.6 1217.2,1503.7 1217.5,1529.9 1217.8,1511.1 1218.1,1512.4 1218.4,1500.7 1218.7,1524.8 1219,1513.1 1219.3,1516.8 1219.6,1558.1 1219.9,1524 1220.2,1513.4 1220.5,1526.6 1220.8,1496.9 1221.1,1521.8 1221.4,1551.2 1221.7,1519 1222,1520.3 1222.3,1555.8 1222.6,1532.4 1222.9,1509.7 1223.2,1521.9 1223.4,1528.2 1223.7,1510.7 1224,1525.4 1224.3,1502.7 1224.6,1529 1224.9,1525.2 1225.2,1529.4 1225.5,1529 1225.8,1513.7 1226.1,1513.6 1226.4,1513.5 1226.7,1494.5 1227,1520.9 1227.3,1513.5 1227.6,1541 1227.9,1510.1 1228.2,1516.4 1228.5,1508.6 1228.8,1494 1229.1,1522.8 1229.4,1619.4 1229.7,1509.9 1230,1533.5 1230.3,1513.9 1230.6,1511.8 1230.9,1551.5 1231.2,1519.5 1231.5,1520.2 1231.8,1589.7 1232.1,1528.8 1232.4,1548.2 1232.7,1504.9 1233,1527 1233.3,1643.5 1233.6,1504.1 1233.9,1551.2 1234.2,1510.6 1234.5,1643.5 1234.8,1508.3 1235.1,1643.5 1235.4,1545.9 1235.7,1528 1236,1507.9 1236.3,1504.8 1236.6,1524 1236.9,1643.5 1237.2,1521.6 1237.5,1581.9 1237.8,1507.9 1238.1,1643.5 1238.4,1500.9 1238.7,1499 1239,1516.7 1239.3,1581 1239.6,1520.1 1239.9,1504 1240.2,1524.5 1240.5,1543.1 1240.8,1612 1241.1,1535.5 1241.4,1546.3 1241.7,1525.7 1241.9,1558.6 1242.2,1566.3 1242.5,1565.5 1242.8,1541.6 1243.1,1508.3 1243.4,1643.5 1243.7,1643.5 1244,1518.3 1244.3,1531.6 1244.6,1544.4 1244.9,1513.3 1245.2,1643.5 1245.5,1529 1245.8,1504.1 1246.1,1643.5 1246.4,1594.7 1246.7,1492.1 1247,1580.1 1247.3,1497.4 1247.6,1537 1247.9,1643.5 1248.2,1582.5 1248.5,1591.3 1248.8,1534.4 1249.1,1577.6 1249.4,1551.3 1249.7,1573.7 1250,1529.7 1250.3,1503.8 1250.6,1509.6 1250.9,1534.8 1251.2,1537.1 1251.5,1577.4 1251.8,1555.4 1252.1,1517.4 1252.4,1643.5 1252.7,1548.8 1253,1535.5 1253.3,1536.6 1253.6,1525.2 1253.9,1643.5 1254.2,1518.3 1254.5,1596.6 1254.8,1510.6 1255.1,1533.6 1255.4,1513.8 1255.7,1508 1256,1492.5 1256.3,1519.1 1256.6,1643.5 1256.9,1542.6 1257.2,1525.2 1257.5,1515.5 1257.8,1568 1258.1,1526.1 1258.4,1643.5 1258.7,1520.1 1259,1585.5 1259.3,1580.1 1259.6,1533.4 1259.9,1528.9 1260.2,1517.2 1260.5,1547.9 1260.7,1562.3 1261,1530.4 1261.3,1540.1 1261.6,1518.7 1261.9,1543.4 1262.2,1513.8 1262.5,1548.9 1262.8,1529.4 1263.1,1535 1263.4,1619.4 1263.7,1547.9 1264,1617.4 1264.3,1571.9 1264.6,1582.6 1264.9,1643.5 1265.2,1549.1 1265.5,1533.9 1265.8,1533.1 1266.1,1520.1 1266.4,1534.5 1266.7,1505.3 1267,1534.8 1267.3,1643.5 1267.6,1558.9 1267.9,1529.1 1268.2,1643.5 1268.5,1573.6 1268.8,1514 1269.1,1534 1269.4,1541 1269.7,1529.4 1270,1541.6 1270.3,1534.9 1270.6,1516.2 1270.9,1535.6 1271.2,1501.2 1271.5,1577.9 1271.8,1536.7 1272.1,1643.5 1272.4,1550.2 1272.7,1554 1273,1626.4 1273.3,1530.7 1273.6,1530.3 1273.9,1557.1 1274.2,1536.6 1274.5,1536.7 1274.8,1548.2 1275.1,1515.3 1275.4,1560.5 1275.7,1528 1276,1514.4 1276.3,1537.2 1276.6,1572.8 1276.9,1526.8 1277.2,1563.2 1277.5,1536.9 1277.8,1643.5 1278.4,1614.2 1278.7,1529.2 1279,1530.5 1279.2,1553.3 1279.5,1538 1279.8,1515.2 1280.1,1525.6 1280.4,1538.9 1280.7,1521.3 1281,1629.5 1281.3,1617.4 1281.6,1535.2 1281.9,1643.5 1282.2,1643.5 1282.5,1523.3 1282.8,1507.2 1283.1,1559.7 1283.4,1643.5 1283.7,1534 1284,1565.8 1284.3,1510.4 1284.6,1511.7 1284.9,1553.3 1285.2,1534 1285.5,1591.2 1285.8,1521.7 1286.1,1506.9 1286.4,1573 1286.7,1556.8 1287,1562 1287.3,1538.9 1287.6,1535.9 1287.9,1537.6 1288.2,1530.8 1288.5,1530.8 1288.8,1556.2 1289.1,1507.6 1289.4,1571.6 1289.7,1529.8 1290,1548.7 1290.3,1530.2 1290.6,1586.5 1290.9,1561.5 1291.2,1550.8 1291.5,1576.4 1291.8,1567.8 1292.1,1589.8 1292.4,1525.1 1292.7,1643.5 1293,1563 1293.3,1538.6 1293.6,1521.4 1293.9,1582.2 1294.2,1531.8 1294.5,1520.1 1294.8,1643.5 1295.4,1643.5 1295.7,1561.9 1296,1553.8 1296.3,1524.9 1296.6,1556.2 1296.9,1643.5 1297.8,1643.5 1298,1523.5 1298.3,1524.8 1298.6,1553.1 1298.9,1535.7 1299.2,1537.4 1299.5,1538.5 1299.8,1643.5 1300.1,1571.5 1300.4,1643.5 1300.7,1606.5 1301,1563.2 1301.3,1643.5 1301.6,1550.4 1301.9,1643.5 1302.2,1530.1 1302.5,1603.9 1302.8,1544.9 1303.1,1505.7 1303.4,1543.5 1303.7,1547.3 1304,1574.9 1304.3,1643.5 1304.9,1643.5 1305.2,1530.9 1305.5,1552.4 1305.8,1596.6 1306.1,1562.2 1306.4,1643.5 1306.7,1553.3 1307,1586.5 1307.3,1562.8 1307.6,1643.5 1307.9,1643.5 1308.2,1537.6 1308.5,1643.5 1308.8,1566.3 1309.1,1643.5 1309.7,1643.5 1310,1545 1310.3,1523.5 1310.6,1561.4 1310.9,1549.9 1311.2,1549.2 1311.5,1643.5 1312.1,1643.5 1312.4,1570.3 1312.7,1545.6 1313,1513.7 1313.3,1555.3 1313.6,1643.5 1313.9,1529 1314.2,1562.3 1314.5,1586.6 1315.1,1585.5 1315.4,1536.1 1315.7,1643.5 1317.1,1643.5 1317.4,1546 1317.7,1528.3 1318,1643.5 1318.3,1643.5 1318.6,1576.4 1318.9,1643.5 1319.2,1573.5 1319.5,1516 1319.8,1643.5 1320.4,1598.7 1320.7,1569.2 1321,1611.1 1321.3,1540.9 1321.6,1528.9 1321.9,1547.4 1322.2,1643.5 1322.8,1609.1 1323.1,1549.7 1323.4,1528.5 1323.7,1643.5 1324,1534.8 1324.3,1542 1324.6,1539.5 1324.9,1534.5 1325.2,1574.9 1325.5,1643.5 1325.8,1534.6 1326.1,1617.5 1326.7,1585.5 1327,1558.2 1327.3,1582 1327.6,1602.4 1327.9,1643.5 1328.2,1557.1 1328.5,1643.5 1328.8,1541.5 1329.1,1585.5 1329.7,1615.8 1330,1527.3 1330.3,1558.8 1330.6,1549.9 1330.9,1609.9 1331.2,1561.8 1331.5,1600.8 1331.8,1643.5 1332.1,1566.8 1332.4,1643.5 1333,1643.5 1333.3,1540.8 1333.6,1643.5 1333.9,1591.5 1334.2,1547.5 1334.5,1535.8 1334.8,1545.3 1335.1,1638 1335.3,1637.8 1335.6,1541.4 1335.9,1585.5 1336.8,1592.9 1337.1,1546.2 1337.4,1567.1 1337.7,1526 1338,1643.5 1338.3,1551.6 1338.6,1532.5 1338.9,1544 1339.2,1643.5 1339.5,1575.1 1339.8,1643.5 1340.4,1643.5 1340.7,1558.8 1341,1643.5 1341.3,1573.8 1341.6,1643.5 1343.1,1643.5 1343.4,1539.1 1343.7,1643.5 1344,1643.5 1344.3,1545.1 1344.6,1598.3 1344.9,1560.6 1345.2,1542.5 1345.5,1576.5 1345.8,1546.5 1346.1,1559.8 1346.4,1643.5 1346.7,1643.5 1347,1564.3 1347.3,1643.5 1347.6,1552 1347.9,1643.5 1349.7,1643.5 1350,1550.1 1350.3,1643.5 1350.6,1643.5 1350.9,1531 1351.2,1588.1 1351.5,1531.3 1351.8,1579.6 1352.1,1598.1 1352.4,1558.2 1352.7,1531.7 1353,1545.7 1353.3,1643.5 1353.6,1605.3 1353.8,1535.7 1354.1,1605 1354.4,1529 1354.7,1643.5 1355,1543.8 1355.3,1643.5 1356.2,1643.5 1356.5,1557.5 1356.8,1643.5 1357.4,1598 1357.7,1565 1358,1643.5 1358.9,1643.5 1359.2,1564.4 1359.5,1545.2 1359.8,1551.4 1360.1,1643.5 1361,1643.5 1361.3,1580 1361.6,1568.8 1361.9,1573.4 1362.2,1594.9 1362.5,1577.8 1362.8,1643.5 1363.1,1585.7 1363.4,1556.1 1363.7,1554.5 1364,1555.2 1364.3,1588.6 1364.6,1561.8 1364.9,1643.5 1365.8,1629.3 1366.1,1553.9 1366.4,1638.2 1366.7,1643.5 1367,1572.3 1367.3,1643.5 1367.6,1614.2 1367.9,1535.8 1368.2,1550.5 1368.5,1643.5 1369.4,1585.5 1369.7,1538.7 1370,1563 1370.3,1565.1 1370.6,1571.4 1370.9,1638.6 1371.2,1553.8 1371.5,1585.7 1371.8,1643.5 1372.1,1569.4 1372.4,1643.5 1372.6,1643.5 1372.9,1550.1 1373.2,1596.2 1373.5,1566.4 1373.8,1643.5 1374.1,1545.8 1374.4,1569.9 1374.7,1555.8 1375,1566.4 1375.3,1643.5 1376.8,1643.5 1377.1,1583.2 1377.4,1614.7 1377.7,1559 1378,1575.4 1378.3,1643.5 1378.9,1590.9 1379.2,1547.2 1379.5,1569.4 1379.8,1643.5 1380.1,1572.6 1380.4,1643.5 1381.3,1643.5 1381.6,1543.6 1381.9,1643.5 1382.2,1623.6 1382.5,1526.7 1382.8,1643.5 1383.1,1643.5 1383.4,1556.4 1383.7,1643.5 1384.3,1643.5 1384.6,1574.8 1384.9,1643.5 1385.2,1643.5 1385.5,1552.8 1385.8,1536.6 1386.1,1643.5 1386.7,1643.5 1387,1540.9 1387.3,1643.5 1387.9,1643.5 1388.2,1561.7 1388.5,1546.8 1388.8,1569.3 1389.1,1625.2 1389.4,1582.3 1389.7,1643.5 1390.3,1643.5 1390.6,1582.2 1390.9,1643.5 1391.1,1643.5 1391.4,1568.7 1391.7,1543.5 1392,1566.4 1392.3,1588.7 1392.6,1547.3 1392.9,1574.3 1393.2,1558.6 1393.5,1643.5 1394.7,1605.8 1395,1556.6 1395.3,1643.5 1395.9,1643.5 1396.2,1532.5 1396.5,1552.5 1396.8,1643.5 1398,1592.4 1398.3,1536.7 1398.6,1643.5 1399.2,1640.2 1399.5,1561.9 1399.8,1643.5 1402.2,1643.5 1402.5,1542.9 1402.8,1643.5 1403.4,1643.5 1403.7,1576.8 1404,1643.5 1404.3,1574.4 1404.6,1643.5 1406.4,1643.5 1406.7,1553.1 1407,1643.5 1407.9,1643.5 1408.2,1575.3 1408.5,1643.5 1408.8,1549.5 1409.1,1600.8 1409.4,1643.5 1409.7,1527.2 1409.9,1593.4 1410.2,1570.1 1410.5,1544.7 1410.8,1556.5 1411.1,1606.3 1411.4,1579.3 1411.7,1574.3 1412,1643.5 1414.4,1621.7 1414.7,1573.2 1415,1643.5 1416.2,1643.5 1416.5,1579.4 1416.8,1643.5 1417.1,1551.4 1417.4,1643.5 1417.7,1643.5 1418,1557.1 1418.3,1638.7 1419.8,1643.5 1420.1,1548.4 1420.4,1560 1420.7,1558.1 1421,1619.3 1421.3,1542.5 1421.6,1643.5 1423.1,1643.5 1423.4,1565.1 1423.7,1596.5 1424.3,1604.1 1424.6,1550.9 1424.9,1643.5 1425.8,1643.5 1426.1,1552 1426.4,1565.5 1426.7,1547.3 1427,1565.8 1427.3,1643.5 1431.7,1627 1432,1554.6 1432.3,1643.5 1432.6,1540.5 1432.9,1626.8 1434.1,1643.5 1434.4,1578.3 1434.7,1643.5 1436.2,1643.5 1436.5,1558.6 1436.8,1643.5 1437.4,1643.5 1437.7,1564.6 1438,1604.9 1438.6,1643.5 1438.9,1551.9 1439.2,1643.5 1439.8,1643.5 1440.1,1556.3 1440.4,1643.5 1441,1643.5 1441.3,1563.2 1441.6,1603.6 1441.9,1643.5 1442.2,1574.7 1442.5,1643.5 1443.7,1643.5 1444,1537.8 1444.3,1643.5 1444.9,1587.9 1445.2,1582.8 1445.5,1643.5 1446.1,1643.5 1446.4,1573.7 1446.7,1643.5 1447.2,1643.5 1447.5,1564.7 1447.8,1643.5 1448.1,1539 1448.4,1643.5 1449,1643.5 1449.3,1570 1449.6,1643.5 1449.9,1565.2 1450.2,1643.5 1450.5,1557.7 1450.8,1643.5 1452.3,1643.5 1452.6,1573 1452.9,1643.5 1454.1,1643.5 1454.4,1575.8 1454.7,1643.5 1460.7,1643.5 1461,1575.6 1461.3,1643.5 1471.1,1643.5 1471.4,1567.6 1471.7,1643.5 1477.4,1643.5 1477.7,1569.2 1478,1643.5 1515.3,1640.3 1515.6,1573.9 1515.9,1643.5 1525.1,1643.5 1525.4,1581.9 1525.7,1643.5 1531.4,1643.5 1531.7,1580.4 1532,1643.5 1532.6,1643.5 1532.9,1569.5 1533.2,1643.5 1534.4,1643.5 1534.7,1579.6 1535,1643.5 1544.2,1643.5 1544.5,1556.2 1544.8,1643.5 1552.6,1643.5 1552.9,1537.4 1553.2,1643.5 1566.6,1643.5 1566.9,1557.1 1567.2,1643.5 1576.2,1643.5 1576.5,1582.8 1576.8,1643.5 1578.8,1643.5 1579.1,1565.3 1579.4,1643.5 1586,1643.5 1586.3,1562.9 1586.6,1643.5 1598.2,1643.5 1598.5,1558.5 1598.8,1643.5 1628.1,1643.5 1628.4,1582.6 1628.7,1643.5 1639.1,1643.5 1639.4,1542.1 1639.7,1643.5 1645.1,1643.5 1645.4,1577.6 1645.7,1643.5 1674,1643.5"/>
<polyline fill="none" stroke="#8000ff" stroke-width="4" stroke-linejoin="bevel" points="929.8,1518.6 930.2,1516.1 930.6,1524.4 930.9,1526.8 931.3,1522.2 931.7,1528.7 932.1,1523.2 932.4,1523.7 932.8,1516.4 933.2,1524.3 933.6,1517.6 933.9,1524.8 934.3,1523.3 934.7,1525.5 935,1523.7 935.4,1526.4 935.8,1529.1 936.2,1530.1 936.5,1524.7 936.9,1527 937.3,1529.5 937.7,1532.1 938,1534.9 938.4,1537.9 938.8,1541.2 939.1,1544.8 939.5,1548.7 939.9,1553 940.3,1557.9 940.6,1563.4 941,1569.8 941.4,1577.5 941.8,1586.9"/>
<polyline fill="none" stroke="#8000ff" stroke-width="4" stroke-linejoin="bevel" points="950.5,1363.7 950.7,1328.3 951.1,1305.5 951.5,1302.5 951.8,1300.2 952.2,1298.5 952.6,1297.2 952.9,1296.3 953.3,1295.6 953.7,1295 954.1,1294.3 954.4,1293.4 954.8,1292.4 955.2,1291.4 955.6,1290.5 955.9,1289.6 956.3,1288.8 956.7,1288 957.1,1287.4 957.4,1286.4 957.8,1286.6 958.2,1286.3 958.5,1285.7 958.9,1285.3 959.3,1285.6 959.7,1285.3 960,1284.5 960.4,1284.6 960.8,1283.8 961.2,1283.8 961.5,1283.6 961.9,1283.4 962.3,1283 962.6,1283.2 963,1282.7 963.4,1283 963.8,1282.8 964.1,1282.9 964.5,1282.5 964.9,1282.6 965.3,1282.8 965.6,1282.1 966,1282.7 966.4,1282.7 966.8,1282.6 967.1,1282.3 967.5,1282.8 967.9,1282.7 968.2,1282.9 968.6,1283.4 969,1282.9 969.4,1283 969.7,1283.4 970.1,1283.5 970.5,1284 970.9,1284.1 971.2,1283.9 971.6,1283.8 972,1284.2 972.3,1284.1 972.7,1284.1 973.1,1284.5 973.5,1284.5 973.8,1284.4 974.2,1285.2 974.6,1284.8 975,1285.7 975.3,1285.2 975.7,1285.4 976.1,1285.7 976.4,1286 976.8,1285.9 977.2,1286.1 977.6,1286.2 977.9,1286.6 978.3,1286.4 978.7,1287 979.1,1287 979.4,1287.2 979.8,1286.9 980.2,1287.9 980.6,1287.8 980.9,1287.6 981.3,1288.3 981.7,1288.7 982,1288.4 982.4,1288.8 982.8,1288.7 983.2,1289.4 983.5,1289.3 983.9,1289.4 984.3,1289.5 984.7,1290.3 985,1289.8 985.4,1290.6 985.8,1291 986.1,1291.1 986.5,1290.9 986.9,1291.3 987.3,1291.3 987.6,1291.5 988,1291.7 988.4,1292.1 988.8,1291.7 989.1,1293.1 989.5,1293.2 989.9,1293.1 990.2,1293.5 990.6,1294.1 991,1293.8 991.4,1294 991.7,1294.8 992.1,1294 992.5,1294.1 992.9,1294.3 993.2,1295.1 993.6,1295.1 994,1295.7 994.4,1295.5 994.7,1296 995.1,1295.9 995.5,1296.4 995.8,1296.2 996.2,1296.5 996.6,1296.6 997,1297.7 997.3,1298 997.7,1297.5 998.1,1298 998.5,1297.9 998.8,1298.1 999.2,1298.4 999.6,1298.4 999.9,1298.7 1000.3,1298.9 1000.7,1299.6 1001.1,1298.9 1001.4,1299.6 1001.8,1299.5 1002.2,1300 1002.6,1299.9 1002.9,1300.4 1003.3,1300.6 1003.7,1300.9 1004,1301.3 1004.4,1301.5 1004.8,1301.6 1005.2,1301.7 1005.5,1302.2 1005.9,1301.3 1006.3,1302.6 1006.7,1302.6 1007,1301.9 1007.4,1303.1 1007.8,1302.8 1008.2,1303.1 1008.5,1303.6 1008.9,1304.2 1009.3,1304.4 1009.6,1304.1 1010,1304.2 1010.4,1305.3 1010.8,1304.6 1011.1,1305.1 1011.5,1304.8 1011.9,1305.2 1012.3,1305.8 1012.6,1305.8 1013,1305.9 1013.4,1305.6 1013.7,1305.2 1014.1,1306.4 1014.5,1306.6 1014.9,1306.6 1015.2,1307.1 1015.6,1307 1016,1307.3 1016.4,1307.6 1016.7,1308.1 1017.1,1308 1017.5,1307.9 1017.9,1308.4 1018.2,1308.1 1018.6,1308.5 1019,1309 1019.3,1308.6 1019.7,1309.8 1020.1,1309.1 1020.5,1309.1 1020.8,1310.1 1021.2,1310.2 1021.6,1310 1022,1310 1022.3,1310.6 1022.7,1310.9 1023.1,1310.8 1023.4,1311.2 1023.8,1312 1024.2,1311.8 1024.6,1311.9 1024.9,1312.7 1025.3,1312.2 1025.7,1312.8 1026.1,1312.4 1026.4,1313.5 1026.8,1313.5 1027.2,1313.9 1027.5,1313 1027.9,1313.2 1028.3,1313.3 1028.7,1313.5 1029,1313.9 1029.4,1314.1 1029.8,1315.3 1030.2,1314.7 1030.5,1315.2 1030.9,1315.4 1031.3,1315.9 1031.7,1315.1 1032,1315.8 1032.4,1316.6 1032.8,1316 1033.1,1316.4 1033.5,1317 1033.9,1316.9 1034.3,1317.3 1034.6,1318.2 1035,1318 1035.4,1317.4 1035.8,1317.6 1036.1,1317.9 1036.5,1318.7 1036.9,1318.6 1037.2,1318.6 1037.6,1318.5 1038,1319.3 1038.4,1319.6 1038.7,1318.9 1039.1,1319.5 1039.5,1319.9 1039.9,1320.2 1040.2,1320.4 1040.6,1319.6 1041,1320.1 1041.4,1320.9 1041.7,1321.4 1042.1,1320.4 1042.5,1320.6 1042.8,1320.9 1043.2,1321.3 1043.6,1322.7 1044,1322.6 1044.3,1322 1044.7,1322.5 1045.1,1322.5 1045.5,1323 1045.8,1323.3 1046.2,1322.9 1046.6,1323.6 1046.9,1323.6 1047.3,1323.6 1047.7,1323.8 1048.1,1323.6 1048.4,1323.7 1048.8,1325.1 1049.2,1324.8 1049.6,1325.2 1049.9,1324.8 1050.3,1325.8 1050.7,1325.1 1051,1325.4 1051.4,1325.6 1051.8,1326.5 1052.2,1326.4 1052.5,1326.9 1052.9,1326.5 1053.3,1326.4 1053.7,1327.7 1054,1327.6 1054.4,1327.5 1054.8,1327.8 1055.2,1327.1 1055.5,1328 1055.9,1328 1056.3,1328.9 1056.6,1327.8 1057,1328.7 1057.4,1328.6 1057.8,1329.1 1058.1,1330.3 1058.5,1330.3 1058.9,1330.3 1059.3,1329.6 1059.6,1330.3 1060,1330 1060.4,1330.3 1060.7,1330.5 1061.1,1330.4 1061.5,1330.9 1061.9,1332 1062.2,1331.7 1062.6,1330.7 1063,1332.3 1063.4,1331.3 1063.7,1331.3 1064.1,1332.6 1064.5,1332.3 1064.8,1333.4 1065.2,1332.5 1065.6,1333.4 1066,1333.9 1066.3,1333.6 1066.7,1333.8 1067.1,1334.1 1067.5,1333.8 1067.8,1334.2 1068.2,1334.6 1068.6,1334 1069,1333.4 1069.3,1334.8 1069.7,1335.4 1070.1,1335.7 1070.4,1335.1 1070.8,1335.7 1071.2,1335.7 1071.6,1337 1071.9,1336.7 1072.3,1336.9 1072.7,1335.9 1073.1,1336.8 1073.4,1338.1 1073.8,1336.7 1074.2,1336.5 1074.5,1336.6 1074.9,1339 1075.3,1337.6 1075.7,1337.4 1076,1337.7 1076.4,1338.3 1076.8,1339.3 1077.2,1338.8 1077.5,1338.9 1077.9,1338.6 1078.3,1338.7 1078.6,1339.4 1079,1338.9 1079.4,1340.1 1079.8,1340.1 1080.1,1339.9 1080.5,1339.8 1080.9,1340.4 1081.3,1339.7 1081.6,1340.4 1082,1341.3 1082.4,1340.9 1082.8,1341.6 1083.1,1341.8 1083.5,1342.2 1083.9,1340.8 1084.2,1341.3 1084.6,1342.8 1085,1341.5 1085.4,1341.7 1085.7,1342.6 1086.1,1342.3 1086.5,1341.5 1086.9,1342.8 1087.2,1342.9 1087.6,1342.6 1088,1344 1088.3,1344.3 1088.7,1344.6 1089.1,1344 1089.5,1343.6 1089.8,1344.7 1090.2,1345.2 1090.6,1344.4 1091,1344.9 1091.3,1344.5 1091.7,1345.1 1092.1,1345.3 1092.5,1345.4 1092.8,1345.5 1093.2,1346.2 1093.6,1346.5 1093.9,1345 1094.3,1344.3 1094.7,1345.6 1095.1,1347.4 1095.4,1346.6 1095.8,1346 1096.2,1347.9 1096.6,1347.3 1096.9,1347.5 1097.3,1347.9 1097.7,1348 1098,1347.1 1098.4,1348.1 1098.8,1348.1 1099.2,1347.1 1099.5,1348.8 1099.9,1349.6 1100.3,1348.2 1100.7,1347.5 1101,1348.8 1101.4,1348.8 1101.8,1350 1102.1,1349.9 1102.5,1348.6 1102.9,1348.9 1103.3,1349.4 1103.6,1350.3 1104,1350.8 1104.4,1350.9 1104.8,1351.1 1105.1,1350.2 1105.5,1351.2 1105.9,1351.1 1106.3,1350.5 1106.6,1350.7 1107,1351.2 1107.4,1351.1 1107.7,1351.6 1108.1,1353 1108.5,1351.9 1108.9,1352.3 1109.2,1352.4 1109.6,1352.2 1110,1352.8 1110.4,1351.8 1110.7,1352.9 1111.1,1352.8 1111.5,1352.8 1111.8,1353.3 1112.2,1352.9 1112.6,1353 1113,1353.2 1113.3,1354.2 1113.7,1354.5 1114.1,1354.4 1114.5,1354.2 1114.8,1355.6 1115.2,1355 1115.6,1355.4 1116,1355.2 1116.3,1355.5 1116.7,1354.5 1117.1,1354.9 1117.4,1354.7 1117.8,1356.2 1118.2,1356.2 1118.6,1356 1118.9,1354.8 1119.3,1354.9 1119.7,1356.6 1120.1,1355.9 1120.4,1355.1 1120.8,1357.3 1121.2,1356.9 1121.5,1356 1121.9,1356.5 1122.3,1357.8 1122.7,1356.3 1123,1356.8 1123.4,1357.1 1123.8,1358.6 1124.2,1358 1124.5,1357.1 1124.9,1357.8 1125.3,1357.7 1125.6,1358.6 1126,1357.5 1126.4,1358.8 1126.8,1358.2 1127.1,1358.7 1127.5,1359.8 1127.9,1358.2 1128.3,1360.2 1128.6,1360 1129,1359.5 1129.4,1360.8 1129.8,1361.2 1130.1,1360.1 1130.5,1360.5 1130.9,1360.5 1131.2,1360.1 1131.6,1359 1132,1361 1132.4,1359.2 1132.7,1360.8 1133.1,1361.2 1133.5,1363.2 1133.9,1362.5 1134.2,1361.4 1134.6,1361.3 1135,1362.4 1135.3,1361.7 1135.7,1361.4 1136.1,1362.6 1136.5,1363.6 1136.8,1363.2 1137.2,1362.9 1137.6,1362.6 1138,1362.3 1138.3,1363.7 1138.7,1363.2 1139.1,1363.5 1139.4,1363.4 1139.8,1362.8 1140.2,1362.8 1140.6,1364.2 1140.9,1364.5 1141.3,1364.7 1141.7,1364.7 1142.1,1364.7 1142.4,1364.7 1142.8,1365.1 1143.2,1365.6 1143.6,1365.8 1143.9,1365.1 1144.3,1363.4 1144.7,1365 1145,1365 1145.4,1365.4 1145.8,1365.9 1146.2,1364.4 1146.5,1366.3 1146.9,1366.9 1147.3,1367.3 1147.7,1366.3 1148,1367.4 1148.4,1367.4 1148.8,1367.6 1149.1,1368 1149.5,1367 1149.9,1368.6 1150.3,1365.7 1150.6,1369.8 1151,1368.8 1151.4,1367.8 1151.8,1367.7 1152.1,1368.4 1152.5,1368 1152.9,1368.3 1153.3,1368.4 1153.6,1368.2 1154,1368.6 1154.4,1369 1154.7,1369.2 1155.1,1368.5 1155.5,1369.5 1155.9,1369 1156.2,1368.4 1156.6,1369.4 1157,1368.9 1157.4,1370.4 1157.7,1369.9 1158.1,1369.9 1158.5,1370.2 1158.8,1370.2 1159.2,1369.6 1159.6,1371.1 1160,1371.5 1160.3,1370.8 1160.7,1372.4 1161.1,1371.4 1161.5,1370.6 1161.8,1371.7 1162.2,1371.3 1162.6,1371.6 1162.9,1371.1 1163.3,1371.8 1163.7,1372.2 1164.1,1375.3 1164.4,1373 1164.8,1372.2 1165.2,1373 1165.6,1373.6 1165.9,1372.4 1166.3,1374 1166.7,1373.7 1167.1,1373 1167.4,1374.1 1167.8,1373.7 1168.2,1374 1168.5,1375.1 1168.9,1374.7 1169.3,1374.7 1169.7,1375.1 1170,1373.7 1170.4,1374.8 1170.8,1375.5 1171.2,1376.2 1171.5,1375.5 1171.9,1374.2 1172.3,1375.7 1172.6,1374.9 1173,1375.3 1173.4,1376.3 1173.8,1376.8 1174.1,1375.6 1174.5,1377.7 1174.9,1375.9 1175.3,1377.5 1175.6,1375.9 1176,1377.1 1176.4,1377 1176.7,1376.1 1177.1,1378 1177.5,1377.2 1177.9,1377.7 1178.2,1377.1 1178.6,1377 1179,1377.5 1179.4,1377.7 1179.7,1378.4 1180.1,1377.7 1180.5,1378.5 1180.9,1378.3 1181.2,1378.4 1181.6,1379.9 1182,1379.9 1182.3,1378.8 1182.7,1379.1 1183.1,1378.1 1183.5,1381.6 1183.8,1379.3 1184.2,1378.7 1184.6,1379.7 1185,1379.2 1185.3,1380 1185.7,1380.2 1186.1,1379.5 1186.4,1381.6 1186.8,1382.6 1187.2,1380.2 1187.6,1380.7 1187.9,1380.8 1188.3,1380.8 1188.7,1380.6 1189.1,1381.7 1189.4,1381 1189.8,1381.3 1190.2,1382.7 1190.6,1381.9 1190.9,1381.7 1191.3,1382.8 1191.7,1381.2 1192,1382.6 1192.4,1381.7 1192.8,1381.2 1193.2,1384.1 1193.5,1384.1 1193.9,1382.4 1194.3,1383.2 1194.7,1382.7 1195,1381.7 1195.4,1383.9 1195.8,1382.8 1196.1,1383.9 1196.5,1384.4 1196.9,1383.5 1197.3,1383.8 1197.6,1383.2 1198,1384 1198.4,1383.6 1198.8,1384.1 1199.1,1386.3 1199.5,1385.1 1199.9,1385.2 1200.2,1384.2 1200.6,1386.2 1201,1385.1 1201.4,1385.8 1201.7,1387.3 1202.1,1385.8 1202.5,1385.1 1202.9,1386.2 1203.2,1385.1 1203.6,1385.7 1204,1385.9 1204.4,1386.9 1204.7,1386.6 1205.1,1386.1 1205.5,1386.7 1205.8,1388 1206.2,1387.1 1206.6,1386.7 1207,1386.1 1207.3,1386.5 1207.7,1388.4 1208.1,1386.8 1208.5,1389.3 1208.8,1388.4 1209.2,1388.7 1209.6,1386.5 1209.9,1387.4 1210.3,1387.9 1210.7,1388.9 1211.1,1387.2 1211.4,1388.8 1211.8,1388.2 1212.2,1387.7 1212.6,1389.2 1212.9,1388.4 1213.3,1391.1 1213.7,1388.6 1214,1391.1 1214.4,1389 1214.8,1389.2 1215.2,1389.1 1215.5,1387.5 1215.9,1392.5 1216.3,1389.5 1216.7,1390.5 1217,1389.4 1217.4,1389.9 1217.8,1390.3 1218.2,1391 1218.5,1391.3 1218.9,1390.3 1219.3,1392.4 1219.6,1389.8 1220,1391.6 1220.4,1390.6 1220.8,1392.5 1221.1,1390.8 1221.5,1391.7 1221.9,1390.7 1222.3,1390.4 1222.6,1392.3 1223,1391.7 1223.4,1391.7 1223.7,1390.5 1224.1,1393.5 1224.5,1391.6 1224.9,1392.4 1225.2,1393.7 1225.6,1392.9 1226,1393.4 1226.4,1391.6 1226.7,1393.9 1227.1,1391.9 1227.5,1393.5 1227.9,1392.4 1228.2,1395.1 1228.6,1394.2 1229,1393.3 1229.3,1394.5 1229.7,1395.4 1230.1,1393.7 1230.5,1393 1230.8,1394 1231.2,1394.3 1231.6,1393.7 1232,1394.7 1232.3,1393.4 1232.7,1393.3 1233.1,1396 1233.4,1393.5 1233.8,1394 1234.2,1394.6 1234.6,1394.2 1234.9,1393.5 1235.3,1393.1 1235.7,1393.5 1236.1,1395.6 1236.4,1394 1236.8,1397.4 1237.2,1394.7 1237.5,1395 1237.9,1394.8 1238.3,1396.9 1238.7,1394.5 1239,1394.8 1239.4,1396 1239.8,1397.9 1240.2,1396.1 1240.5,1397.5 1240.9,1398.4 1241.3,1397.5 1241.7,1394.3 1242,1398.6 1242.4,1397.4 1242.8,1397 1243.1,1396.2 1243.5,1398.5 1243.9,1398.6 1244.3,1396.6 1244.6,1397.4 1245,1396.4 1245.4,1399.2 1245.8,1398.1 1246.1,1397.1 1246.5,1398.1 1246.9,1399.6 1247.2,1398.3 1247.6,1400.7 1248,1399.5 1248.4,1397.9 1248.7,1397.9 1249.1,1398.5 1249.5,1398.3 1249.9,1400.9 1250.2,1400 1250.6,1398.2 1251,1396.9 1251.3,1399.1 1251.7,1400.8 1252.1,1400.9 1252.5,1398.5 1252.8,1398.8 1253.2,1401.5 1253.6,1400.1 1254,1398.7 1254.3,1398.8 1254.7,1401.1 1255.1,1400.8 1255.5,1400.2 1255.8,1402.1 1256.2,1402.9 1256.6,1401.9 1256.9,1399.8 1257.3,1400 1257.7,1400.8 1258.1,1402.9 1258.4,1404 1258.8,1403 1259.2,1401.8 1259.6,1400.8 1259.9,1403.1 1260.3,1402.1 1260.7,1404.5 1261,1405 1261.4,1402.6 1261.8,1404.1 1262.2,1404 1262.5,1405.7 1262.9,1402.1 1263.3,1405.4 1263.7,1403.2 1264,1405.2 1264.4,1404 1264.8,1402 1265.2,1403.4 1265.5,1403.7 1265.9,1402.9 1266.3,1403.4 1266.6,1402.5 1267,1406.1 1267.4,1402.7 1267.8,1404.4 1268.1,1405.9 1268.5,1403.9 1268.9,1404.1 1269.3,1404.9 1269.6,1403.9 1270,1406.7 1270.4,1407.3 1270.7,1406 1271.1,1404.1 1271.5,1404.8 1271.9,1405.6 1272.2,1406.5 1272.6,1405.8 1273,1404.5 1273.4,1406.7 1273.7,1406.8 1274.1,1405.6 1274.5,1405.5 1274.8,1406.2 1275.2,1404.7 1275.6,1406.3 1276,1407.9 1276.3,1409.6 1276.7,1405.4 1277.1,1407.1 1277.5,1406.6 1277.8,1406.5 1278.2,1405.5 1278.6,1406 1279,1406.1 1279.3,1407.1 1279.7,1407.8 1280.1,1407.2 1280.4,1408.7 1280.8,1407.3 1281.2,1406.5 1281.6,1407 1281.9,1407.8 1282.3,1409.3 1282.7,1409.4 1283.1,1409.2 1283.4,1408.9 1283.8,1407.9 1284.2,1408 1284.5,1407.9 1284.9,1407.5 1285.3,1410.1 1285.7,1409.2 1286,1408.4 1286.4,1408.1 1286.8,1410.1 1287.2,1410.2 1287.5,1407.9 1287.9,1408.6 1288.3,1409 1288.6,1410 1289,1411 1289.4,1409.9 1289.8,1409.5 1290.1,1409.4 1290.5,1409 1290.9,1410 1291.3,1408.7 1291.6,1410.8 1292,1410 1292.4,1410.4 1292.8,1413 1293.1,1412.5 1293.5,1411.5 1293.9,1410.7 1294.2,1410.5 1294.6,1409.4 1295,1411.2 1295.4,1411.7 1295.7,1410.9 1296.1,1413 1296.5,1411.7 1296.9,1412.9 1297.2,1411.6 1297.6,1412.7 1298,1412.4 1298.3,1409.5 1298.7,1410.6 1299.1,1408.9 1299.5,1411.9 1299.8,1412.5 1300.2,1413.4 1300.6,1412.5 1301,1415 1301.3,1412.5 1301.7,1413.5 1302.1,1414.6 1302.5,1415.4 1302.8,1414.2 1303.2,1413.6 1303.6,1413.2 1303.9,1415.5 1304.3,1413.4 1304.7,1413 1305.1,1410.6 1305.4,1413 1305.8,1412.4 1306.2,1414.7 1306.6,1413.8 1306.9,1414.9 1307.3,1415.1 1307.7,1413.3 1308,1414.4 1308.4,1412.2 1308.8,1414.3 1309.2,1413.8 1309.5,1416.1 1309.9,1415.9 1310.3,1413.7 1310.7,1415.6 1311,1413 1311.4,1416 1311.8,1416.1 1312.1,1412.4 1312.5,1417.5 1312.9,1415.8 1313.3,1414.5 1313.6,1414.5 1314,1417 1314.4,1412.6 1314.8,1416.2 1315.1,1418.4 1315.5,1414.4 1315.9,1416.4 1316.3,1415.8 1316.6,1414.9 1317,1417.3 1317.4,1417.1 1317.7,1416.3 1318.1,1415.1 1318.5,1418.2 1318.9,1414.4 1319.2,1416 1319.6,1418.2 1320,1416.6 1320.4,1415.9 1320.7,1415.1 1321.1,1415.7 1321.5,1415.4 1321.8,1417.2 1322.2,1416.1 1322.6,1421.2 1323,1415.8 1323.3,1417.4 1323.7,1415.2 1324.1,1418.3 1324.5,1418.2 1324.8,1417.6 1325.2,1416.6 1325.6,1417.3 1325.9,1416.4 1326.3,1417.9 1326.7,1416.5 1327.1,1414.2 1327.4,1416.4 1327.8,1417.4 1328.2,1420.5 1328.6,1417.5 1328.9,1416.9 1329.3,1418.8 1329.7,1417.1 1330.1,1422 1330.4,1419.8 1330.8,1420.2 1331.2,1418.1 1331.5,1420.2 1331.9,1420.5 1332.3,1417 1332.7,1421.4 1333,1418.6 1333.4,1417.8 1333.8,1419.9 1334.2,1420.9 1334.5,1419.9 1334.9,1420.6 1335.3,1421 1335.6,1419.5 1336,1420 1336.4,1415.6 1336.8,1418.2 1337.1,1419.9 1337.5,1419.4 1337.9,1417.9 1338.3,1418.7 1338.6,1420.4 1339,1421.7 1339.4,1418 1339.8,1420.7 1340.1,1420.4 1340.5,1418.8 1340.9,1420.6 1341.2,1419.1 1341.6,1421.5 1342,1420.8 1342.4,1421.5 1342.7,1418.2 1343.1,1423.6 1343.5,1421.7 1343.9,1422.9 1344.2,1422.7 1344.6,1423.7 1345,1423 1345.3,1420 1345.7,1419.8 1346.1,1423 1346.5,1424 1346.8,1422.9 1347.2,1419.8 1347.6,1422.4 1348,1425.8 1348.3,1421.2 1348.7,1422.7 1349.1,1421.7 1349.4,1422.1 1349.8,1424.8 1350.2,1421.3 1350.6,1421.9 1350.9,1424.1 1351.3,1426.7 1351.7,1425 1352.1,1425 1352.4,1422.3 1352.8,1424.3 1353.2,1424.2 1353.6,1423.5 1353.9,1424.3 1354.3,1423.1 1354.7,1423.3 1355,1422.4 1355.4,1425.9 1355.8,1423.4 1356.2,1424.5 1356.5,1421 1356.9,1422 1357.3,1424.9 1357.7,1422.9 1358,1427.3 1358.4,1426.2 1358.8,1425 1359.1,1424.2 1359.5,1426.5 1359.9,1424.7 1360.3,1423 1360.6,1427.6 1361,1427.2 1361.4,1428.2 1361.8,1423.4 1362.1,1427 1362.5,1426 1362.9,1426.8 1363.2,1425.6 1363.6,1426.1 1364,1425.3 1364.4,1425.4 1364.7,1423.3 1365.1,1427.4 1365.5,1425.7 1365.9,1426.1 1366.2,1427.6 1366.6,1424.8 1367,1423.4 1367.4,1428.1 1367.7,1422.7 1368.1,1426.7 1368.5,1426.7 1368.8,1431.1 1369.2,1426.6 1369.6,1427 1370,1427.3 1370.3,1425.9 1370.7,1427.3 1371.1,1426.5 1371.5,1428.2 1371.8,1429.1 1372.2,1427.1 1372.6,1426.4 1372.9,1426.3 1373.3,1427.3 1373.7,1428.8 1374.1,1427.6 1374.4,1428.1 1374.8,1429.9 1375.2,1427.3 1375.6,1428.2 1375.9,1429.9 1376.3,1428.6 1376.7,1427.2 1377.1,1425.8 1377.4,1431.4 1377.8,1429 1378.2,1427.5 1378.5,1426.6 1378.9,1427.9 1379.3,1430.4 1379.7,1429.5 1380,1428.9 1380.4,1430.2 1380.8,1430.7 1381.2,1431.2 1381.5,1425 1381.9,1429.1 1382.3,1429.6 1382.6,1428.2 1383,1429.3 1383.4,1429.7 1383.8,1429.1 1384.1,1430.8 1384.5,1430.3 1384.9,1428.2 1385.3,1428.7 1385.6,1431.7 1386,1427.4 1386.4,1430.6 1386.7,1432.8 1387.1,1428.9 1387.5,1429.1 1387.9,1429.7 1388.2,1432 1388.6,1428.4 1389,1429.6 1389.4,1429.9 1389.7,1430.2 1390.1,1430 1390.5,1427.1 1390.9,1431.6 1391.2,1430.3 1391.6,1429 1392,1429.6 1392.3,1432.3 1392.7,1431.3 1393.1,1431.8 1393.5,1433.7 1393.8,1431.6 1394.2,1429.7 1394.6,1430.9 1395,1429.6 1395.3,1430.8 1395.7,1432.8 1396.1,1430.8 1396.4,1434.8 1396.8,1429.7 1397.2,1432.6 1397.6,1429.2 1397.9,1434.5 1398.3,1433.8 1398.7,1433 1399.1,1432.7 1399.4,1435.2 1399.8,1434.7 1400.2,1431.7 1400.5,1434 1400.9,1431.2 1401.3,1430 1401.7,1435.4 1402,1433.5 1402.4,1430 1402.8,1431.1 1403.2,1435.5 1403.5,1432.5 1403.9,1430.4 1404.3,1437.2 1404.7,1432.7 1405,1431.5 1405.4,1434.3 1405.8,1434.6 1406.1,1432.3 1406.5,1436.5 1406.9,1432.7 1407.3,1431.6 1407.6,1433.7 1408,1436.8 1408.4,1431.2 1408.8,1434.1 1409.1,1433.1 1409.5,1435.8 1409.9,1434.4 1410.2,1432.4 1410.6,1437.2 1411,1436.9 1411.4,1438.4 1411.7,1433.8 1412.1,1433.9 1412.5,1436.3 1412.9,1434.2 1413.2,1434.8 1413.6,1431.6 1414,1437.2 1414.4,1434.6 1414.7,1435.9 1415.1,1432 1415.5,1434.5 1415.8,1437.5 1416.2,1434.6 1416.6,1435.7 1417,1437.3 1417.3,1434.9 1417.7,1435.4 1418.1,1437.9 1418.5,1436.6 1418.8,1433.8 1419.2,1434.2 1419.6,1436.2 1419.9,1436.7 1420.3,1435.6 1420.7,1436.4 1421.1,1438.5 1421.4,1435.2 1421.8,1437.9 1422.2,1433.9 1422.6,1435.5 1422.9,1435.3 1423.3,1437.2 1423.7,1436.4 1424,1437.9 1424.4,1437.6 1424.8,1438.8 1425.2,1434.4 1425.5,1439.2 1425.9,1434.1 1426.3,1435.8 1426.7,1438.9 1427,1434.9 1427.4,1436.6 1427.8,1438.9 1428.2,1437 1428.5,1438.1 1428.9,1439 1429.3,1437.7 1429.6,1437.2 1430,1438.4 1430.4,1437.9 1430.8,1436.4 1431.1,1438.2 1431.5,1438.7 1431.9,1440.6 1432.3,1438.3 1432.6,1439.1 1433,1438.7 1433.4,1436.9 1433.7,1436.8 1434.1,1438.4 1434.5,1439.6 1434.9,1438.3 1435.2,1438 1435.6,1438.2 1436,1441.5 1436.4,1438.2 1436.7,1440.8 1437.1,1438.4 1437.5,1438.2 1437.8,1438.8 1438.2,1436.9 1438.6,1439.2 1439,1438.7 1439.3,1441 1439.7,1439.6 1440.1,1439.9 1440.5,1439.4 1440.8,1439.9 1441.2,1444.4 1441.6,1438.2 1442,1438.5 1442.3,1444 1442.7,1439.4 1443.1,1438.1 1443.4,1438.6 1443.8,1438.7 1444.2,1440.5 1444.6,1441.2 1444.9,1436.8 1445.3,1439.5 1445.7,1437.3 1446.1,1440.5 1446.4,1438.7 1446.8,1439 1447.2,1439.1 1447.5,1443 1447.9,1436.4 1448.3,1440.2 1448.7,1441.4 1449,1440.3 1449.4,1444.5 1449.8,1438.4 1450.2,1441.8 1450.5,1440.6 1450.9,1440.8 1451.3,1444.7 1451.7,1441.9 1452,1439 1452.4,1442.9 1452.8,1441 1453.1,1439.6 1453.5,1438.6 1453.9,1443.2 1454.3,1439.7 1454.6,1440.4 1455,1440.7 1455.4,1440 1455.8,1440.5 1456.1,1443.9 1456.5,1441.1 1456.9,1443.2 1457.2,1441.5 1457.6,1443 1458,1439.4 1458.4,1440.5 1458.7,1441.4 1459.1,1443.7 1459.5,1441.6 1459.9,1444.7 1460.2,1444.3 1460.6,1446 1461,1441 1461.3,1443.7 1461.7,1441 1462.1,1440.7 1462.5,1441 1462.8,1443.8 1463.2,1440.3 1463.6,1440.8 1464,1445.7 1464.3,1442.5 1464.7,1444.9 1465.1,1443.6 1465.5,1441.1 1465.8,1442.8 1466.2,1440.5 1466.6,1442.3 1466.9,1442.2 1467.3,1440.5 1467.7,1441.3 1468.1,1442.2 1468.4,1441.2 1468.8,1441.5 1469.2,1446.7 1469.6,1446.1 1469.9,1443.9 1470.3,1442 1470.7,1445.7 1471,1447.7 1471.4,1444.4 1471.8,1445.5 1472.2,1441.6 1472.5,1449.5 1472.9,1443 1473.3,1443.3 1473.7,1450.4 1474,1446.8 1474.4,1445.3 1474.8,1444.1 1475.1,1444.9 1475.5,1443.8 1475.9,1444.7 1476.3,1446.8 1476.6,1442 1477,1444.7 1477.4,1447.1 1477.8,1444.4 1478.1,1445.7 1478.5,1446.3 1478.9,1446.8 1479.3,1448.7 1479.6,1447.5 1480,1448.4 1480.4,1450 1480.7,1444.9 1481.1,1445.3 1481.5,1446.4 1481.9,1448.3 1482.2,1447.7 1482.6,1443 1483,1448 1483.4,1444.5 1483.7,1445.6 1484.1,1445.3 1484.5,1447.4 1484.8,1446.9 1485.2,1446.7 1485.6,1448.9 1486,1443.9 1486.3,1448.4 1486.7,1446.4 1487.1,1443.3 1487.5,1443.9 1487.8,1448.2 1488.2,1445.9 1488.6,1445 1489,1451.4 1489.3,1443.1 1489.7,1446.1 1490.1,1447.9 1490.4,1447.5 1490.8,1452.3 1491.2,1446 1491.6,1444.3 1491.9,1447.9 1492.3,1444.4 1492.7,1446.3 1493.1,1450.6 1493.4,1446.6 1493.8,1452.3 1494.2,1452 1494.5,1446.6 1494.9,1446.8 1495.3,1448.3 1495.7,1448.3 1496,1451.5 1496.4,1446.2 1496.8,1448.3 1497.2,1448.8 1497.5,1441.4 1497.9,1447.9 1498.3,1448.5 1498.6,1444.5 1499,1448 1499.4,1449.6 1499.8,1445.5 1500.1,1449 1500.5,1450.5 1500.9,1449.6 1501.3,1448.8 1501.6,1447 1502,1446.3 1502.4,1451.6 1502.8,1446.5 1503.1,1450.5 1503.5,1450.2 1503.9,1455.2 1504.2,1445.9 1504.6,1448.1 1505,1449.9 1505.4,1449.8 1505.7,1447.5 1506.1,1449.5 1506.5,1456.5 1506.9,1449.1 1507.2,1449.8 1507.6,1449.5 1508,1449.7 1508.3,1448.1 1508.7,1451.5 1509.1,1445.3 1509.5,1449.8 1509.8,1451.7 1510.2,1450 1510.6,1454.1 1511,1450.6 1511.3,1452 1511.7,1452.6 1512.1,1448.7 1512.4,1449.9 1512.8,1452.7 1513.2,1452 1513.6,1450 1513.9,1446 1514.3,1451.1 1514.7,1451.2 1515.1,1449.9 1515.4,1453.8 1515.8,1451.3 1516.2,1449.5 1516.6,1450.3 1516.9,1450.5 1517.3,1454 1517.7,1451.2 1518,1448.3 1518.4,1445.9 1518.8,1449.3 1519.2,1452.7 1519.5,1452.5 1519.9,1452 1520.3,1447.2 1520.7,1454.8 1521,1452.2 1521.4,1455.7 1521.8,1452.8 1522.1,1452.6 1522.5,1450 1522.9,1450.3 1523.3,1451.6 1523.6,1452.7 1524,1453.1 1524.4,1448.7 1524.8,1452.6 1525.1,1454.9 1525.5,1454.1 1525.9,1452.4 1526.3,1454.3 1526.6,1456.3 1527,1450.6 1527.4,1454.3 1527.7,1453.1 1528.1,1452.6 1528.5,1453.5 1528.9,1453.3 1529.2,1459.2 1529.6,1453 1530,1453.6 1530.4,1454.1 1530.7,1453.4 1531.1,1448.6 1531.5,1449.7 1531.8,1451.7 1532.2,1450.1 1532.6,1454.5 1533,1453.7 1533.3,1452.5 1533.7,1451.7 1534.1,1451.9 1534.5,1449.8 1534.8,1454.1 1535.2,1450.9 1535.6,1455.3 1535.9,1452.7 1536.3,1456.3 1536.7,1451.3 1537.1,1455.3 1537.4,1451.2 1537.8,1458.8 1538.2,1450.3 1538.6,1454.3 1538.9,1453.3 1539.3,1453.7 1539.7,1458.5 1540.1,1455.9 1540.4,1456 1540.8,1454.9 1541.2,1458.5 1541.5,1456.3 1541.9,1454.6 1542.3,1452.3 1542.7,1453.3 1543,1457.8 1543.4,1453.1 1543.8,1451.6 1544.2,1453.4 1544.5,1456 1544.9,1457.3 1545.3,1456.3 1545.6,1451.7 1546,1457.8 1546.4,1461.6 1546.8,1453.4 1547.1,1457.1 1547.5,1455.7 1547.9,1456.6 1548.3,1453.2 1548.6,1456.6 1549,1457.5 1549.4,1457.7 1549.7,1452 1550.1,1452.6 1550.5,1456.8 1550.9,1457.2 1551.2,1456.3 1551.6,1454.8 1552,1458.1 1552.4,1452.7 1552.7,1455.6 1553.1,1462.9 1553.5,1458.9 1553.9,1457.1 1554.2,1451.1 1554.6,1452.9 1555,1456 1555.3,1459.4 1555.7,1456.8 1556.1,1456.6 1556.5,1457.8 1556.8,1456.5 1557.2,1455.3 1557.6,1458.1 1558,1459.8 1558.3,1456.7 1558.7,1461 1559.1,1458.4 1559.4,1454.6 1559.8,1456.9 1560.2,1460.5 1560.6,1457.7 1560.9,1458.3 1561.3,1457.4 1561.7,1455.4 1562.1,1459.1 1562.4,1461 1562.8,1454.3 1563.2,1460.1 1563.6,1456.6 1563.9,1457.1 1564.3,1458.9 1564.7,1456.8 1565,1457.4 1565.4,1457.7 1565.8,1456.4 1566.2,1460 1566.5,1456.1 1566.9,1460.4 1567.3,1456.1 1567.7,1455.3 1568,1460.5 1568.4,1454 1568.8,1460.1 1569.1,1458.7 1569.5,1460.7 1569.9,1459.4 1570.3,1458.6 1570.6,1460.3 1571,1456.6 1571.4,1460.9 1571.8,1458.2 1572.1,1461.7 1572.5,1461.4 1572.9,1458.9 1573.2,1458.4 1573.6,1460.1 1574,1458.5 1574.4,1458.2 1574.7,1461 1575.1,1459.3 1575.5,1461.6 1575.9,1462.8 1576.2,1461 1576.6,1460.1 1577,1456.8 1577.4,1458.4 1577.7,1459.4 1578.1,1465.4 1578.5,1462 1578.8,1458.6 1579.2,1458.4 1579.6,1459.8 1580,1462.9 1580.3,1465 1580.7,1464.3 1581.1,1459.6 1581.5,1459.1 1581.8,1455.9 1582.2,1461.7 1582.6,1459.3 1582.9,1462.1 1583.3,1460.7 1583.7,1460 1584.1,1461.6 1584.4,1457 1584.8,1463.1 1585.2,1458.5 1585.6,1460.9 1585.9,1461.7 1586.3,1458 1586.7,1462 1587,1459.8 1587.4,1460.6 1587.8,1458.9 1588.2,1463.7 1588.5,1460 1588.9,1459.6 1589.3,1462.4 1589.7,1463.4 1590,1463.5 1590.4,1461 1590.8,1462.9 1591.2,1459.7 1591.5,1461.4 1591.9,1461.7 1592.3,1461.2 1592.6,1461 1593,1461 1593.4,1459.9 1593.8,1458.6 1594.1,1460.3 1594.5,1460.1 1594.9,1457.8 1595.3,1457.8 1595.6,1461.3 1596,1464.2 1596.4,1458.7 1596.7,1463.6 1597.1,1463.5 1597.5,1463.7 1597.9,1462.6 1598.2,1468 1598.6,1463.1 1599,1459.1 1599.4,1456 1599.7,1460.7 1600.1,1460 1600.5,1459.8 1600.9,1463.5 1601.2,1464.5 1601.6,1461.1 1602,1459.4 1602.3,1461.8 1602.7,1461.3 1603.1,1462.3 1603.5,1462.6 1603.8,1463.6 1604.2,1459.7 1604.6,1460.3 1605,1462.7 1605.3,1461.7 1605.7,1460.9 1606.1,1459.8 1606.4,1457.9 1606.8,1458.4 1607.2,1462.6 1607.6,1462 1607.9,1463.3 1608.3,1460.8 1608.7,1460.1 1609.1,1467.1 1609.4,1462.5 1609.8,1459.4 1610.2,1466.7 1610.5,1459.3 1610.9,1460.3 1611.3,1464.4 1611.7,1465.7 1612,1459 1612.4,1464.2 1612.8,1466.6 1613.2,1463.2 1613.5,1467.1 1613.9,1466.1 1614.3,1459.3 1614.7,1464.7 1615,1464.1 1615.4,1468.2 1615.8,1466.1 1616.1,1461.4 1616.5,1463 1616.9,1461.4 1617.3,1461.7 1617.6,1463.6 1618,1465.3 1618.4,1470.3 1618.8,1461.6 1619.1,1464.1 1619.5,1458.3 1619.9,1464.8 1620.2,1464.8 1620.6,1465.8 1621,1467.9 1621.4,1464.6 1621.7,1463.9 1622.1,1464.2 1622.5,1465.6 1622.9,1467 1623.2,1462.1 1623.6,1462.5 1624,1466.8 1624.3,1468.6 1624.7,1466.9 1625.1,1467 1625.5,1462.6 1625.8,1467.6 1626.2,1464.4 1626.6,1468.1 1627,1465.7 1627.3,1459.1 1627.7,1467.2 1628.1,1464.4 1628.5,1466.8 1628.8,1462.7 1629.2,1464.7 1629.6,1465.7 1629.9,1462.1 1630.3,1463.7 1630.7,1464.2 1631.1,1469.1 1631.4,1468.4 1631.8,1462.4 1632.2,1469.3 1632.6,1462.1 1632.9,1462.2 1633.3,1466.9 1633.7,1468.7 1634,1469.8 1634.4,1464.5 1634.8,1465.2 1635.2,1468.8 1635.5,1469.7 1635.9,1465.6 1636.3,1468.7 1636.7,1467.1 1637,1471.3 1637.4,1466 1637.8,1466.8 1638.2,1468.5 1638.5,1470.6 1638.9,1467.6 1639.3,1466.5 1639.6,1466.4 1640,1467.2 1640.4,1469.7 1640.8,1465.9 1641.1,1464.7 1641.5,1469.4 1641.9,1471.4 1642.3,1464.2 1642.6,1467.4 1643,1473.5 1643.4,1465.9 1643.7,1467.7 1644.1,1470.2 1644.5,1468.1 1644.9,1471.4 1645.2,1470.9 1645.6,1473.3 1646,1465.6 1646.4,1470.2 1646.7,1468.3 1647.1,1468 1647.5,1476.8 1647.8,1468.6 1648.2,1472.4 1648.6,1466 1649,1472.8 1649.3,1467.1 1649.7,1465.1 1650.1,1468.8 1650.5,1466.8 1650.8,1466 1651.2,1469.1 1651.6,1470.3 1652,1473.9 1652.3,1465 1652.7,1467.1 1653.1,1468.1 1653.4,1475 1653.8,1467 1654.2,1471.1 1654.6,1469.6 1654.9,1469.2 1655.3,1467.2 1655.7,1471.1 1656.1,1472.2 1656.4,1468.7 1656.8,1469.6 1657.2,1472.1 1657.5,1465 1657.9,1467.5 1658.3,1475.2 1658.7,1477.3 1659,1476.4 1659.4,1472 1659.8,1469.6 1660.2,1466.3 1660.5,1470.4 1660.9,1472.8 1661.3,1470.6 1661.6,1471 1662,1473.8 1662.4,1470.8 1662.8,1476.8 1663.1,1472.3 1663.5,1470.1 1663.9,1472 1664.3,1470 1664.6,1468.6 1665,1469.9 1665.4,1469.7 1665.8,1469.8 1666.1,1472.2 1666.5,1469 1666.9,1471 1667.2,1474.6 1667.6,1469.2 1668,1471.9 1668.4,1481.7 1668.7,1467.4 1669.1,1471.8 1669.5,1474.2 1669.9,1469.9 1670.2,1471 1670.6,1471.4 1671,1467.5 1671.3,1469.1 1671.7,1472.9 1672.1,1474.2 1672.5,1475.9 1672.8,1471.1 1673.2,1472 1673.6,1469.5 1674,1471.9"/>
</g>
<line x1="897.7" y1="1181" x2="897.7" y2="1585.4" stroke="#000" stroke-width="3.8"/>
<line x1="895.2" y1="1583.5" x2="1704.2" y2="1583.5" stroke="#000" stroke-width="3.8"/>
<line x1="871.7" y1="1578.3" x2="897.7" y2="1578.3" stroke="#000" stroke-width="3.8"/>
<text x="803" y="1594.6" font-family='"Liberation Sans", sans-serif' font-size="35" fill="#000" text-anchor="start" stroke="#000" stroke-width="0.5">10</text>
<text x="841.8" y="1573.7" font-family='"Liberation Sans", sans-serif' font-size="26" fill="#000" text-anchor="start" stroke="#000" stroke-width="0.5">0</text>
<line x1="871.7" y1="1485.8" x2="897.7" y2="1485.8" stroke="#000" stroke-width="3.8"/>
<text x="803" y="1502.1" font-family='"Liberation Sans", sans-serif' font-size="35" fill="#000" text-anchor="start" stroke="#000" stroke-width="0.5">10</text>
<text x="841.8" y="1481.2" font-family='"Liberation Sans", sans-serif' font-size="26" fill="#000" text-anchor="start" stroke="#000" stroke-width="0.5">1</text>
<line x1="871.7" y1="1393.3" x2="897.7" y2="1393.3" stroke="#000" stroke-width="3.8"/>
<text x="803" y="1409.6" font-family='"Liberation Sans", sans-serif' font-size="35" fill="#000" text-anchor="start" stroke="#000" stroke-width="0.5">10</text>
<text x="841.8" y="1388.7" font-family='"Liberation Sans", sans-serif' font-size="26" fill="#000" text-anchor="start" stroke="#000" stroke-width="0.5">2</text>
<line x1="871.7" y1="1300.8" x2="897.7" y2="1300.8" stroke="#000" stroke-width="3.8"/>
<text x="803" y="1317.1" font-family='"Liberation Sans", sans-serif' font-size="35" fill="#000" text-anchor="start" stroke="#000" stroke-width="0.5">10</text>
<text x="841.8" y="1296.2" font-family='"Liberation Sans", sans-serif' font-size="26" fill="#000" text-anchor="start" stroke="#000" stroke-width="0.5">3</text>
<line x1="871.7" y1="1208.3" x2="897.7" y2="1208.3" stroke="#000" stroke-width="3.8"/>
<text x="803" y="1224.6" font-family='"Liberation Sans", sans-serif' font-size="35" fill="#000" text-anchor="start" stroke="#000" stroke-width="0.5">10</text>
<text x="841.8" y="1203.7" font-family='"Liberation Sans", sans-serif' font-size="26" fill="#000" text-anchor="start" stroke="#000" stroke-width="0.5">4</text>
<line x1="948.1" y1="1583.5" x2="948.1" y2="1609.5" stroke="#000" stroke-width="3.8"/>
<text x="948.1" y="1650.7" font-family='"Liberation Sans", sans-serif' font-size="35" fill="#000" text-anchor="middle" stroke="#000" stroke-width="0.5">0</text>
<line x1="1134.6" y1="1583.5" x2="1134.6" y2="1609.5" stroke="#000" stroke-width="3.8"/>
<text x="1134.6" y="1650.7" font-family='"Liberation Sans", sans-serif' font-size="35" fill="#000" text-anchor="middle" stroke="#000" stroke-width="0.5">10</text>
<line x1="1321.1" y1="1583.5" x2="1321.1" y2="1609.5" stroke="#000" stroke-width="3.8"/>
<text x="1321.1" y="1650.7" font-family='"Liberation Sans", sans-serif' font-size="35" fill="#000" text-anchor="middle" stroke="#000" stroke-width="0.5">20</text>
<line x1="1507.6" y1="1583.5" x2="1507.6" y2="1609.5" stroke="#000" stroke-width="3.8"/>
<text x="1507.6" y="1650.7" font-family='"Liberation Sans", sans-serif' font-size="35" fill="#000" text-anchor="middle" stroke="#000" stroke-width="0.5">30</text>
<line x1="1694.1" y1="1583.5" x2="1694.1" y2="1609.5" stroke="#000" stroke-width="3.8"/>
<text x="1694.1" y="1650.7" font-family='"Liberation Sans", sans-serif' font-size="35" fill="#000" text-anchor="middle" stroke="#000" stroke-width="0.5">40</text>
<text x="1304" y="1693.9" font-family='"Liberation Sans", sans-serif' font-size="35" fill="#000" text-anchor="middle" stroke="#000" stroke-width="0.5">Delay in ns</text>
<text transform="translate(806.9 1378) rotate(-90)" font-family='"Liberation Sans", sans-serif' font-size="35" text-anchor="middle" stroke="#000" stroke-width="0.5">Counts</text>
<line x1="1557.3" y1="1218.5" x2="1613" y2="1218.5" stroke="#ff0000" stroke-width="3.8"/>
<text x="1625" y="1228.8" font-family='"Liberation Sans", sans-serif' font-size="36" fill="#000" text-anchor="start" stroke="#000" stroke-width="0.5">A</text><text x="1650.2" y="1234.9" font-family='"Liberation Sans", sans-serif' font-size="23.76" fill="#000" text-anchor="start" stroke="#000" stroke-width="0.5">1</text>
<line x1="1557.3" y1="1259.15" x2="1613" y2="1259.15" stroke="#8000ff" stroke-width="3.8"/>
<text x="1625" y="1269.45" font-family='"Liberation Sans", sans-serif' font-size="36" fill="#000" text-anchor="start" stroke="#000" stroke-width="0.5">A</text><text x="1650.2" y="1275.55" font-family='"Liberation Sans", sans-serif' font-size="23.76" fill="#000" text-anchor="start" stroke="#000" stroke-width="0.5">2</text>
<line x1="1557.3" y1="1299.8" x2="1613" y2="1299.8" stroke="#00ff40" stroke-width="3.8"/>
<text x="1626.6" y="1310.1" font-family='"Liberation Sans", sans-serif' font-size="36" fill="#000" text-anchor="start" stroke="#000" stroke-width="0.5">B</text><text x="1651.8" y="1316.2" font-family='"Liberation Sans", sans-serif' font-size="23.76" fill="#000" text-anchor="start" stroke="#000" stroke-width="0.5">1</text>
<line x1="840.1" y1="2095.8" x2="1697.42" y2="2095.8" stroke="#000" stroke-width="3.4"/>
<polyline fill="none" stroke="#ff0000" stroke-width="3.7" stroke-linejoin="bevel" points="876.6,2095.9 886.9,2091.2 897.2,2088.3 907.5,2087.3 917.8,2086.1 928.2,2083.2 938.5,2087.4 948.8,2083.5 959.1,2091.4 969.4,2091.7 979.7,2090.9 990.1,2094.7 1000.4,2094.2 1010.7,2094.1 1021,2094.7 1031.3,2095.5 1041.7,2096.4 1052,2095.9 1062.3,2095.8 1072.6,2095.8 1082.9,2095.8 1093.3,2095.8 1103.6,2095.8 1113.9,2095.8 1124.2,2095.8 1134.5,2095.3 1144.9,2093.2 1155.2,2014.9 1165.5,1965.4 1175.8,1918 1186.1,1890.7 1196.4,1871.3 1206.8,1860.4 1217.1,1861.6 1227.4,1870.1 1237.7,1889.5 1248,1915 1258.4,1918.9 1268.7,1946.6 1279,1955 1289.3,1984.1 1299.6,1995.8 1310,2009.9 1320.3,2027 1330.6,2042.8 1340.9,2052 1351.2,2065.3 1361.6,2074.3 1371.9,2082.9 1382.2,2089.3 1392.5,2093.1 1402.8,2094.7 1413.1,2091.2 1423.5,1940 1433.8,1862.2 1444.1,1809.1 1454.4,1772.1 1464.7,1742.3 1475.1,1761.9 1485.4,1740.2 1495.7,1778.1 1506,1798.8 1516.3,1824 1526.7,1882.1 1537,1906.3 1547.3,1927 1557.6,1948.7 1567.9,1982.7 1578.3,2009.7 1588.6,2029.3 1598.9,2041.8 1609.2,2054.7 1619.5,2068.2 1629.8,2079.4 1640.2,2085.3 1650.5,2091 1660.8,2094.2 1671.1,2095.5 1681.4,2095.7 1691.8,2095.7"/>
<polyline fill="none" stroke="#00ff40" stroke-width="3.7" stroke-linejoin="bevel" points="876.6,2095.8 886.9,2088 897.2,2066.8 907.5,2046.3 917.8,2031 928.2,2022.1 938.5,2003.8 948.8,2001.6 959.1,2000.9 969.4,2017.8 979.7,2035.6 990.1,2044.8 1000.4,2056.5 1010.7,2066.8 1021,2074.8 1031.3,2080.7 1041.7,2085.9 1052,2089.5 1062.3,2092 1072.6,2093.9 1082.9,2094.9 1093.3,2095.4 1103.6,2095.8 1113.9,2095.8 1124.2,2095.8 1134.5,2095.8 1144.9,2095.8 1155.2,2100.7 1165.5,2092.2 1175.8,2098 1186.1,2089.8 1196.4,2077.3 1206.8,2067.8 1217.1,2058.4 1227.4,2053 1237.7,2047.6 1248,2042.7 1258.4,2060.9 1268.7,2057.9 1279,2071.2 1289.3,2067 1299.6,2076.5 1310,2082.4 1320.3,2085.5 1330.6,2087.4 1340.9,2092.5 1351.2,2092.9 1361.6,2095.3 1371.9,2095.3 1382.2,2095.8 1392.5,2095.8 1402.8,2095.8 1413.1,2095.8 1423.5,2095.8 1433.8,2077.6 1444.1,2071.7 1454.4,2064.6 1464.7,2066.1 1475.1,2038.2 1485.4,2065.4 1495.7,2052.5 1506,2066.6 1516.3,2080.4 1526.7,2064.6 1537,2076.6 1547.3,2088.9 1557.6,2097.3 1567.9,2091.7 1578.3,2090.4 1588.6,2092.6 1598.9,2096.8 1609.2,2099.2 1619.5,2097.6 1629.8,2095.8 1640.2,2096.3 1650.5,2095.8 1660.8,2095.8 1671.1,2095.8 1681.4,2095.8 1691.8,2095.8"/>
<polyline fill="none" stroke="#8000ff" stroke-width="3.7" stroke-linejoin="bevel" points="876.6,2096.1 886.9,2095.3 897.2,2094.3 907.5,2093.4 917.8,2092.8 928.2,2092.6 938.5,2092 948.8,2091.7 959.1,2089.9 969.4,2089.8 979.7,2090.5 990.1,2091 1000.4,2092 1010.7,2092.8 1021,2093.4 1031.3,2093.7 1041.7,2094.6 1052,2095.4 1062.3,2095.8 1072.6,2095.8 1082.9,2095.8 1093.3,2095.8 1103.6,2095.8 1113.9,2095.8 1124.2,2095.8 1134.5,2095.8 1144.9,2095.3 1155.2,2078.1 1165.5,2058.4 1175.8,2042.7 1186.1,2023 1196.4,2000.4 1206.8,1976.2 1217.1,1953.1 1227.4,1933.4 1237.7,1922.1 1248,1918.7 1258.4,1923.6 1268.7,1927.5 1279,1935.9 1289.3,1944.8 1299.6,1958 1310,1974.3 1320.3,1992.5 1330.6,2012.2 1340.9,2030.4 1351.2,2046.6 1361.6,2061.4 1371.9,2074.9 1382.2,2086 1392.5,2092.2 1402.8,2095 1413.1,2095.2 1423.5,2060.9 1433.8,2028.2 1444.1,2001.3 1454.4,1974.8 1464.7,1947.2 1475.1,1919.4 1485.4,1902 1495.7,1885.7 1506,1884.2 1516.3,1891.6 1526.7,1901 1537,1915.2 1547.3,1931 1557.6,1948.2 1567.9,1965.4 1578.3,1985.6 1588.6,2007.2 1598.9,2027.4 1609.2,2045.6 1619.5,2060.9 1629.8,2073.3 1640.2,2083.4 1650.5,2089.6 1660.8,2093.7 1671.1,2094.8 1681.4,2095.4 1691.8,2095.6"/>
<line x1="866.1" y1="1741" x2="866.1" y2="2107.9" stroke="#000" stroke-width="3.8"/>
<line x1="863.6" y1="2106" x2="1698.82" y2="2106" stroke="#000" stroke-width="3.8"/>
<line x1="871.4" y1="2106" x2="871.4" y2="2131.5" stroke="#000" stroke-width="3.5"/>
<line x1="881.72" y1="2106" x2="881.72" y2="2131.5" stroke="#000" stroke-width="3.5"/>
<line x1="892.04" y1="2106" x2="892.04" y2="2131.5" stroke="#000" stroke-width="3.5"/>
<line x1="902.36" y1="2106" x2="902.36" y2="2131.5" stroke="#000" stroke-width="3.5"/>
<line x1="912.68" y1="2106" x2="912.68" y2="2131.5" stroke="#000" stroke-width="3.5"/>
<line x1="923" y1="2106" x2="923" y2="2131.5" stroke="#000" stroke-width="3.5"/>
<line x1="933.31" y1="2106" x2="933.31" y2="2131.5" stroke="#000" stroke-width="3.5"/>
<line x1="943.63" y1="2106" x2="943.63" y2="2131.5" stroke="#000" stroke-width="3.5"/>
<line x1="953.95" y1="2106" x2="953.95" y2="2131.5" stroke="#000" stroke-width="3.5"/>
<line x1="964.27" y1="2106" x2="964.27" y2="2131.5" stroke="#000" stroke-width="3.5"/>
<line x1="974.59" y1="2106" x2="974.59" y2="2131.5" stroke="#000" stroke-width="3.5"/>
<line x1="984.91" y1="2106" x2="984.91" y2="2131.5" stroke="#000" stroke-width="3.5"/>
<line x1="995.23" y1="2106" x2="995.23" y2="2131.5" stroke="#000" stroke-width="3.5"/>
<line x1="1005.55" y1="2106" x2="1005.55" y2="2131.5" stroke="#000" stroke-width="3.5"/>
<line x1="1015.87" y1="2106" x2="1015.87" y2="2131.5" stroke="#000" stroke-width="3.5"/>
<line x1="1026.18" y1="2106" x2="1026.18" y2="2131.5" stroke="#000" stroke-width="3.5"/>
<line x1="1036.5" y1="2106" x2="1036.5" y2="2131.5" stroke="#000" stroke-width="3.5"/>
<line x1="1046.82" y1="2106" x2="1046.82" y2="2131.5" stroke="#000" stroke-width="3.5"/>
<line x1="1057.14" y1="2106" x2="1057.14" y2="2131.5" stroke="#000" stroke-width="3.5"/>
<line x1="1067.46" y1="2106" x2="1067.46" y2="2131.5" stroke="#000" stroke-width="3.5"/>
<line x1="1077.78" y1="2106" x2="1077.78" y2="2131.5" stroke="#000" stroke-width="3.5"/>
<line x1="1088.1" y1="2106" x2="1088.1" y2="2131.5" stroke="#000" stroke-width="3.5"/>
<line x1="1098.42" y1="2106" x2="1098.42" y2="2131.5" stroke="#000" stroke-width="3.5"/>
<line x1="1108.74" y1="2106" x2="1108.74" y2="2131.5" stroke="#000" stroke-width="3.5"/>
<line x1="1119.06" y1="2106" x2="1119.06" y2="2131.5" stroke="#000" stroke-width="3.5"/>
<line x1="1129.38" y1="2106" x2="1129.38" y2="2131.5" stroke="#000" stroke-width="3.5"/>
<line x1="1139.69" y1="2106" x2="1139.69" y2="2131.5" stroke="#000" stroke-width="3.5"/>
<line x1="1150.01" y1="2106" x2="1150.01" y2="2131.5" stroke="#000" stroke-width="3.5"/>
<line x1="1160.33" y1="2106" x2="1160.33" y2="2131.5" stroke="#000" stroke-width="3.5"/>
<line x1="1170.65" y1="2106" x2="1170.65" y2="2131.5" stroke="#000" stroke-width="3.5"/>
<line x1="1180.97" y1="2106" x2="1180.97" y2="2131.5" stroke="#000" stroke-width="3.5"/>
<line x1="1191.29" y1="2106" x2="1191.29" y2="2131.5" stroke="#000" stroke-width="3.5"/>
<line x1="1201.61" y1="2106" x2="1201.61" y2="2131.5" stroke="#000" stroke-width="3.5"/>
<line x1="1211.93" y1="2106" x2="1211.93" y2="2131.5" stroke="#000" stroke-width="3.5"/>
<line x1="1222.25" y1="2106" x2="1222.25" y2="2131.5" stroke="#000" stroke-width="3.5"/>
<line x1="1232.57" y1="2106" x2="1232.57" y2="2131.5" stroke="#000" stroke-width="3.5"/>
<line x1="1242.88" y1="2106" x2="1242.88" y2="2131.5" stroke="#000" stroke-width="3.5"/>
<line x1="1253.2" y1="2106" x2="1253.2" y2="2131.5" stroke="#000" stroke-width="3.5"/>
<line x1="1263.52" y1="2106" x2="1263.52" y2="2131.5" stroke="#000" stroke-width="3.5"/>
<line x1="1273.84" y1="2106" x2="1273.84" y2="2131.5" stroke="#000" stroke-width="3.5"/>
<line x1="1284.16" y1="2106" x2="1284.16" y2="2131.5" stroke="#000" stroke-width="3.5"/>
<line x1="1294.48" y1="2106" x2="1294.48" y2="2131.5" stroke="#000" stroke-width="3.5"/>
<line x1="1304.8" y1="2106" x2="1304.8" y2="2131.5" stroke="#000" stroke-width="3.5"/>
<line x1="1315.12" y1="2106" x2="1315.12" y2="2131.5" stroke="#000" stroke-width="3.5"/>
<line x1="1325.44" y1="2106" x2="1325.44" y2="2131.5" stroke="#000" stroke-width="3.5"/>
<line x1="1335.76" y1="2106" x2="1335.76" y2="2131.5" stroke="#000" stroke-width="3.5"/>
<line x1="1346.07" y1="2106" x2="1346.07" y2="2131.5" stroke="#000" stroke-width="3.5"/>
<line x1="1356.39" y1="2106" x2="1356.39" y2="2131.5" stroke="#000" stroke-width="3.5"/>
<line x1="1366.71" y1="2106" x2="1366.71" y2="2131.5" stroke="#000" stroke-width="3.5"/>
<line x1="1377.03" y1="2106" x2="1377.03" y2="2131.5" stroke="#000" stroke-width="3.5"/>
<line x1="1387.35" y1="2106" x2="1387.35" y2="2131.5" stroke="#000" stroke-width="3.5"/>
<line x1="1397.67" y1="2106" x2="1397.67" y2="2131.5" stroke="#000" stroke-width="3.5"/>
<line x1="1407.99" y1="2106" x2="1407.99" y2="2131.5" stroke="#000" stroke-width="3.5"/>
<line x1="1418.31" y1="2106" x2="1418.31" y2="2131.5" stroke="#000" stroke-width="3.5"/>
<line x1="1428.63" y1="2106" x2="1428.63" y2="2131.5" stroke="#000" stroke-width="3.5"/>
<line x1="1438.95" y1="2106" x2="1438.95" y2="2131.5" stroke="#000" stroke-width="3.5"/>
<line x1="1449.26" y1="2106" x2="1449.26" y2="2131.5" stroke="#000" stroke-width="3.5"/>
<line x1="1459.58" y1="2106" x2="1459.58" y2="2131.5" stroke="#000" stroke-width="3.5"/>
<line x1="1469.9" y1="2106" x2="1469.9" y2="2131.5" stroke="#000" stroke-width="3.5"/>
<line x1="1480.22" y1="2106" x2="1480.22" y2="2131.5" stroke="#000" stroke-width="3.5"/>
<line x1="1490.54" y1="2106" x2="1490.54" y2="2131.5" stroke="#000" stroke-width="3.5"/>
<line x1="1500.86" y1="2106" x2="1500.86" y2="2131.5" stroke="#000" stroke-width="3.5"/>
<line x1="1511.18" y1="2106" x2="1511.18" y2="2131.5" stroke="#000" stroke-width="3.5"/>
<line x1="1521.5" y1="2106" x2="1521.5" y2="2131.5" stroke="#000" stroke-width="3.5"/>
<line x1="1531.82" y1="2106" x2="1531.82" y2="2131.5" stroke="#000" stroke-width="3.5"/>
<line x1="1542.13" y1="2106" x2="1542.13" y2="2131.5" stroke="#000" stroke-width="3.5"/>
<line x1="1552.45" y1="2106" x2="1552.45" y2="2131.5" stroke="#000" stroke-width="3.5"/>
<line x1="1562.77" y1="2106" x2="1562.77" y2="2131.5" stroke="#000" stroke-width="3.5"/>
<line x1="1573.09" y1="2106" x2="1573.09" y2="2131.5" stroke="#000" stroke-width="3.5"/>
<line x1="1583.41" y1="2106" x2="1583.41" y2="2131.5" stroke="#000" stroke-width="3.5"/>
<line x1="1593.73" y1="2106" x2="1593.73" y2="2131.5" stroke="#000" stroke-width="3.5"/>
<line x1="1604.05" y1="2106" x2="1604.05" y2="2131.5" stroke="#000" stroke-width="3.5"/>
<line x1="1614.37" y1="2106" x2="1614.37" y2="2131.5" stroke="#000" stroke-width="3.5"/>
<line x1="1624.69" y1="2106" x2="1624.69" y2="2131.5" stroke="#000" stroke-width="3.5"/>
<line x1="1635.01" y1="2106" x2="1635.01" y2="2131.5" stroke="#000" stroke-width="3.5"/>
<line x1="1645.33" y1="2106" x2="1645.33" y2="2131.5" stroke="#000" stroke-width="3.5"/>
<line x1="1655.64" y1="2106" x2="1655.64" y2="2131.5" stroke="#000" stroke-width="3.5"/>
<line x1="1665.96" y1="2106" x2="1665.96" y2="2131.5" stroke="#000" stroke-width="3.5"/>
<line x1="1676.28" y1="2106" x2="1676.28" y2="2131.5" stroke="#000" stroke-width="3.5"/>
<line x1="1686.6" y1="2106" x2="1686.6" y2="2131.5" stroke="#000" stroke-width="3.5"/>
<line x1="1696.92" y1="2106" x2="1696.92" y2="2131.5" stroke="#000" stroke-width="3.5"/>
<line x1="840.1" y1="2095.8" x2="866.1" y2="2095.8" stroke="#000" stroke-width="3.8"/>
<text x="828.3" y="2107" font-family='"Liberation Sans", sans-serif' font-size="36" fill="#000" text-anchor="end" stroke="#000" stroke-width="0.5">0</text>
<line x1="840.1" y1="1997.4" x2="866.1" y2="1997.4" stroke="#000" stroke-width="3.8"/>
<text x="828.3" y="2008.6" font-family='"Liberation Sans", sans-serif' font-size="36" fill="#000" text-anchor="end" stroke="#000" stroke-width="0.5">2</text>
<line x1="840.1" y1="1899" x2="866.1" y2="1899" stroke="#000" stroke-width="3.8"/>
<text x="828.3" y="1910.2" font-family='"Liberation Sans", sans-serif' font-size="36" fill="#000" text-anchor="end" stroke="#000" stroke-width="0.5">4</text>
<line x1="840.1" y1="1800.6" x2="866.1" y2="1800.6" stroke="#000" stroke-width="3.8"/>
<text x="828.3" y="1811.8" font-family='"Liberation Sans", sans-serif' font-size="36" fill="#000" text-anchor="end" stroke="#000" stroke-width="0.5">6</text>
<line x1="852.1" y1="2046.6" x2="866.1" y2="2046.6" stroke="#000" stroke-width="3.8"/>
<line x1="852.1" y1="1948.2" x2="866.1" y2="1948.2" stroke="#000" stroke-width="3.8"/>
<line x1="852.1" y1="1849.8" x2="866.1" y2="1849.8" stroke="#000" stroke-width="3.8"/>
<line x1="852.1" y1="1751.4" x2="866.1" y2="1751.4" stroke="#000" stroke-width="3.8"/>
<text transform="translate(886.36 2140.5) rotate(-90)" font-family='"Liberation Sans", sans-serif' font-size="36" text-anchor="end" stroke="#000" stroke-width="0.5">410</text>
<text transform="translate(958.59 2140.5) rotate(-90)" font-family='"Liberation Sans", sans-serif' font-size="36" text-anchor="end" stroke="#000" stroke-width="0.5">450</text>
<text transform="translate(1051.46 2140.5) rotate(-90)" font-family='"Liberation Sans", sans-serif' font-size="36" text-anchor="end" stroke="#000" stroke-width="0.5">500</text>
<text transform="translate(1134.02 2140.5) rotate(-90)" font-family='"Liberation Sans", sans-serif' font-size="36" text-anchor="end" stroke="#000" stroke-width="0.5">400</text>
<text transform="translate(1226.89 2140.5) rotate(-90)" font-family='"Liberation Sans", sans-serif' font-size="36" text-anchor="end" stroke="#000" stroke-width="0.5">451</text>
<text transform="translate(1319.76 2140.5) rotate(-90)" font-family='"Liberation Sans", sans-serif' font-size="36" text-anchor="end" stroke="#000" stroke-width="0.5">501</text>
<text transform="translate(1412.63 2140.5) rotate(-90)" font-family='"Liberation Sans", sans-serif' font-size="36" text-anchor="end" stroke="#000" stroke-width="0.5">551</text>
<text transform="translate(1495.18 2140.5) rotate(-90)" font-family='"Liberation Sans", sans-serif' font-size="36" text-anchor="end" stroke="#000" stroke-width="0.5">450</text>
<text transform="translate(1588.05 2140.5) rotate(-90)" font-family='"Liberation Sans", sans-serif' font-size="36" text-anchor="end" stroke="#000" stroke-width="0.5">500</text>
<text transform="translate(1680.92 2140.5) rotate(-90)" font-family='"Liberation Sans", sans-serif' font-size="36" text-anchor="end" stroke="#000" stroke-width="0.5">550</text>
<text x="1028.5" y="2257.1" font-family='"Liberation Sans", sans-serif' font-size="36" fill="#000" text-anchor="middle" stroke="#000" stroke-width="0.5">Scan 1</text>
<text x="1284.7" y="2257.1" font-family='"Liberation Sans", sans-serif' font-size="36" fill="#000" text-anchor="middle" stroke="#000" stroke-width="0.5">Scan 3</text>
<text x="1540.9" y="2257.1" font-family='"Liberation Sans", sans-serif' font-size="36" fill="#000" text-anchor="middle" stroke="#000" stroke-width="0.5">Scan 2</text>
<line x1="993.2" y1="1747.1" x2="1048.6" y2="1747.1" stroke="#ff0000" stroke-width="3.8"/>
<text x="1061.2" y="1756.6" font-family='"Liberation Sans", sans-serif' font-size="36" fill="#000" text-anchor="start" stroke="#000" stroke-width="0.5">A</text><text x="1086.4" y="1762.7" font-family='"Liberation Sans", sans-serif' font-size="23.76" fill="#000" text-anchor="start" stroke="#000" stroke-width="0.5">1</text>
<line x1="993.2" y1="1787.6" x2="1048.6" y2="1787.6" stroke="#8000ff" stroke-width="3.8"/>
<text x="1061.2" y="1797.1" font-family='"Liberation Sans", sans-serif' font-size="36" fill="#000" text-anchor="start" stroke="#000" stroke-width="0.5">A</text><text x="1086.4" y="1803.2" font-family='"Liberation Sans", sans-serif' font-size="23.76" fill="#000" text-anchor="start" stroke="#000" stroke-width="0.5">2</text>
<line x1="993.2" y1="1828.1" x2="1048.6" y2="1828.1" stroke="#00ff40" stroke-width="3.8"/>
<text x="1062.8" y="1837.6" font-family='"Liberation Sans", sans-serif' font-size="36" fill="#000" text-anchor="start" stroke="#000" stroke-width="0.5">B</text><text x="1088" y="1843.7" font-family='"Liberation Sans", sans-serif' font-size="23.76" fill="#000" text-anchor="start" stroke="#000" stroke-width="0.5">1</text>
</svg>
</body></html>
